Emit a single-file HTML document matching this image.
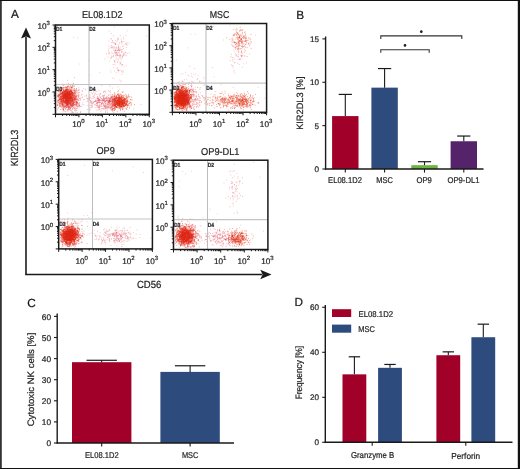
<!DOCTYPE html>
<html><head><meta charset="utf-8"><style>
html,body{margin:0;padding:0;background:#fff;width:520px;height:469px;overflow:hidden}
svg{display:block;will-change:transform;text-rendering:geometricPrecision}
text{font-family:"Liberation Sans", sans-serif;stroke:#2a2a2a;stroke-width:0.22px}
</style></head><body>
<svg width="520" height="469" viewBox="0 0 520 469" font-family='"Liberation Sans", sans-serif'>
<rect x="0" y="0" width="520" height="469" fill="#fff"/>
<path d="M0.9 0 V469" stroke="#333" stroke-width="1.8" fill="none"/>
<path d="M518.9 0 V469" stroke="#111" stroke-width="2.2" fill="none"/>
<path d="M0 0.5 H520" stroke="#111" stroke-width="1.2" fill="none"/>
<path d="M0 468.5 H520" stroke="#111" stroke-width="1.2" fill="none"/>
<text x="11.00" y="18.40" font-size="11.8" text-anchor="start" fill="#111" >A</text>
<text x="296.20" y="18.80" font-size="11.8" text-anchor="start" fill="#111" >B</text>
<text x="27.30" y="306.50" font-size="11.8" text-anchor="start" fill="#111" >C</text>
<text x="294.60" y="306.20" font-size="11.8" text-anchor="start" fill="#111" >D</text>
<path d="M67.3 97.8h0.9M67.6 101.9h0.9M67.8 92.2h0.9M58.6 99.5h0.9M68.0 93.9h0.9M60.3 92.2h0.9M67.2 102.5h0.9M61.7 93.1h0.9M64.3 107.9h0.9M66.4 96.3h0.9M68.2 95.3h0.9M71.4 99.0h0.9M65.2 100.8h0.9M66.1 94.2h0.9M66.4 93.9h0.9M67.2 93.8h0.9M61.4 103.3h0.9M68.1 97.5h0.9M66.5 96.7h0.9M67.5 89.8h0.9M67.7 97.4h0.9M57.5 104.7h0.9M67.9 97.0h0.9M66.6 94.8h0.9M64.4 102.7h0.9M64.1 91.0h0.9M61.0 97.2h0.9M73.8 99.2h0.9M67.2 93.3h0.9M62.2 100.3h0.9M65.3 100.2h0.9M72.7 90.3h0.9M71.7 93.0h0.9M65.2 98.9h0.9M75.9 102.8h0.9M67.2 98.4h0.9M66.2 98.1h0.9M59.7 94.0h0.9M62.7 103.1h0.9M76.6 103.7h0.9M65.2 91.9h0.9M67.2 105.2h0.9M73.4 94.9h0.9M67.5 98.2h0.9M62.5 94.5h0.9M67.3 104.4h0.9M69.0 97.4h0.9M66.1 103.1h0.9M64.7 98.6h0.9M70.4 97.6h0.9M74.3 91.1h0.9M69.6 94.2h0.9M65.5 92.0h0.9M63.4 99.8h0.9M64.5 95.9h0.9M66.1 104.6h0.9M73.2 101.8h0.9M76.3 110.3h0.9M71.7 104.5h0.9M68.3 97.7h0.9M69.6 97.1h0.9M58.3 96.0h0.9M65.6 93.2h0.9M61.9 94.0h0.9M72.4 100.1h0.9M65.5 96.6h0.9M68.3 93.0h0.9M65.6 90.3h0.9M69.4 92.6h0.9M65.9 99.5h0.9M68.1 98.5h0.9M68.9 97.0h0.9M63.5 100.3h0.9M60.3 109.5h0.9M74.2 92.7h0.9M66.6 91.7h0.9M71.7 96.2h0.9M59.0 99.2h0.9M62.1 94.1h0.9M69.3 106.6h0.9M68.4 99.2h0.9M60.1 99.0h0.9M60.9 96.4h0.9M72.1 101.4h0.9M71.1 92.3h0.9M66.9 97.8h0.9M75.9 101.8h0.9M67.0 97.3h0.9M64.0 94.1h0.9M61.0 99.1h0.9M67.7 95.6h0.9M66.1 88.0h0.9M66.6 97.1h0.9M68.6 103.5h0.9M68.3 98.3h0.9M60.1 93.3h0.9M61.3 93.9h0.9M74.6 93.0h0.9M69.1 95.0h0.9M70.0 95.4h0.9M59.8 106.8h0.9M64.5 96.7h0.9M64.5 95.3h0.9M70.4 98.6h0.9M64.8 102.7h0.9M68.2 90.6h0.9M66.4 97.8h0.9M64.3 92.0h0.9M72.0 92.7h0.9M64.1 95.1h0.9M71.5 97.9h0.9M67.6 97.7h0.9M69.4 98.9h0.9M66.6 97.7h0.9M65.6 100.5h0.9M66.3 93.5h0.9M71.7 94.1h0.9M72.9 93.3h0.9M69.9 107.8h0.9M70.4 91.7h0.9M64.5 97.9h0.9M76.4 102.6h0.9M67.7 102.0h0.9M65.9 102.0h0.9M75.8 95.6h0.9M67.0 100.4h0.9M62.3 98.2h0.9M70.6 93.8h0.9M74.4 99.0h0.9M64.2 94.7h0.9M70.8 87.9h0.9M65.6 100.0h0.9M66.4 92.9h0.9M64.3 92.3h0.9M70.2 101.2h0.9M60.6 101.9h0.9M67.8 96.2h0.9M67.7 107.2h0.9M79.1 105.6h0.9M65.1 96.1h0.9M60.7 104.1h0.9M71.0 96.2h0.9M61.9 96.6h0.9M71.6 94.7h0.9M66.9 97.1h0.9M67.4 103.8h0.9M71.3 105.7h0.9M63.0 95.7h0.9M66.0 95.5h0.9M62.9 95.4h0.9M72.5 97.8h0.9M67.8 98.6h0.9M68.2 104.4h0.9M64.9 90.0h0.9M72.1 97.0h0.9M72.8 105.3h0.9M65.6 105.7h0.9M64.3 98.0h0.9M67.4 91.5h0.9M72.8 100.9h0.9M75.8 89.9h0.9M70.7 103.3h0.9M56.9 105.2h0.9M69.0 99.2h0.9M72.0 98.9h0.9M72.2 107.0h0.9M72.0 99.1h0.9M65.4 99.7h0.9M65.5 96.1h0.9M66.3 97.3h0.9M68.6 97.8h0.9M74.6 91.1h0.9M67.0 105.3h0.9M70.0 94.7h0.9M65.9 96.7h0.9M117.4 104.0h0.9M121.9 92.2h0.9M125.5 108.2h0.9M117.4 100.5h0.9M115.5 106.6h0.9M113.7 100.9h0.9M123.2 99.3h0.9M118.5 103.3h0.9M121.6 97.4h0.9M114.2 107.5h0.9M125.4 96.3h0.9M121.3 100.8h0.9M117.9 99.2h0.9M121.6 102.8h0.9M118.9 105.2h0.9M122.1 109.6h0.9M117.8 104.2h0.9M127.9 96.0h0.9M121.3 106.5h0.9M123.3 96.9h0.9M114.9 105.5h0.9M119.1 103.1h0.9M113.1 103.8h0.9M113.3 99.5h0.9M122.1 101.2h0.9M124.6 98.3h0.9M121.3 97.4h0.9M120.2 106.6h0.9M115.5 105.3h0.9M121.9 100.3h0.9M125.4 105.3h0.9M116.1 102.9h0.9M118.4 100.6h0.9M109.3 102.7h0.9M117.1 104.6h0.9M116.9 94.8h0.9M118.6 106.4h0.9M119.0 101.7h0.9M118.8 103.3h0.9M113.9 110.4h0.9M118.5 97.2h0.9M118.5 98.3h0.9M114.7 98.4h0.9M119.5 102.0h0.9M113.7 96.8h0.9M126.4 96.1h0.9M121.1 106.7h0.9M115.6 103.0h0.9M114.6 103.1h0.9M109.3 101.2h0.9M111.0 97.8h0.9M117.4 102.4h0.9M117.2 103.2h0.9M115.4 100.9h0.9M128.4 105.5h0.9M121.1 99.8h0.9M117.4 104.2h0.9M117.2 104.6h0.9M127.5 97.9h0.9M116.7 107.5h0.9M118.3 103.3h0.9M124.2 102.4h0.9M123.2 105.5h0.9M122.7 103.5h0.9M121.0 105.1h0.9M121.1 95.3h0.9M117.1 100.6h0.9M117.5 103.1h0.9M118.4 97.0h0.9M117.2 100.3h0.9M119.2 107.2h0.9M114.1 98.8h0.9M111.3 96.8h0.9M119.4 98.3h0.9M114.0 98.6h0.9M115.7 98.1h0.9M119.8 100.7h0.9M126.0 96.0h0.9M120.6 102.5h0.9M122.2 100.6h0.9M114.5 106.0h0.9M113.6 95.4h0.9M117.2 99.2h0.9M121.0 105.2h0.9M117.6 105.1h0.9M119.2 103.0h0.9M106.9 98.9h0.9M119.7 106.5h0.9M113.7 101.1h0.9M122.7 103.6h0.9M123.6 100.2h0.9M123.0 100.1h0.9M122.2 103.8h0.9M129.0 103.2h0.9M126.5 101.4h0.9M123.4 101.3h0.9M117.6 103.8h0.9M131.3 103.0h0.9M110.0 99.0h0.9M121.4 96.7h0.9M115.0 106.6h0.9M123.2 101.9h0.9M122.1 103.1h0.9M123.8 98.3h0.9M121.5 98.3h0.9M116.9 103.9h0.9M120.5 104.6h0.9M119.0 97.6h0.9M109.5 101.7h0.9" stroke="#e2290b" stroke-width="0.9" stroke-opacity="0.55" fill="none"/>
<path d="M68.7 108.5h0.9M73.5 93.5h0.9M63.0 90.2h0.9M61.4 105.9h0.9M66.4 92.9h0.9M65.1 96.1h0.9M71.4 87.5h0.9M67.7 94.4h0.9M76.5 90.6h0.9M70.4 94.8h0.9M65.2 91.8h0.9M72.6 99.6h0.9M66.9 92.3h0.9M74.3 98.0h0.9M62.2 88.1h0.9M70.4 105.5h0.9M68.9 97.9h0.9M77.6 92.9h0.9M66.4 96.5h0.9M62.4 93.0h0.9M64.6 99.6h0.9M71.2 87.2h0.9M60.2 97.3h0.9M62.8 98.3h0.9M61.4 102.5h0.9M65.8 98.3h0.9M63.6 101.4h0.9M60.6 96.2h0.9M67.6 90.6h0.9M61.7 103.1h0.9M65.0 102.7h0.9M70.4 96.7h0.9M66.7 103.9h0.9M74.3 86.0h0.9M74.1 95.1h0.9M71.2 99.3h0.9M67.5 100.8h0.9M69.6 103.7h0.9M63.2 98.8h0.9M60.9 99.2h0.9M70.7 90.7h0.9M57.2 101.9h0.9M67.5 97.1h0.9M67.1 101.2h0.9M69.7 100.2h0.9M61.2 98.6h0.9M66.5 99.8h0.9M65.5 101.4h0.9M67.8 94.0h0.9M69.9 89.8h0.9M67.6 101.5h0.9M66.3 91.2h0.9M71.4 100.0h0.9M68.2 99.2h0.9M66.4 87.2h0.9M63.1 98.0h0.9M66.4 100.6h0.9M63.0 97.2h0.9M68.7 92.7h0.9M75.9 102.9h0.9M60.8 91.2h0.9M64.2 92.0h0.9M67.0 100.5h0.9M72.2 94.6h0.9M65.7 92.9h0.9M71.9 100.7h0.9M72.0 104.2h0.9M58.6 98.1h0.9M62.1 98.3h0.9M59.6 88.5h0.9M62.5 92.5h0.9M65.9 94.6h0.9M67.3 101.2h0.9M63.7 95.5h0.9M70.1 104.9h0.9M63.1 100.6h0.9M67.0 100.8h0.9M69.0 94.4h0.9M62.8 102.7h0.9M67.2 89.4h0.9M62.6 96.8h0.9M65.7 95.3h0.9M62.3 91.4h0.9M65.5 95.2h0.9M66.9 104.6h0.9M66.7 97.3h0.9M62.5 92.0h0.9M62.9 97.4h0.9M67.6 103.1h0.9M68.0 100.8h0.9M64.8 96.5h0.9M65.3 97.8h0.9M69.1 94.0h0.9M60.3 102.3h0.9M71.6 93.3h0.9M64.4 97.9h0.9M66.8 98.6h0.9M67.8 98.2h0.9M72.2 94.9h0.9M70.0 98.3h0.9M63.3 97.0h0.9M67.2 96.1h0.9M75.1 98.0h0.9M67.1 92.4h0.9M73.5 89.3h0.9M70.9 87.5h0.9M60.3 91.0h0.9M66.2 93.7h0.9M70.4 93.7h0.9M64.4 103.0h0.9M68.3 93.1h0.9M63.5 98.6h0.9M68.3 86.4h0.9M62.6 96.2h0.9M70.5 94.1h0.9M66.8 89.4h0.9M69.6 96.5h0.9M70.4 97.6h0.9M65.7 99.0h0.9M65.7 92.2h0.9M67.4 100.6h0.9M58.1 94.8h0.9M67.0 94.0h0.9M76.4 99.0h0.9M67.0 97.0h0.9M65.6 103.8h0.9M62.2 95.6h0.9M64.2 93.5h0.9M64.9 94.4h0.9M66.0 95.3h0.9M60.4 96.5h0.9M60.2 97.6h0.9M58.2 102.0h0.9M67.5 100.6h0.9M66.5 94.9h0.9M61.7 106.6h0.9M64.4 98.3h0.9M62.7 94.1h0.9M67.2 86.6h0.9M65.4 98.5h0.9M69.9 97.0h0.9M63.6 96.0h0.9M64.5 96.8h0.9M68.8 107.4h0.9M67.8 97.2h0.9M76.9 95.8h0.9M66.8 90.9h0.9M67.9 93.9h0.9M66.2 99.6h0.9M77.9 96.6h0.9M74.4 96.6h0.9M64.2 103.8h0.9M57.5 97.4h0.9M65.2 100.2h0.9M64.4 100.3h0.9M71.6 103.6h0.9M68.9 109.7h0.9M64.7 93.3h0.9M70.0 94.8h0.9M75.1 97.0h0.9M67.0 102.4h0.9M70.2 98.7h0.9M63.1 90.3h0.9M66.6 94.3h0.9M65.7 97.9h0.9M65.5 94.8h0.9M76.6 99.5h0.9M69.3 91.0h0.9M57.1 95.6h0.9M60.7 97.4h0.9M62.4 104.5h0.9M69.9 93.0h0.9M66.2 99.8h0.9M71.4 96.7h0.9M122.3 100.3h0.9M123.8 102.7h0.9M122.4 105.9h0.9M115.6 98.0h0.9M122.5 102.7h0.9M125.2 101.1h0.9M117.8 104.0h0.9M123.8 103.3h0.9M123.4 108.0h0.9M122.7 102.3h0.9M123.8 105.9h0.9M123.9 95.3h0.9M115.6 97.5h0.9M117.9 104.0h0.9M127.0 100.4h0.9M123.4 106.3h0.9M115.7 99.2h0.9M131.0 97.1h0.9M118.9 100.2h0.9M121.2 99.2h0.9M117.4 107.1h0.9M122.1 100.9h0.9M113.8 108.6h0.9M115.9 101.5h0.9M118.3 105.0h0.9M123.9 111.2h0.9M116.8 105.5h0.9M118.7 98.5h0.9M125.0 99.1h0.9M119.1 101.2h0.9M118.6 97.2h0.9M114.1 99.6h0.9M115.7 102.1h0.9M115.3 103.3h0.9M126.5 101.1h0.9M121.6 97.9h0.9M118.1 101.9h0.9M119.5 97.0h0.9M114.2 103.1h0.9M120.1 97.7h0.9M124.1 103.9h0.9M123.1 102.6h0.9M118.8 106.6h0.9M121.1 103.0h0.9M118.4 102.2h0.9M129.3 96.4h0.9M119.4 103.8h0.9M121.6 102.8h0.9M121.9 103.1h0.9M120.6 100.5h0.9M126.9 102.4h0.9M122.2 105.5h0.9M120.6 104.4h0.9M126.0 98.9h0.9M107.6 106.9h0.9M126.8 101.2h0.9M108.4 104.0h0.9M116.8 111.2h0.9M117.2 100.6h0.9M117.5 104.8h0.9M125.3 104.5h0.9M121.4 99.0h0.9M121.5 101.5h0.9M122.9 104.4h0.9M115.1 101.1h0.9M119.3 102.2h0.9M121.9 104.4h0.9M123.3 105.1h0.9M116.9 100.3h0.9M114.4 97.5h0.9M121.2 103.7h0.9M120.6 104.7h0.9M124.1 103.4h0.9M119.5 105.3h0.9M108.9 100.1h0.9M122.4 100.7h0.9M114.2 96.4h0.9M118.4 94.3h0.9M122.5 104.7h0.9M121.2 106.9h0.9M123.8 101.0h0.9M118.9 104.9h0.9M134.1 104.6h0.9M122.7 97.2h0.9M111.9 99.4h0.9M119.6 108.5h0.9M117.4 98.0h0.9M114.9 105.1h0.9M124.2 99.6h0.9M119.1 98.2h0.9M124.4 103.5h0.9M117.7 104.0h0.9M125.8 104.6h0.9M119.2 105.8h0.9M117.6 105.8h0.9M129.1 108.0h0.9M115.0 102.0h0.9M122.6 107.0h0.9M125.9 103.8h0.9M120.8 96.8h0.9M113.6 101.2h0.9M127.4 105.4h0.9M126.4 97.8h0.9M119.1 98.7h0.9M112.2 101.3h0.9M124.7 100.1h0.9M121.1 102.6h0.9M115.7 102.2h0.9M110.7 97.4h0.9" stroke="#e2290b" stroke-width="0.9" stroke-opacity="0.55" fill="none"/>
<path d="M66.0 102.6h0.9M65.0 94.1h0.9M67.2 94.1h0.9M58.8 102.7h0.9M62.8 96.3h0.9M64.6 97.3h0.9M73.6 100.9h0.9M70.8 98.7h0.9M67.0 96.3h0.9M67.9 97.1h0.9M61.2 98.9h0.9M73.1 103.5h0.9M65.3 94.0h0.9M67.2 97.1h0.9M65.7 98.8h0.9M59.5 98.9h0.9M63.5 97.0h0.9M70.5 99.3h0.9M68.5 99.8h0.9M66.8 94.6h0.9M59.3 95.7h0.9M73.0 96.9h0.9M72.4 100.2h0.9M73.1 103.7h0.9M64.7 94.9h0.9M74.9 101.9h0.9M66.3 100.1h0.9M63.8 91.8h0.9M73.4 95.6h0.9M70.2 102.9h0.9M69.1 98.7h0.9M69.8 100.4h0.9M61.6 94.2h0.9M62.0 92.1h0.9M59.7 94.1h0.9M63.3 94.4h0.9M67.0 97.1h0.9M68.2 94.5h0.9M71.4 102.2h0.9M66.9 104.6h0.9M64.1 96.8h0.9M61.9 104.7h0.9M67.5 97.0h0.9M64.2 98.1h0.9M75.2 98.5h0.9M68.5 89.9h0.9M72.8 92.8h0.9M58.9 99.2h0.9M68.3 91.3h0.9M67.0 98.1h0.9M65.7 96.3h0.9M66.3 98.8h0.9M63.8 94.3h0.9M67.3 94.7h0.9M62.5 109.3h0.9M72.3 92.0h0.9M64.6 105.7h0.9M63.4 91.8h0.9M65.9 96.5h0.9M70.0 93.7h0.9M71.2 97.8h0.9M70.2 91.6h0.9M66.5 95.8h0.9M72.3 95.4h0.9M61.3 97.8h0.9M59.3 105.1h0.9M68.3 94.3h0.9M73.5 96.3h0.9M79.0 102.8h0.9M65.5 91.5h0.9M65.0 95.7h0.9M62.6 93.1h0.9M64.3 97.1h0.9M69.1 95.3h0.9M67.1 99.6h0.9M67.1 109.7h0.9M72.4 103.2h0.9M63.6 96.6h0.9M61.7 100.7h0.9M68.0 100.8h0.9M61.2 103.8h0.9M73.7 97.8h0.9M66.0 100.5h0.9M63.3 104.6h0.9M62.1 98.8h0.9M63.8 97.5h0.9M70.1 95.0h0.9M66.2 89.4h0.9M61.1 100.4h0.9M66.6 99.2h0.9M67.7 96.0h0.9M69.8 91.9h0.9M64.3 94.9h0.9M69.8 86.9h0.9M66.6 98.7h0.9M73.2 105.0h0.9M66.2 101.4h0.9M71.9 92.5h0.9M69.1 94.7h0.9M67.0 104.0h0.9M56.9 96.2h0.9M70.8 96.3h0.9M72.5 95.6h0.9M71.5 104.3h0.9M67.2 91.4h0.9M72.1 99.6h0.9M72.1 92.7h0.9M72.3 93.1h0.9M68.5 98.9h0.9M65.3 103.0h0.9M74.4 96.0h0.9M59.7 87.2h0.9M70.1 100.4h0.9M72.5 101.0h0.9M60.0 96.0h0.9M70.6 102.7h0.9M70.4 90.9h0.9M58.0 94.4h0.9M59.5 103.6h0.9M59.0 90.1h0.9M68.9 92.9h0.9M64.8 95.9h0.9M73.4 86.7h0.9M66.0 90.2h0.9M77.8 95.2h0.9M66.3 106.0h0.9M67.7 100.7h0.9M70.4 98.1h0.9M64.2 95.4h0.9M64.3 94.3h0.9M63.8 102.2h0.9M70.5 98.7h0.9M73.0 99.6h0.9M66.1 105.3h0.9M59.4 95.9h0.9M69.8 101.6h0.9M65.2 100.1h0.9M62.8 100.1h0.9M68.0 102.0h0.9M66.9 96.9h0.9M74.0 98.9h0.9M66.6 94.5h0.9M72.9 98.8h0.9M73.4 107.0h0.9M70.9 97.0h0.9M69.4 97.9h0.9M66.7 99.7h0.9M70.4 92.9h0.9M76.6 99.0h0.9M61.2 101.8h0.9M68.6 93.9h0.9M71.4 91.4h0.9M64.0 101.0h0.9M62.2 92.2h0.9M72.8 94.8h0.9M67.2 97.7h0.9M65.3 95.6h0.9M77.7 95.0h0.9M58.3 100.6h0.9M69.4 98.4h0.9M62.5 103.0h0.9M63.1 101.6h0.9M72.1 86.4h0.9M66.2 93.8h0.9M69.4 95.2h0.9M69.0 104.0h0.9M67.6 95.7h0.9M69.0 93.9h0.9M59.3 94.3h0.9M70.3 100.1h0.9M75.4 95.9h0.9M71.1 91.5h0.9M65.7 106.1h0.9M119.4 103.4h0.9M124.3 98.7h0.9M119.5 105.1h0.9M129.4 103.6h0.9M122.6 92.1h0.9M120.8 99.6h0.9M112.3 100.1h0.9M123.8 106.3h0.9M119.3 103.6h0.9M121.1 102.5h0.9M116.1 100.1h0.9M116.7 102.6h0.9M121.0 102.8h0.9M112.2 100.2h0.9M122.5 102.2h0.9M115.6 104.5h0.9M112.0 105.4h0.9M114.7 106.1h0.9M126.6 106.8h0.9M120.6 101.6h0.9M114.0 104.8h0.9M119.8 100.2h0.9M118.9 102.3h0.9M114.7 108.6h0.9M121.2 104.3h0.9M116.8 101.2h0.9M122.8 101.1h0.9M118.6 95.5h0.9M125.8 105.2h0.9M126.5 99.0h0.9M123.9 98.9h0.9M124.8 105.8h0.9M126.0 104.4h0.9M113.6 100.7h0.9M114.4 93.2h0.9M127.3 105.3h0.9M117.4 101.6h0.9M118.2 99.2h0.9M115.0 104.4h0.9M121.5 100.3h0.9M119.3 105.7h0.9M113.9 99.6h0.9M122.2 100.3h0.9M124.4 101.3h0.9M120.1 98.9h0.9M117.1 100.9h0.9M117.9 101.9h0.9M119.6 102.0h0.9M117.9 100.0h0.9M111.8 110.2h0.9M112.8 108.5h0.9M118.1 101.4h0.9M128.1 94.7h0.9M113.7 103.0h0.9M120.7 94.7h0.9M114.6 105.7h0.9M126.0 102.0h0.9M126.1 104.6h0.9M112.5 99.6h0.9M116.8 100.6h0.9M120.8 102.8h0.9M127.6 104.1h0.9M118.5 96.8h0.9M112.8 108.6h0.9M116.2 101.5h0.9M123.4 99.4h0.9M120.5 105.7h0.9M127.2 100.0h0.9M108.6 102.1h0.9M122.7 97.5h0.9M118.3 99.0h0.9M125.0 102.9h0.9M121.9 108.4h0.9M114.9 99.9h0.9M117.8 96.3h0.9M118.7 105.7h0.9M113.0 105.5h0.9M117.5 98.8h0.9M122.4 100.9h0.9M121.4 100.6h0.9M108.9 98.3h0.9M125.2 104.6h0.9M119.3 96.1h0.9M119.7 97.9h0.9M116.2 97.4h0.9M113.6 99.9h0.9M111.0 103.4h0.9M128.3 96.9h0.9M118.1 100.3h0.9M121.3 100.3h0.9M123.4 97.8h0.9M119.5 102.5h0.9M116.0 101.6h0.9M114.8 104.9h0.9M126.1 100.5h0.9M127.3 107.2h0.9M117.7 102.6h0.9M116.7 103.1h0.9M121.8 103.3h0.9M114.9 98.7h0.9M124.5 101.6h0.9M122.3 106.1h0.9M125.7 103.3h0.9M118.7 102.8h0.9M124.3 103.0h0.9M115.1 105.8h0.9M113.7 104.5h0.9M130.0 99.4h0.9" stroke="#e2290b" stroke-width="0.9" stroke-opacity="0.55" fill="none"/>
<path d="M63.2 92.2h0.9M64.4 101.4h0.9M70.5 87.0h0.9M66.2 92.0h0.9M64.8 89.9h0.9M63.6 98.1h0.9M66.8 94.0h0.9M60.2 98.9h0.9M61.8 108.8h0.9M70.4 94.8h0.9M61.8 93.2h0.9M63.6 97.6h0.9M70.5 97.5h0.9M65.9 102.6h0.9M65.3 102.2h0.9M72.1 97.3h0.9M57.9 100.1h0.9M64.4 97.7h0.9M69.7 102.1h0.9M63.4 97.5h0.9M58.1 96.1h0.9M70.8 98.3h0.9M73.9 88.7h0.9M64.8 101.4h0.9M66.6 96.6h0.9M67.3 95.6h0.9M64.2 96.9h0.9M64.4 105.4h0.9M69.4 103.3h0.9M65.0 94.2h0.9M65.9 102.8h0.9M64.7 95.5h0.9M70.9 98.3h0.9M71.3 95.2h0.9M59.5 106.6h0.9M57.6 100.9h0.9M60.3 98.8h0.9M69.2 96.7h0.9M63.7 94.8h0.9M66.9 104.3h0.9M67.7 93.4h0.9M58.2 96.4h0.9M63.0 89.5h0.9M71.0 100.9h0.9M72.3 85.4h0.9M74.0 90.8h0.9M67.0 101.4h0.9M68.8 103.4h0.9M74.5 99.1h0.9M66.1 91.5h0.9M64.6 99.2h0.9M62.2 95.8h0.9M67.8 98.7h0.9M70.0 100.2h0.9M62.7 87.5h0.9M68.8 92.1h0.9M74.3 100.2h0.9M61.1 93.1h0.9M65.0 96.5h0.9M67.1 96.8h0.9M67.6 95.8h0.9M70.5 104.8h0.9M77.7 104.0h0.9M62.0 101.0h0.9M65.1 89.4h0.9M60.7 99.4h0.9M63.7 101.2h0.9M61.7 84.5h0.9M70.1 97.8h0.9M66.5 97.7h0.9M71.8 103.4h0.9M65.2 94.9h0.9M61.4 98.6h0.9M62.8 96.5h0.9M66.3 100.7h0.9M62.3 105.5h0.9M59.4 91.7h0.9M60.3 94.2h0.9M64.0 98.0h0.9M58.9 95.6h0.9M67.5 111.0h0.9M70.7 91.7h0.9M60.4 96.8h0.9M58.6 92.0h0.9M67.0 93.1h0.9M67.0 96.8h0.9M66.8 100.7h0.9M64.8 91.1h0.9M64.5 97.4h0.9M65.3 93.3h0.9M61.8 95.2h0.9M59.6 100.3h0.9M66.1 102.4h0.9M72.7 93.4h0.9M65.6 98.8h0.9M61.5 93.4h0.9M63.7 93.5h0.9M65.9 96.5h0.9M68.7 98.6h0.9M65.8 87.4h0.9M68.7 94.7h0.9M76.3 101.2h0.9M74.1 95.4h0.9M60.4 90.8h0.9M69.6 97.2h0.9M63.1 99.4h0.9M63.1 102.1h0.9M72.9 96.8h0.9M66.7 100.9h0.9M60.7 96.8h0.9M65.8 94.3h0.9M67.2 93.0h0.9M62.5 92.6h0.9M76.8 102.4h0.9M65.0 90.8h0.9M70.2 101.0h0.9M69.0 95.0h0.9M72.9 93.8h0.9M63.2 99.2h0.9M60.4 101.6h0.9M64.5 90.9h0.9M70.5 100.8h0.9M67.7 105.8h0.9M67.0 101.9h0.9M71.5 98.8h0.9M64.9 91.9h0.9M70.1 97.4h0.9M69.8 96.0h0.9M69.0 91.0h0.9M63.1 102.1h0.9M66.8 102.5h0.9M69.3 99.1h0.9M68.3 96.8h0.9M66.0 91.4h0.9M64.0 92.7h0.9M63.4 98.7h0.9M62.9 99.8h0.9M66.4 103.8h0.9M63.2 97.3h0.9M68.3 93.2h0.9M78.7 106.5h0.9M65.0 96.9h0.9M68.8 93.2h0.9M68.5 101.6h0.9M70.7 96.8h0.9M62.0 104.3h0.9M62.4 96.6h0.9M66.3 96.2h0.9M72.2 102.9h0.9M70.7 91.9h0.9M70.5 91.7h0.9M66.4 95.7h0.9M73.1 97.3h0.9M65.3 96.9h0.9M64.8 87.7h0.9M72.4 98.9h0.9M63.5 91.0h0.9M62.8 95.6h0.9M70.3 89.2h0.9M71.7 94.5h0.9M60.1 103.4h0.9M67.4 101.0h0.9M66.6 97.8h0.9M63.5 105.0h0.9M75.5 97.2h0.9M67.5 99.7h0.9M64.0 91.8h0.9M62.4 92.6h0.9M61.0 95.6h0.9M68.2 102.1h0.9M67.1 106.9h0.9M63.7 95.7h0.9M113.5 106.1h0.9M118.9 103.1h0.9M116.9 97.7h0.9M120.1 102.8h0.9M118.0 99.7h0.9M130.9 104.4h0.9M114.4 96.0h0.9M120.5 105.8h0.9M121.2 107.0h0.9M126.6 102.2h0.9M118.1 100.3h0.9M128.5 103.9h0.9M119.1 104.9h0.9M118.6 101.5h0.9M123.0 95.8h0.9M121.4 102.2h0.9M124.7 98.5h0.9M124.1 101.3h0.9M122.0 103.4h0.9M127.4 104.2h0.9M119.5 106.6h0.9M114.4 107.9h0.9M123.7 106.4h0.9M118.2 97.8h0.9M114.5 103.0h0.9M124.8 102.7h0.9M115.3 104.0h0.9M117.0 103.5h0.9M120.6 99.5h0.9M112.4 102.7h0.9M115.9 95.6h0.9M125.4 94.4h0.9M120.5 99.1h0.9M120.8 103.1h0.9M114.6 104.6h0.9M110.5 98.2h0.9M123.8 100.0h0.9M123.8 104.1h0.9M114.0 103.8h0.9M110.5 105.8h0.9M116.1 107.0h0.9M118.5 102.6h0.9M119.4 98.3h0.9M123.9 103.9h0.9M117.1 100.4h0.9M120.9 103.7h0.9M119.6 98.3h0.9M124.3 101.5h0.9M119.9 98.3h0.9M124.8 99.3h0.9M119.5 105.4h0.9M123.5 100.5h0.9M120.7 106.3h0.9M114.6 98.4h0.9M122.4 103.1h0.9M111.4 96.5h0.9M118.0 97.8h0.9M125.9 103.5h0.9M119.0 104.5h0.9M120.6 104.2h0.9M118.5 107.7h0.9M125.5 98.9h0.9M111.9 108.4h0.9M124.0 103.2h0.9M109.0 102.0h0.9M120.7 106.2h0.9M114.3 100.6h0.9M117.2 106.0h0.9M120.4 101.7h0.9M111.7 109.6h0.9M113.4 102.0h0.9M124.1 106.0h0.9M122.4 104.5h0.9M119.7 102.2h0.9M119.8 103.8h0.9M119.6 101.4h0.9M117.4 102.6h0.9M112.3 105.8h0.9M119.0 103.4h0.9M119.7 101.5h0.9M118.0 90.8h0.9M118.2 95.1h0.9M116.4 97.7h0.9M112.1 98.6h0.9M115.5 100.2h0.9M116.0 102.1h0.9M116.9 103.8h0.9M123.4 101.9h0.9M117.8 95.5h0.9M115.8 98.4h0.9M121.5 102.2h0.9M117.6 101.2h0.9M114.7 100.8h0.9M123.7 100.5h0.9M117.2 101.1h0.9M122.3 104.1h0.9M106.8 100.0h0.9M121.7 95.9h0.9M113.4 99.7h0.9M115.9 106.9h0.9M114.5 99.6h0.9M122.7 103.1h0.9M130.1 102.6h0.9M114.0 94.9h0.9M114.1 105.8h0.9M119.3 100.1h0.9M121.8 105.0h0.9M111.5 106.7h0.9" stroke="#e2290b" stroke-width="0.9" stroke-opacity="0.55" fill="none"/>
<path d="M65.2 93.3h0.9M69.6 101.3h0.9M61.1 100.7h0.9M61.5 101.3h0.9M67.1 104.1h0.9M72.2 98.5h0.9M67.8 97.9h0.9M71.3 94.2h0.9M67.6 100.9h0.9M73.9 100.7h0.9M64.6 96.5h0.9M70.3 96.7h0.9M65.8 93.9h0.9M68.9 93.7h0.9M72.7 100.3h0.9M67.3 102.2h0.9M65.9 94.5h0.9M68.2 108.1h0.9M62.5 95.0h0.9M71.8 92.6h0.9M62.1 88.9h0.9M63.4 95.6h0.9M67.0 96.6h0.9M67.1 95.0h0.9M71.7 96.5h0.9M65.6 89.3h0.9M62.5 96.4h0.9M59.2 97.2h0.9M64.8 98.3h0.9M68.6 95.7h0.9M66.6 103.6h0.9M60.9 101.5h0.9M71.1 101.6h0.9M69.6 92.8h0.9M71.1 95.2h0.9M68.5 95.1h0.9M66.5 96.9h0.9M62.7 100.6h0.9M68.9 99.6h0.9M67.2 98.1h0.9M66.0 103.0h0.9M72.5 98.5h0.9M69.8 90.0h0.9M61.5 93.8h0.9M65.2 103.9h0.9M67.7 109.7h0.9M67.3 91.6h0.9M71.7 93.8h0.9M66.4 95.0h0.9M64.4 106.5h0.9M67.0 105.2h0.9M60.0 91.0h0.9M74.3 99.9h0.9M69.4 96.0h0.9M61.6 101.7h0.9M68.5 94.0h0.9M67.5 104.1h0.9M68.6 87.2h0.9M68.3 106.2h0.9M59.5 101.5h0.9M66.6 93.8h0.9M68.3 108.2h0.9M67.8 98.6h0.9M69.7 95.3h0.9M71.0 90.8h0.9M68.1 95.7h0.9M63.0 109.5h0.9M73.5 90.5h0.9M74.6 108.1h0.9M61.5 93.0h0.9M67.1 95.1h0.9M67.1 96.8h0.9M71.2 93.4h0.9M63.8 95.5h0.9M66.8 101.0h0.9M70.3 102.7h0.9M62.3 99.2h0.9M70.0 99.4h0.9M75.9 96.9h0.9M76.1 88.6h0.9M71.1 98.1h0.9M69.7 104.6h0.9M62.8 85.1h0.9M65.5 92.3h0.9M67.1 97.0h0.9M64.5 94.6h0.9M68.5 100.3h0.9M68.4 101.1h0.9M65.9 107.4h0.9M65.6 97.6h0.9M68.4 89.5h0.9M69.4 91.6h0.9M70.2 95.5h0.9M71.9 92.5h0.9M69.0 97.9h0.9M68.5 94.3h0.9M64.1 96.3h0.9M67.0 94.9h0.9M69.0 100.3h0.9M59.5 100.1h0.9M71.4 101.4h0.9M66.7 91.5h0.9M68.7 93.5h0.9M66.6 95.2h0.9M62.9 95.8h0.9M63.1 94.3h0.9M69.6 100.0h0.9M63.4 87.9h0.9M67.6 98.9h0.9M77.6 103.9h0.9M62.8 91.3h0.9M70.4 100.3h0.9M69.6 101.3h0.9M63.9 94.5h0.9M65.6 102.8h0.9M66.2 101.1h0.9M76.2 101.8h0.9M66.4 105.6h0.9M63.9 93.7h0.9M68.5 98.7h0.9M61.7 101.4h0.9M68.7 92.4h0.9M59.6 91.2h0.9M64.2 91.9h0.9M65.3 93.3h0.9M66.2 93.9h0.9M68.5 97.8h0.9M74.2 102.5h0.9M73.7 92.8h0.9M63.1 98.7h0.9M68.7 91.9h0.9M61.7 104.5h0.9M68.9 97.4h0.9M69.1 98.4h0.9M61.1 101.8h0.9M66.9 94.0h0.9M67.1 98.9h0.9M70.9 92.6h0.9M65.1 95.3h0.9M59.1 94.9h0.9M70.2 102.4h0.9M72.6 95.0h0.9M70.8 103.4h0.9M59.3 98.7h0.9M71.0 100.5h0.9M68.0 103.1h0.9M65.3 95.7h0.9M67.2 88.4h0.9M68.1 92.5h0.9M70.7 90.2h0.9M67.1 92.3h0.9M67.5 94.4h0.9M68.0 101.5h0.9M72.8 97.5h0.9M66.9 100.6h0.9M69.2 91.4h0.9M65.0 94.2h0.9M68.3 96.5h0.9M71.0 93.7h0.9M70.4 98.4h0.9M66.9 92.5h0.9M66.2 96.4h0.9M67.2 92.0h0.9M66.9 98.0h0.9M67.7 92.5h0.9M69.0 101.3h0.9M71.7 105.8h0.9M66.0 104.0h0.9M64.0 97.6h0.9M57.9 90.9h0.9M68.7 92.0h0.9M67.9 98.8h0.9M75.3 93.9h0.9M66.1 97.2h0.9M123.5 100.7h0.9M112.5 102.8h0.9M119.2 100.5h0.9M116.1 103.3h0.9M119.2 101.8h0.9M115.4 100.4h0.9M119.5 104.2h0.9M119.1 99.9h0.9M117.4 100.9h0.9M119.3 104.3h0.9M119.6 108.2h0.9M117.6 101.7h0.9M127.0 105.7h0.9M114.9 109.6h0.9M120.1 101.9h0.9M131.6 99.8h0.9M119.3 95.6h0.9M122.0 102.8h0.9M120.7 102.0h0.9M121.5 100.7h0.9M120.2 100.5h0.9M125.1 101.3h0.9M124.6 100.4h0.9M110.5 107.9h0.9M112.0 96.1h0.9M117.4 97.9h0.9M114.5 99.5h0.9M125.9 97.9h0.9M110.6 107.4h0.9M122.3 106.1h0.9M112.2 109.6h0.9M120.3 102.1h0.9M121.3 102.1h0.9M119.5 102.2h0.9M117.9 104.7h0.9M118.9 100.3h0.9M116.8 107.9h0.9M119.0 99.4h0.9M119.9 98.9h0.9M127.1 101.4h0.9M129.5 102.2h0.9M120.9 104.7h0.9M113.2 101.4h0.9M121.0 100.9h0.9M119.5 101.7h0.9M117.9 103.3h0.9M114.2 98.6h0.9M118.9 104.3h0.9M119.3 103.8h0.9M109.5 101.2h0.9M116.4 104.3h0.9M117.3 102.4h0.9M119.9 110.4h0.9M118.5 104.6h0.9M113.6 99.5h0.9M123.7 105.8h0.9M124.4 103.9h0.9M108.7 107.6h0.9M118.5 100.9h0.9M115.1 104.9h0.9M121.6 106.4h0.9M118.8 105.3h0.9M110.2 101.4h0.9M116.4 107.0h0.9M114.6 103.2h0.9M116.0 100.5h0.9M119.0 102.2h0.9M117.3 94.5h0.9M121.8 101.8h0.9M117.5 93.5h0.9M118.8 105.1h0.9M111.4 107.0h0.9M114.8 102.8h0.9M122.1 102.3h0.9M117.8 100.4h0.9M114.3 104.3h0.9M124.8 105.5h0.9M116.2 104.0h0.9M118.0 102.5h0.9M115.3 99.8h0.9M130.5 99.9h0.9M121.9 105.1h0.9M116.6 96.8h0.9M121.6 102.7h0.9M118.8 102.1h0.9M114.9 106.8h0.9M123.1 101.4h0.9M124.4 102.3h0.9M120.6 101.8h0.9M121.5 98.0h0.9M122.0 95.8h0.9M112.3 104.9h0.9M126.0 103.0h0.9M127.1 97.2h0.9M111.4 104.5h0.9M117.9 102.8h0.9M119.9 101.8h0.9M113.1 98.3h0.9M118.7 102.8h0.9M119.5 97.0h0.9M124.2 101.7h0.9M114.6 103.0h0.9M120.5 98.7h0.9M123.8 99.0h0.9M123.0 104.7h0.9M116.7 99.6h0.9M115.2 96.9h0.9M122.5 103.7h0.9" stroke="#e2290b" stroke-width="0.9" stroke-opacity="0.55" fill="none"/>
<path d="M62.7 95.4h0.9M68.9 95.6h0.9M65.2 94.4h0.9M68.5 102.6h0.9M67.8 86.2h0.9M63.6 96.3h0.9M67.6 98.3h0.9M67.8 106.7h0.9M70.0 98.3h0.9M64.2 95.5h0.9M66.4 102.1h0.9M58.1 95.9h0.9M65.6 95.0h0.9M66.7 86.8h0.9M70.3 91.1h0.9M70.0 108.6h0.9M63.2 92.4h0.9M69.6 93.4h0.9M66.9 93.5h0.9M68.2 95.6h0.9M69.0 92.0h0.9M70.9 93.6h0.9M66.0 93.4h0.9M63.7 101.6h0.9M67.4 101.1h0.9M65.9 93.2h0.9M68.9 93.5h0.9M70.7 90.4h0.9M66.6 90.3h0.9M67.1 98.6h0.9M67.4 100.3h0.9M71.7 95.6h0.9M71.5 102.2h0.9M71.3 98.2h0.9M62.6 91.6h0.9M67.5 93.1h0.9M62.8 110.3h0.9M64.3 101.4h0.9M68.9 100.0h0.9M60.6 90.5h0.9M72.6 100.0h0.9M64.9 98.1h0.9M68.0 93.1h0.9M68.3 102.4h0.9M66.7 98.3h0.9M70.8 105.6h0.9M62.3 100.6h0.9M74.3 96.3h0.9M71.5 91.4h0.9M67.5 88.8h0.9M74.7 90.4h0.9M71.3 95.7h0.9M66.2 92.8h0.9M65.9 89.1h0.9M76.6 100.8h0.9M62.2 103.0h0.9M69.8 85.7h0.9M74.1 104.6h0.9M66.4 89.5h0.9M66.9 103.3h0.9M69.1 91.6h0.9M59.4 98.3h0.9M63.7 99.5h0.9M62.0 98.6h0.9M66.7 90.8h0.9M66.4 93.6h0.9M69.1 104.0h0.9M71.0 104.6h0.9M65.5 94.2h0.9M64.3 94.0h0.9M72.2 99.7h0.9M64.8 100.8h0.9M71.4 102.0h0.9M64.9 93.1h0.9M70.0 96.4h0.9M67.5 104.2h0.9M62.3 105.1h0.9M63.9 93.2h0.9M63.8 90.6h0.9M65.8 99.9h0.9M62.5 102.0h0.9M62.9 104.2h0.9M62.4 93.0h0.9M73.7 97.3h0.9M67.2 104.1h0.9M73.2 103.1h0.9M63.9 106.4h0.9M66.5 96.7h0.9M67.3 95.0h0.9M57.8 100.5h0.9M62.8 96.5h0.9M68.0 95.6h0.9M68.4 96.2h0.9M69.3 95.9h0.9M68.4 92.2h0.9M60.4 99.2h0.9M75.3 97.0h0.9M69.3 102.5h0.9M70.7 107.3h0.9M62.7 98.2h0.9M65.6 90.7h0.9M69.1 95.5h0.9M69.8 93.0h0.9M70.9 97.0h0.9M67.1 100.9h0.9M66.4 94.9h0.9M68.8 95.4h0.9M65.1 99.9h0.9M68.2 103.0h0.9M65.7 102.1h0.9M76.5 98.1h0.9M67.8 100.3h0.9M63.8 93.8h0.9M63.2 88.8h0.9M65.7 107.6h0.9M78.9 105.2h0.9M65.6 102.6h0.9M75.2 94.2h0.9M69.3 99.5h0.9M65.8 102.0h0.9M72.4 97.8h0.9M65.0 99.4h0.9M66.8 87.4h0.9M67.2 92.0h0.9M73.9 92.4h0.9M66.9 98.4h0.9M69.7 102.5h0.9M67.9 107.6h0.9M58.3 102.8h0.9M60.1 99.9h0.9M57.7 91.7h0.9M74.6 99.0h0.9M69.3 95.9h0.9M67.8 102.8h0.9M69.2 98.3h0.9M74.8 96.9h0.9M64.0 95.8h0.9M71.8 100.4h0.9M62.0 97.2h0.9M57.6 91.1h0.9M65.2 101.0h0.9M64.6 97.9h0.9M65.1 97.1h0.9M65.0 99.4h0.9M66.0 98.7h0.9M62.2 92.7h0.9M75.5 92.2h0.9M68.7 94.2h0.9M71.3 96.8h0.9M62.4 100.5h0.9M67.9 100.0h0.9M73.8 93.7h0.9M69.5 95.0h0.9M67.6 94.2h0.9M60.9 93.5h0.9M61.3 99.5h0.9M70.6 98.4h0.9M67.6 97.8h0.9M71.4 93.2h0.9M65.8 100.3h0.9M70.9 92.2h0.9M72.0 101.8h0.9M63.2 97.3h0.9M69.6 91.1h0.9M69.9 95.1h0.9M63.2 93.8h0.9M69.1 101.0h0.9M64.3 92.9h0.9M59.0 94.2h0.9M66.3 89.3h0.9M62.9 105.9h0.9M65.8 102.1h0.9M62.8 106.5h0.9M58.2 87.1h0.9M61.0 100.0h0.9M122.3 98.2h0.9M112.4 97.0h0.9M119.1 100.0h0.9M112.8 100.2h0.9M117.5 105.5h0.9M118.3 99.8h0.9M120.6 99.5h0.9M117.8 101.4h0.9M112.2 94.6h0.9M123.2 103.9h0.9M114.3 105.3h0.9M118.0 97.5h0.9M121.9 99.4h0.9M123.6 102.7h0.9M120.0 106.3h0.9M118.6 101.4h0.9M120.4 98.4h0.9M120.9 106.2h0.9M125.0 103.6h0.9M118.6 101.5h0.9M109.2 100.9h0.9M115.7 98.5h0.9M120.0 100.2h0.9M119.5 98.4h0.9M115.9 103.3h0.9M126.3 100.3h0.9M112.0 100.2h0.9M117.0 100.4h0.9M116.1 106.8h0.9M116.0 96.8h0.9M113.7 102.2h0.9M114.0 109.9h0.9M117.1 105.5h0.9M115.2 107.2h0.9M115.6 98.7h0.9M119.2 102.8h0.9M118.4 105.8h0.9M119.8 105.2h0.9M115.6 100.8h0.9M119.2 99.1h0.9M113.8 105.8h0.9M130.5 105.9h0.9M121.0 96.7h0.9M120.5 102.0h0.9M115.0 102.7h0.9M125.1 105.2h0.9M122.2 100.3h0.9M123.9 102.7h0.9M123.5 103.5h0.9M114.2 103.0h0.9M110.4 104.1h0.9M119.0 105.3h0.9M116.0 106.8h0.9M117.0 100.1h0.9M115.9 96.9h0.9M126.3 109.3h0.9M118.8 103.4h0.9M114.5 97.2h0.9M118.5 108.3h0.9M117.6 98.2h0.9M120.9 99.0h0.9M117.0 103.4h0.9M120.7 107.0h0.9M120.9 96.7h0.9M110.3 108.0h0.9M120.7 103.6h0.9M119.3 96.9h0.9M108.2 95.3h0.9M115.5 104.6h0.9M128.4 101.4h0.9M121.0 106.3h0.9M114.3 100.8h0.9M113.4 110.6h0.9M120.1 107.5h0.9M116.9 103.5h0.9M116.0 103.9h0.9M119.9 94.8h0.9M125.9 101.9h0.9M119.6 94.1h0.9M117.7 100.3h0.9M117.4 94.9h0.9M119.5 103.7h0.9M120.8 98.0h0.9M117.5 100.8h0.9M112.0 98.6h0.9M123.4 99.6h0.9M116.0 102.1h0.9M112.6 104.5h0.9M113.0 99.8h0.9M115.6 104.4h0.9M106.0 100.1h0.9M116.4 102.5h0.9M114.8 100.3h0.9M112.1 101.6h0.9M121.4 100.1h0.9M116.5 98.3h0.9M118.9 101.2h0.9M116.1 96.1h0.9M123.6 99.1h0.9M123.4 106.3h0.9M120.2 104.2h0.9M115.7 101.6h0.9M120.0 109.5h0.9M113.9 96.3h0.9M111.4 106.1h0.9M107.9 107.3h0.9M114.2 101.5h0.9M123.7 98.9h0.9" stroke="#e2290b" stroke-width="0.9" stroke-opacity="0.55" fill="none"/>
<path d="M79.4 98.6h0.9M67.7 99.6h0.9M66.8 104.6h0.9M74.9 99.3h0.9M64.4 87.5h0.9M75.5 99.0h0.9M72.3 85.1h0.9M76.2 106.2h0.9M78.9 95.0h0.9M77.1 102.7h0.9M62.3 98.6h0.9M62.2 92.8h0.9M56.9 96.3h0.9M65.2 109.0h0.9M68.0 100.5h0.9M61.5 96.4h0.9M71.0 110.3h0.9M65.4 101.2h0.9M70.0 95.7h0.9M72.7 102.8h0.9M56.9 94.0h0.9M66.5 101.3h0.9M81.6 90.7h0.9M70.0 98.1h0.9M78.1 100.2h0.9M76.4 92.6h0.9M63.6 108.8h0.9M65.1 103.1h0.9M65.2 90.3h0.9M72.3 105.2h0.9M64.1 102.3h0.9M75.0 92.2h0.9M61.5 97.0h0.9M63.3 105.7h0.9M69.6 106.9h0.9M60.6 103.7h0.9M66.2 95.0h0.9M79.9 112.4h0.9M64.5 103.2h0.9M57.5 102.7h0.9M65.0 86.6h0.9M63.1 109.4h0.9M72.1 94.2h0.9M64.1 102.4h0.9M68.8 91.8h0.9M73.9 99.3h0.9M65.5 111.7h0.9M72.6 112.6h0.9M58.6 97.3h0.9M61.9 106.2h0.9M68.8 100.0h0.9M65.2 93.4h0.9M77.9 105.7h0.9M67.1 80.3h0.9M69.5 93.6h0.9M69.4 104.2h0.9M62.5 93.3h0.9M74.0 98.0h0.9M70.8 98.5h0.9M61.8 103.8h0.9M70.4 96.9h0.9M74.5 100.3h0.9M104.9 103.1h0.9M102.3 100.8h0.9M98.2 98.6h0.9M107.7 103.8h0.9M111.4 95.0h0.9M106.8 104.4h0.9M100.0 111.3h0.9M112.3 111.4h0.9M101.0 103.6h0.9M101.3 110.2h0.9M126.7 102.2h0.9M113.7 96.5h0.9M112.2 105.3h0.9M115.6 97.0h0.9M110.5 105.0h0.9M116.3 98.9h0.9M108.3 106.3h0.9M105.4 101.7h0.9M106.7 107.1h0.9M104.5 97.6h0.9M104.6 106.8h0.9M108.3 105.9h0.9M102.7 105.4h0.9M101.0 100.6h0.9M101.4 98.5h0.9M91.9 102.1h0.9M114.1 92.8h0.9M113.0 100.8h0.9M103.0 100.5h0.9M99.1 100.9h0.9M105.2 98.4h0.9M102.5 106.5h0.9M93.0 92.0h0.9M104.3 109.2h0.9M117.5 99.1h0.9M108.0 101.1h0.9M95.3 100.8h0.9M112.0 107.5h0.9M103.8 106.0h0.9M113.6 98.5h0.9M114.4 108.9h0.9M113.8 107.0h0.9M116.3 102.3h0.9M94.3 94.7h0.9M103.1 98.1h0.9M110.5 109.7h0.9M119.5 109.0h0.9M95.6 105.2h0.9M105.2 112.4h0.9M113.1 104.7h0.9M97.0 102.5h0.9M98.7 99.7h0.9M115.5 104.6h0.9M102.0 102.7h0.9M99.0 100.7h0.9M97.5 98.2h0.9M104.5 100.0h0.9M103.0 95.8h0.9" stroke="#dc3040" stroke-width="0.9" stroke-opacity="0.42" fill="none"/>
<path d="M67.0 98.6h0.9M60.6 98.8h0.9M61.8 99.3h0.9M63.3 90.3h0.9M76.2 102.3h0.9M86.2 96.1h0.9M77.2 106.7h0.9M72.8 102.2h0.9M57.8 96.1h0.9M71.2 94.9h0.9M65.5 90.9h0.9M71.2 89.1h0.9M61.6 105.0h0.9M65.5 99.4h0.9M74.1 77.6h0.9M86.8 98.2h0.9M65.8 89.2h0.9M63.2 87.5h0.9M66.6 90.4h0.9M58.4 100.0h0.9M62.1 101.5h0.9M68.0 101.7h0.9M64.7 88.1h0.9M60.4 100.5h0.9M66.9 102.1h0.9M59.5 102.0h0.9M68.5 102.1h0.9M77.1 102.9h0.9M63.7 96.4h0.9M63.2 94.0h0.9M64.7 91.5h0.9M64.6 97.0h0.9M76.4 99.0h0.9M71.0 92.6h0.9M65.4 90.8h0.9M85.1 89.6h0.9M70.6 85.9h0.9M61.0 96.2h0.9M71.9 87.6h0.9M57.1 100.1h0.9M65.7 93.9h0.9M69.3 93.9h0.9M69.7 93.8h0.9M70.7 99.3h0.9M73.1 107.5h0.9M67.3 91.0h0.9M70.1 96.6h0.9M70.0 104.6h0.9M65.6 93.9h0.9M57.3 88.3h0.9M76.4 99.6h0.9M68.8 92.7h0.9M68.2 97.0h0.9M70.6 84.4h0.9M66.8 95.6h0.9M67.1 98.6h0.9M111.6 101.2h0.9M109.1 100.7h0.9M96.3 101.9h0.9M120.0 98.6h0.9M110.7 107.8h0.9M99.7 106.7h0.9M109.9 92.8h0.9M107.5 108.2h0.9M103.6 102.9h0.9M103.2 100.4h0.9M113.4 98.2h0.9M105.7 108.2h0.9M96.5 101.4h0.9M109.5 98.5h0.9M100.1 94.2h0.9M88.9 98.3h0.9M96.0 105.5h0.9M109.6 86.1h0.9M122.2 107.7h0.9M126.2 108.6h0.9M106.2 105.5h0.9M110.7 100.2h0.9M103.8 101.9h0.9M110.4 103.9h0.9M114.9 101.0h0.9M112.5 109.9h0.9M121.3 103.7h0.9M109.0 106.0h0.9M102.1 99.9h0.9M104.0 101.9h0.9M122.9 106.2h0.9M105.0 101.3h0.9M118.3 100.0h0.9M109.4 99.3h0.9M106.1 98.6h0.9M103.6 91.4h0.9M105.7 107.2h0.9M98.0 106.3h0.9M98.8 101.0h0.9M104.0 100.1h0.9M102.5 103.6h0.9M112.6 104.8h0.9M140.5 104.4h0.9M101.2 98.6h0.9M103.2 105.1h0.9M109.8 100.0h0.9M118.2 103.1h0.9M104.2 106.4h0.9M126.7 104.6h0.9M98.9 107.6h0.9M102.1 108.6h0.9M114.1 101.7h0.9M105.9 97.7h0.9M96.4 110.2h0.9M103.1 108.3h0.9M111.0 97.7h0.9M103.3 95.9h0.9M106.7 104.8h0.9" stroke="#dc3040" stroke-width="0.9" stroke-opacity="0.42" fill="none"/>
<path d="M75.3 103.5h0.9M76.6 102.1h0.9M65.8 107.3h0.9M69.3 97.1h0.9M72.7 95.7h0.9M63.6 95.6h0.9M60.1 94.5h0.9M60.5 94.4h0.9M71.0 94.2h0.9M73.9 99.0h0.9M65.4 100.1h0.9M59.0 103.6h0.9M60.8 93.2h0.9M56.9 109.8h0.9M68.2 100.2h0.9M59.8 105.5h0.9M60.0 105.1h0.9M62.3 101.0h0.9M68.6 90.7h0.9M78.6 89.9h0.9M61.4 105.5h0.9M66.3 104.4h0.9M59.6 98.7h0.9M64.3 100.5h0.9M78.4 107.0h0.9M69.6 100.1h0.9M70.4 101.1h0.9M73.4 104.2h0.9M73.7 91.1h0.9M61.8 88.6h0.9M68.2 96.1h0.9M66.2 90.4h0.9M67.4 95.1h0.9M73.7 101.7h0.9M65.3 102.7h0.9M70.4 106.8h0.9M70.4 109.8h0.9M74.2 102.3h0.9M69.1 90.3h0.9M79.6 100.0h0.9M68.1 96.6h0.9M65.3 102.0h0.9M64.6 106.7h0.9M65.7 93.4h0.9M71.9 106.1h0.9M65.6 87.4h0.9M70.3 105.4h0.9M61.7 93.3h0.9M65.8 91.4h0.9M75.1 91.8h0.9M69.8 91.5h0.9M68.0 95.5h0.9M80.0 106.4h0.9M74.5 89.5h0.9M61.6 102.4h0.9M107.9 97.4h0.9M110.0 104.2h0.9M110.8 110.3h0.9M112.0 102.8h0.9M115.9 101.1h0.9M110.9 100.1h0.9M124.0 102.1h0.9M104.8 100.9h0.9M116.5 97.9h0.9M107.9 97.9h0.9M104.6 91.0h0.9M113.5 108.6h0.9M107.8 90.6h0.9M98.1 99.8h0.9M109.1 104.8h0.9M97.7 100.4h0.9M106.9 110.0h0.9M98.5 107.4h0.9M93.5 95.7h0.9M103.3 100.1h0.9M110.2 101.2h0.9M89.9 107.5h0.9M87.2 101.0h0.9M91.4 105.8h0.9M122.5 102.8h0.9M107.9 99.2h0.9M105.8 100.3h0.9M126.2 104.0h0.9M107.4 102.1h0.9M109.5 101.4h0.9M108.2 98.9h0.9M103.9 99.0h0.9M103.1 99.1h0.9M91.3 92.7h0.9M106.3 97.1h0.9M113.3 105.8h0.9M121.3 102.0h0.9M113.8 102.3h0.9M104.7 104.8h0.9M96.9 99.6h0.9M115.2 94.8h0.9M105.4 103.9h0.9M113.3 103.9h0.9M110.5 98.5h0.9M97.0 103.3h0.9M103.1 100.3h0.9M103.9 105.8h0.9M109.5 98.2h0.9M111.1 101.0h0.9M109.4 108.7h0.9M99.8 105.0h0.9M91.4 103.5h0.9M97.5 98.6h0.9M98.3 108.0h0.9M112.0 109.3h0.9M114.9 100.3h0.9M111.8 108.8h0.9M107.2 107.7h0.9" stroke="#dc3040" stroke-width="0.9" stroke-opacity="0.42" fill="none"/>
<path d="M71.4 95.2h0.9M57.1 105.6h0.9M71.0 98.3h0.9M68.1 83.5h0.9M62.2 103.5h0.9M72.1 100.9h0.9M71.7 106.4h0.9M60.2 91.9h0.9M78.2 93.1h0.9M63.4 94.3h0.9M68.7 95.4h0.9M78.0 90.1h0.9M59.0 104.2h0.9M74.6 93.3h0.9M82.0 97.2h0.9M74.1 110.9h0.9M84.6 96.2h0.9M63.1 106.2h0.9M68.2 89.8h0.9M61.4 95.6h0.9M75.5 106.0h0.9M73.1 102.8h0.9M68.3 100.8h0.9M82.2 91.3h0.9M59.4 99.7h0.9M65.5 105.8h0.9M62.5 94.9h0.9M64.6 102.0h0.9M62.0 94.8h0.9M68.9 89.0h0.9M66.5 101.2h0.9M74.7 105.2h0.9M69.3 91.5h0.9M78.5 90.1h0.9M71.6 92.9h0.9M65.7 102.4h0.9M76.1 96.1h0.9M63.0 108.0h0.9M72.5 95.1h0.9M77.2 91.4h0.9M66.1 89.8h0.9M66.7 97.0h0.9M60.4 96.9h0.9M70.4 91.2h0.9M67.8 101.9h0.9M61.7 93.5h0.9M65.9 104.3h0.9M73.3 97.5h0.9M80.0 98.2h0.9M69.0 95.4h0.9M67.5 93.0h0.9M81.5 94.1h0.9M62.1 103.7h0.9M59.7 93.9h0.9M63.3 100.8h0.9M111.9 106.2h0.9M116.8 104.0h0.9M113.0 106.1h0.9M107.1 112.2h0.9M113.9 99.6h0.9M105.7 108.6h0.9M103.1 98.1h0.9M111.7 106.6h0.9M105.4 108.3h0.9M99.1 99.5h0.9M99.7 100.4h0.9M95.5 98.9h0.9M106.8 98.0h0.9M105.1 111.6h0.9M107.7 104.4h0.9M107.6 100.8h0.9M123.2 105.3h0.9M113.2 112.6h0.9M104.7 102.0h0.9M101.0 108.4h0.9M109.0 100.3h0.9M114.9 104.6h0.9M108.4 100.9h0.9M101.1 103.9h0.9M105.3 105.4h0.9M104.2 106.1h0.9M109.2 103.4h0.9M94.4 101.5h0.9M108.2 102.5h0.9M110.4 97.7h0.9M97.6 102.1h0.9M109.8 106.7h0.9M113.7 103.7h0.9M103.5 104.4h0.9M117.0 91.3h0.9M113.3 108.1h0.9M115.1 100.3h0.9M104.2 98.6h0.9M99.4 104.7h0.9M99.6 97.7h0.9M97.0 105.3h0.9M98.3 102.6h0.9M110.3 100.9h0.9M108.3 100.7h0.9M98.0 101.1h0.9M96.4 94.7h0.9M110.5 102.4h0.9M104.9 107.1h0.9M117.4 105.8h0.9M106.6 103.0h0.9M96.9 96.5h0.9M111.9 97.4h0.9M92.1 93.9h0.9M103.5 99.4h0.9M114.4 98.9h0.9M98.3 99.6h0.9M98.4 105.9h0.9M109.2 91.5h0.9M96.8 98.2h0.9" stroke="#dc3040" stroke-width="0.9" stroke-opacity="0.42" fill="none"/>
<path d="M65.3 106.4h0.9M76.3 105.1h0.9M73.1 84.0h0.9M67.8 91.1h0.9M65.6 101.5h0.9M60.5 101.6h0.9M64.0 94.9h0.9M71.7 87.6h0.9M80.9 95.2h0.9M69.5 103.4h0.9M67.5 106.6h0.9M81.5 97.4h0.9M72.9 101.2h0.9M62.4 107.6h0.9M57.1 104.1h0.9M69.4 96.0h0.9M68.6 87.9h0.9M74.9 99.5h0.9M74.8 101.1h0.9M62.2 99.3h0.9M76.5 101.3h0.9M60.7 90.1h0.9M79.2 92.4h0.9M65.9 103.5h0.9M72.4 88.8h0.9M60.1 93.7h0.9M75.2 102.0h0.9M64.5 97.6h0.9M64.4 90.2h0.9M58.8 103.9h0.9M75.9 90.9h0.9M68.8 101.7h0.9M69.3 88.4h0.9M63.4 85.4h0.9M65.6 91.2h0.9M62.4 111.8h0.9M75.7 89.1h0.9M66.2 99.4h0.9M58.7 95.5h0.9M88.7 90.6h0.9M66.2 101.7h0.9M78.4 97.0h0.9M73.1 83.4h0.9M71.4 90.7h0.9M64.2 91.4h0.9M74.3 109.0h0.9M63.6 102.7h0.9M64.3 104.1h0.9M64.1 110.8h0.9M71.6 106.4h0.9M68.4 93.0h0.9M68.7 109.4h0.9M82.3 102.8h0.9M75.6 94.0h0.9M61.6 87.0h0.9M58.5 105.9h0.9M63.1 108.3h0.9M71.8 105.3h0.9M67.7 92.7h0.9M109.7 94.6h0.9M97.3 107.3h0.9M102.9 97.6h0.9M94.6 93.6h0.9M93.3 102.0h0.9M121.6 103.7h0.9M117.1 104.9h0.9M110.1 96.2h0.9M104.6 107.2h0.9M90.7 105.2h0.9M98.9 103.1h0.9M107.3 105.1h0.9M102.9 103.8h0.9M101.9 100.9h0.9M114.4 101.9h0.9M104.4 98.1h0.9M114.5 107.3h0.9M115.2 100.9h0.9M120.5 104.8h0.9M89.6 109.9h0.9M93.1 102.5h0.9M115.4 98.4h0.9M121.3 99.4h0.9M115.6 105.8h0.9M111.8 88.1h0.9M113.5 104.8h0.9M102.9 109.0h0.9M117.8 106.7h0.9M111.7 103.4h0.9M101.6 96.3h0.9M112.2 102.1h0.9M99.9 93.4h0.9M88.5 97.3h0.9M98.8 105.9h0.9M110.8 108.9h0.9M111.0 101.6h0.9M107.6 100.9h0.9M94.8 104.3h0.9M96.9 104.5h0.9M108.1 102.5h0.9M105.6 98.8h0.9M115.7 106.7h0.9M99.1 99.7h0.9M99.5 102.3h0.9M120.0 100.8h0.9M111.2 102.1h0.9M95.8 101.2h0.9M118.7 97.7h0.9M100.9 103.9h0.9M104.9 106.2h0.9M101.6 99.9h0.9M114.0 100.8h0.9M113.5 105.6h0.9M112.2 103.2h0.9M111.3 99.1h0.9M106.3 100.9h0.9M101.4 100.1h0.9M116.6 99.1h0.9" stroke="#dc3040" stroke-width="0.9" stroke-opacity="0.42" fill="none"/>
<path d="M68.1 101.7h0.9M74.7 101.1h0.9M69.7 107.9h0.9M68.6 102.0h0.9M70.1 110.2h0.9M69.6 97.2h0.9M67.1 86.0h0.9M71.0 89.0h0.9M64.6 101.7h0.9M65.6 97.7h0.9M66.2 96.4h0.9M72.2 109.2h0.9M61.8 104.7h0.9M64.9 95.6h0.9M56.9 105.3h0.9M59.2 105.9h0.9M70.4 101.5h0.9M70.6 100.1h0.9M75.1 104.1h0.9M61.5 94.2h0.9M62.1 97.4h0.9M83.3 88.6h0.9M78.4 87.9h0.9M59.6 104.1h0.9M60.1 102.4h0.9M76.4 108.5h0.9M68.2 109.3h0.9M67.5 103.7h0.9M73.1 104.7h0.9M68.8 92.7h0.9M77.5 103.6h0.9M65.9 93.9h0.9M67.8 98.9h0.9M63.1 93.0h0.9M68.0 100.5h0.9M61.7 94.4h0.9M71.5 99.6h0.9M56.9 101.2h0.9M74.1 94.8h0.9M74.8 98.8h0.9M59.5 101.0h0.9M58.5 94.9h0.9M64.5 97.8h0.9M73.6 98.8h0.9M59.6 92.7h0.9M61.3 98.9h0.9M69.8 103.4h0.9M59.4 89.8h0.9M86.1 95.2h0.9M62.2 98.1h0.9M63.3 90.4h0.9M72.8 97.5h0.9M72.7 90.3h0.9M75.3 100.3h0.9M61.3 99.9h0.9M67.0 100.9h0.9M63.1 110.5h0.9M92.1 106.3h0.9M111.7 100.0h0.9M109.0 100.3h0.9M100.7 106.5h0.9M106.8 106.4h0.9M119.3 107.4h0.9M122.8 105.0h0.9M123.1 100.8h0.9M125.4 105.4h0.9M116.0 102.5h0.9M108.8 103.6h0.9M98.1 100.6h0.9M95.4 100.3h0.9M109.6 101.2h0.9M92.8 98.7h0.9M112.2 102.6h0.9M119.1 102.2h0.9M101.7 103.1h0.9M125.0 99.4h0.9M115.2 104.1h0.9M119.5 99.6h0.9M102.7 101.3h0.9M105.6 107.2h0.9M109.7 105.4h0.9M113.1 98.0h0.9M95.1 101.4h0.9M105.2 103.6h0.9M112.4 104.1h0.9M92.8 103.1h0.9M121.4 107.9h0.9M112.7 102.3h0.9M94.2 97.2h0.9M98.5 102.3h0.9M114.8 98.2h0.9M112.0 101.6h0.9M105.6 110.1h0.9M122.7 109.1h0.9M118.8 99.3h0.9M106.4 100.8h0.9M107.4 103.9h0.9M119.9 104.0h0.9M104.6 100.7h0.9M107.0 100.9h0.9M116.1 103.8h0.9M116.4 100.9h0.9M112.6 97.0h0.9M107.7 101.8h0.9M122.0 109.7h0.9M112.8 99.7h0.9M116.1 107.2h0.9M97.2 97.9h0.9M105.7 106.7h0.9M112.9 103.6h0.9M101.5 102.4h0.9M98.3 109.8h0.9M90.4 102.5h0.9M114.1 101.2h0.9M114.0 104.6h0.9" stroke="#dc3040" stroke-width="0.9" stroke-opacity="0.42" fill="none"/>
<path d="M78.4 98.5h0.9M59.7 106.0h0.9M70.0 103.1h0.9M68.0 101.3h0.9M72.0 108.5h0.9M67.9 107.2h0.9M84.0 99.5h0.9M72.8 103.4h0.9M65.4 104.9h0.9M63.4 107.0h0.9M75.8 102.7h0.9M68.5 100.2h0.9M72.2 105.6h0.9M66.8 106.5h0.9M69.1 106.9h0.9M68.2 105.5h0.9M70.6 106.2h0.9M73.6 108.5h0.9M64.5 106.7h0.9M65.1 100.2h0.9" stroke="#dc3040" stroke-width="0.9" stroke-opacity="0.4" fill="none"/>
<path d="M76.1 97.0h0.9M77.1 107.1h0.9M72.3 104.6h0.9M74.6 99.1h0.9M73.0 102.3h0.9M78.8 104.9h0.9M58.1 107.7h0.9M66.5 109.9h0.9M69.2 107.5h0.9M70.8 105.6h0.9M67.5 104.5h0.9M65.2 108.9h0.9M69.9 103.0h0.9M67.6 101.3h0.9M69.6 105.3h0.9M67.3 105.6h0.9M63.6 102.8h0.9M74.0 105.0h0.9M76.3 103.3h0.9M80.1 111.7h0.9" stroke="#dc3040" stroke-width="0.9" stroke-opacity="0.4" fill="none"/>
<path d="M70.6 99.4h0.9M61.5 97.6h0.9M74.1 104.1h0.9M71.8 106.0h0.9M68.5 101.0h0.9M57.5 108.3h0.9M78.2 100.1h0.9M75.0 96.1h0.9M71.8 111.4h0.9M67.1 107.3h0.9M75.9 104.5h0.9M73.9 102.4h0.9M72.9 105.1h0.9M77.8 100.2h0.9M68.7 106.7h0.9M74.6 109.7h0.9M72.5 103.7h0.9M71.7 112.3h0.9M73.6 95.1h0.9M72.3 104.1h0.9" stroke="#dc3040" stroke-width="0.9" stroke-opacity="0.4" fill="none"/>
<path d="M73.7 106.0h0.9M74.4 103.9h0.9M79.9 99.9h0.9M68.7 107.1h0.9M67.3 102.9h0.9M67.5 105.3h0.9M78.8 103.9h0.9M65.4 108.1h0.9M64.3 100.8h0.9M67.7 103.5h0.9M70.8 100.9h0.9M75.7 106.8h0.9M70.9 112.1h0.9M72.5 112.6h0.9M61.2 107.2h0.9M70.7 107.9h0.9M72.8 101.7h0.9M70.0 104.7h0.9M75.8 104.5h0.9M63.9 107.5h0.9" stroke="#dc3040" stroke-width="0.9" stroke-opacity="0.4" fill="none"/>
<path d="M65.7 104.8h0.9M66.8 102.1h0.9M72.8 103.3h0.9M70.5 106.6h0.9M74.7 104.6h0.9M74.4 108.1h0.9M75.6 104.7h0.9M76.8 105.3h0.9M71.4 105.2h0.9M75.3 110.5h0.9M81.6 104.9h0.9M78.3 97.2h0.9M69.8 103.7h0.9M75.3 109.1h0.9M71.1 101.5h0.9M70.9 104.1h0.9M73.3 105.6h0.9M72.7 96.1h0.9" stroke="#dc3040" stroke-width="0.9" stroke-opacity="0.4" fill="none"/>
<path d="M67.8 104.1h0.9M66.1 100.7h0.9M75.4 112.1h0.9M70.7 101.1h0.9M62.5 107.5h0.9M62.7 100.1h0.9M69.9 103.3h0.9M76.0 105.1h0.9M72.7 104.3h0.9M67.5 102.7h0.9M68.3 104.5h0.9M77.5 105.9h0.9M75.7 105.2h0.9M76.9 112.3h0.9M65.0 106.5h0.9M62.6 102.8h0.9M81.2 106.5h0.9M76.5 108.5h0.9M64.8 111.7h0.9M69.2 105.5h0.9" stroke="#dc3040" stroke-width="0.9" stroke-opacity="0.4" fill="none"/>
<path d="M97.4 98.4h0.9M98.9 109.8h0.9M87.4 99.1h0.9M97.9 102.5h0.9M83.0 99.9h0.9M90.4 97.4h0.9M90.4 105.4h0.9M87.1 109.4h0.9M88.2 99.7h0.9M101.2 85.4h0.9M95.3 107.8h0.9M94.7 101.2h0.9M103.4 96.3h0.9M90.6 98.6h0.9" stroke="#dc3040" stroke-width="0.9" stroke-opacity="0.38" fill="none"/>
<path d="M89.5 95.1h0.9M104.2 108.4h0.9M104.1 95.5h0.9M94.2 104.9h0.9M90.4 100.6h0.9M109.4 100.1h0.9M99.6 102.4h0.9M91.7 107.2h0.9M92.7 96.5h0.9M100.2 102.6h0.9M103.2 92.5h0.9M86.6 98.5h0.9M97.9 99.2h0.9M98.6 94.2h0.9" stroke="#dc3040" stroke-width="0.9" stroke-opacity="0.38" fill="none"/>
<path d="M99.2 95.3h0.9M99.9 99.1h0.9M96.5 102.7h0.9M96.6 103.5h0.9M91.1 107.3h0.9M99.4 107.9h0.9M100.2 100.7h0.9M90.3 101.3h0.9M96.1 103.6h0.9M94.8 92.0h0.9M91.3 102.0h0.9M92.8 97.4h0.9M102.0 99.1h0.9" stroke="#dc3040" stroke-width="0.9" stroke-opacity="0.38" fill="none"/>
<path d="M96.6 103.2h0.9M88.9 98.7h0.9M98.3 90.7h0.9M83.4 104.6h0.9M99.4 109.1h0.9M107.8 102.7h0.9M86.5 101.5h0.9M87.4 105.4h0.9M94.7 101.1h0.9M108.0 101.8h0.9M98.5 100.6h0.9M103.7 100.6h0.9" stroke="#dc3040" stroke-width="0.9" stroke-opacity="0.38" fill="none"/>
<path d="M97.4 106.3h0.9M97.7 100.7h0.9M90.7 101.7h0.9M104.3 101.7h0.9M90.6 103.1h0.9M90.0 100.7h0.9M89.3 109.4h0.9M96.7 100.4h0.9M91.9 103.8h0.9M106.5 96.6h0.9M96.3 91.5h0.9M109.7 99.0h0.9M102.1 95.8h0.9" stroke="#dc3040" stroke-width="0.9" stroke-opacity="0.38" fill="none"/>
<path d="M104.3 94.2h0.9M99.1 105.9h0.9M96.6 106.8h0.9M89.4 96.9h0.9M97.8 97.2h0.9M100.1 97.2h0.9M89.1 100.2h0.9M99.4 96.9h0.9M100.9 105.1h0.9M93.7 101.5h0.9M91.8 104.2h0.9M105.1 92.0h0.9M101.6 103.7h0.9" stroke="#dc3040" stroke-width="0.9" stroke-opacity="0.38" fill="none"/>
<path d="M112.9 35.9h0.9M118.1 52.5h0.9M117.9 47.5h0.9M116.0 55.0h0.9M117.8 37.9h0.9M118.0 47.0h0.9M125.5 35.5h0.9M116.7 51.1h0.9M112.6 64.5h0.9M114.5 62.1h0.9M108.7 31.0h0.9M123.6 54.2h0.9M114.7 50.2h0.9M116.2 53.0h0.9M119.2 52.1h0.9M112.4 42.7h0.9M121.4 44.1h0.9M123.1 46.1h0.9M125.3 52.6h0.9M120.8 39.0h0.9M121.3 42.3h0.9M111.7 53.4h0.9M126.8 42.9h0.9M114.0 52.5h0.9M115.0 43.5h0.9M113.7 60.7h0.9M122.3 55.8h0.9M113.4 47.1h0.9M119.8 47.1h0.9" stroke="#dc3040" stroke-width="0.9" stroke-opacity="0.35" fill="none"/>
<path d="M115.1 54.1h0.9M127.2 53.3h0.9M117.8 45.4h0.9M117.9 39.4h0.9M120.3 55.2h0.9M116.7 54.2h0.9M125.5 43.9h0.9M126.2 44.6h0.9M119.1 50.6h0.9M115.4 44.4h0.9M114.3 46.8h0.9M108.9 61.1h0.9M119.8 62.8h0.9M108.5 48.5h0.9M123.0 48.4h0.9M118.3 49.6h0.9M109.1 52.6h0.9M121.1 41.1h0.9M109.7 47.2h0.9M127.4 45.4h0.9M115.7 52.9h0.9M113.8 43.2h0.9M116.7 59.2h0.9M120.4 58.2h0.9M114.9 52.7h0.9M121.5 41.9h0.9M119.3 48.5h0.9M123.1 37.1h0.9M114.9 44.0h0.9" stroke="#dc3040" stroke-width="0.9" stroke-opacity="0.35" fill="none"/>
<path d="M121.2 41.7h0.9M113.9 51.2h0.9M114.7 48.0h0.9M128.8 42.9h0.9M117.9 55.3h0.9M115.0 49.9h0.9M123.4 53.7h0.9M111.6 47.6h0.9M114.7 44.2h0.9M111.1 57.4h0.9M119.6 62.1h0.9M110.2 39.0h0.9M104.4 59.1h0.9M119.5 50.1h0.9M117.8 48.5h0.9M115.5 53.6h0.9M119.8 63.4h0.9M113.4 54.1h0.9M107.9 53.6h0.9M115.3 59.9h0.9M122.9 55.6h0.9M109.3 54.0h0.9M115.8 58.0h0.9M119.8 35.7h0.9M125.7 43.3h0.9M111.0 45.6h0.9M118.1 48.0h0.9M114.5 64.4h0.9" stroke="#dc3040" stroke-width="0.9" stroke-opacity="0.35" fill="none"/>
<path d="M119.4 57.5h0.9M119.3 42.6h0.9M119.8 56.0h0.9M111.5 48.0h0.9M120.8 49.4h0.9M116.9 55.2h0.9M112.2 40.7h0.9M121.2 51.6h0.9M122.2 56.5h0.9M111.4 57.9h0.9M111.0 38.9h0.9M118.9 50.8h0.9M106.0 54.0h0.9M120.5 70.5h0.9M119.7 49.9h0.9M115.8 47.5h0.9M114.1 60.6h0.9M111.3 52.1h0.9M115.7 55.9h0.9M114.3 62.0h0.9M117.2 40.9h0.9M108.3 40.8h0.9M111.5 46.3h0.9M107.7 57.0h0.9M124.7 44.2h0.9M113.4 48.4h0.9M114.9 50.7h0.9M112.6 56.7h0.9" stroke="#dc3040" stroke-width="0.9" stroke-opacity="0.35" fill="none"/>
<path d="M115.3 40.4h0.9M120.6 56.3h0.9M122.1 46.4h0.9M118.1 46.7h0.9M123.4 41.5h0.9M111.3 47.7h0.9M124.6 55.3h0.9M118.4 49.8h0.9M123.1 55.8h0.9M117.4 50.5h0.9M112.4 47.0h0.9M111.0 56.1h0.9M110.9 33.5h0.9M115.8 49.1h0.9M116.8 55.5h0.9M121.6 58.0h0.9M113.0 50.1h0.9M117.1 53.8h0.9M117.1 50.1h0.9M108.2 52.1h0.9M124.6 54.1h0.9M118.3 60.2h0.9M121.9 64.8h0.9M120.7 50.1h0.9M126.1 47.6h0.9M108.0 50.5h0.9M115.0 55.8h0.9M123.5 52.2h0.9" stroke="#dc3040" stroke-width="0.9" stroke-opacity="0.35" fill="none"/>
<path d="M117.1 38.4h0.9M112.2 41.0h0.9M122.7 54.2h0.9M121.4 52.5h0.9M115.9 50.5h0.9M120.7 59.9h0.9M113.4 42.6h0.9M116.2 48.0h0.9M110.1 58.4h0.9M116.0 52.1h0.9M124.9 52.4h0.9M115.7 42.0h0.9M122.1 49.7h0.9M115.3 44.2h0.9M115.1 52.0h0.9M119.4 55.6h0.9M112.7 56.3h0.9M114.7 50.3h0.9M117.7 55.8h0.9M118.2 49.8h0.9M118.7 53.7h0.9M121.3 51.4h0.9M118.9 44.0h0.9M117.7 50.4h0.9M111.3 42.5h0.9M126.3 55.7h0.9M120.1 55.0h0.9M116.3 52.7h0.9" stroke="#dc3040" stroke-width="0.9" stroke-opacity="0.35" fill="none"/>
<path d="M117.7 86.8h0.9M117.0 62.1h0.9M112.1 78.1h0.9M117.6 70.3h0.9M117.4 70.7h0.9M122.1 71.1h0.9M125.9 65.2h0.9M109.8 70.0h0.9M126.6 30.9h0.9" stroke="#dc3040" stroke-width="0.9" stroke-opacity="0.3" fill="none"/>
<path d="M118.1 70.1h0.9M119.1 56.1h0.9M120.6 81.7h0.9M113.0 55.5h0.9M122.4 64.8h0.9M122.5 72.6h0.9M73.1 37.3h0.9M129.1 52.9h0.9M72.3 84.1h0.9M123.2 39.0h0.9" stroke="#dc3040" stroke-width="0.9" stroke-opacity="0.3" fill="none"/>
<path d="M116.5 68.3h0.9M110.7 72.1h0.9M115.8 72.6h0.9M118.7 70.5h0.9M123.7 66.8h0.9M120.6 63.1h0.9M89.6 75.1h0.9M117.0 39.7h0.9M119.0 89.1h0.9M110.2 90.7h0.9" stroke="#dc3040" stroke-width="0.9" stroke-opacity="0.3" fill="none"/>
<path d="M113.2 67.5h0.9M118.2 58.8h0.9M121.0 66.1h0.9M117.7 69.9h0.9M122.0 57.6h0.9M119.3 80.0h0.9M113.7 78.4h0.9M119.3 54.7h0.9M113.7 27.2h0.9M62.2 84.0h0.9" stroke="#dc3040" stroke-width="0.9" stroke-opacity="0.3" fill="none"/>
<path d="M117.7 69.8h0.9M118.5 71.8h0.9M117.3 61.8h0.9M121.6 74.5h0.9M123.2 70.9h0.9M119.6 64.6h0.9M103.4 91.5h0.9M79.3 64.1h0.9M108.3 46.0h0.9M77.3 37.9h0.9" stroke="#dc3040" stroke-width="0.9" stroke-opacity="0.3" fill="none"/>
<path d="M121.3 71.7h0.9M114.1 71.0h0.9M121.5 64.5h0.9M117.2 67.7h0.9M120.8 80.8h0.9M88.4 60.6h0.9M72.0 109.3h0.9M133.1 108.9h0.9M99.3 72.5h0.9M146.1 36.1h0.9" stroke="#dc3040" stroke-width="0.9" stroke-opacity="0.3" fill="none"/>
<line x1="89.00" y1="25.00" x2="89.00" y2="114.30" stroke="#bdbdbd" stroke-width="1.05" />
<line x1="55.50" y1="84.50" x2="149.30" y2="84.50" stroke="#c4c4c4" stroke-width="1.2" />
<text x="56.00" y="31.30" font-size="5.9" text-anchor="start" fill="#2a2a3a" font-weight="bold" textLength="6.4" lengthAdjust="spacingAndGlyphs">D1</text>
<text x="89.20" y="31.30" font-size="5.9" text-anchor="start" fill="#2a2a3a" font-weight="bold" textLength="6.4" lengthAdjust="spacingAndGlyphs">D2</text>
<text x="56.00" y="91.30" font-size="5.9" text-anchor="start" fill="#2a2a3a" font-weight="bold" textLength="6.4" lengthAdjust="spacingAndGlyphs">D3</text>
<text x="89.20" y="91.30" font-size="5.9" text-anchor="start" fill="#2a2a3a" font-weight="bold" textLength="6.4" lengthAdjust="spacingAndGlyphs">D4</text>
<rect x="55.50" y="25.00" width="93.80" height="89.30" fill="none" stroke="#1a1a1a" stroke-width="1.5"/>
<path d="M55.50 114.30h-3.0M55.50 114.30v3.0M55.50 107.58h-1.7M62.56 114.30v1.7M55.50 103.65h-1.7M66.69 114.30v1.7M55.50 100.86h-1.7M69.62 114.30v1.7M55.50 98.70h-1.7M71.89 114.30v1.7M55.50 96.93h-1.7M73.75 114.30v1.7M55.50 95.43h-1.7M75.32 114.30v1.7M55.50 94.14h-1.7M76.68 114.30v1.7M55.50 93.00h-1.7M77.88 114.30v1.7M55.50 91.97h-3.0M78.95 114.30v3.0M55.50 85.25h-1.7M86.01 114.30v1.7M55.50 81.32h-1.7M90.14 114.30v1.7M55.50 78.53h-1.7M93.07 114.30v1.7M55.50 76.37h-1.7M95.34 114.30v1.7M55.50 74.60h-1.7M97.20 114.30v1.7M55.50 73.11h-1.7M98.77 114.30v1.7M55.50 71.81h-1.7M100.13 114.30v1.7M55.50 70.67h-1.7M101.33 114.30v1.7M55.50 69.65h-3.0M102.40 114.30v3.0M55.50 62.93h-1.7M109.46 114.30v1.7M55.50 59.00h-1.7M113.59 114.30v1.7M55.50 56.21h-1.7M116.52 114.30v1.7M55.50 54.05h-1.7M118.79 114.30v1.7M55.50 52.28h-1.7M120.65 114.30v1.7M55.50 50.78h-1.7M122.22 114.30v1.7M55.50 49.49h-1.7M123.58 114.30v1.7M55.50 48.35h-1.7M124.78 114.30v1.7M55.50 47.33h-3.0M125.85 114.30v3.0M55.50 40.60h-1.7M132.91 114.30v1.7M55.50 36.67h-1.7M137.04 114.30v1.7M55.50 33.88h-1.7M139.97 114.30v1.7M55.50 31.72h-1.7M142.24 114.30v1.7M55.50 29.95h-1.7M144.10 114.30v1.7M55.50 28.46h-1.7M145.67 114.30v1.7M55.50 27.16h-1.7M147.03 114.30v1.7M55.50 26.02h-1.7M148.23 114.30v1.7M55.50 25.00h-3M149.30 114.30v3" stroke="#1a1a1a" stroke-width="1" fill="none"/>
<text x="49.90" y="95.88" font-size="8.2" text-anchor="end" fill="#222">10<tspan font-size="6.0" dy="-3.8">0</tspan></text>
<text x="49.90" y="73.55" font-size="8.2" text-anchor="end" fill="#222">10<tspan font-size="6.0" dy="-3.8">1</tspan></text>
<text x="49.90" y="51.23" font-size="8.2" text-anchor="end" fill="#222">10<tspan font-size="6.0" dy="-3.8">2</tspan></text>
<text x="49.90" y="28.90" font-size="8.2" text-anchor="end" fill="#222">10<tspan font-size="6.0" dy="-3.8">3</tspan></text>
<text x="78.45" y="127.10" font-size="8.2" text-anchor="middle" fill="#222">10<tspan font-size="6.0" dy="-3.8">0</tspan></text>
<text x="101.90" y="127.10" font-size="8.2" text-anchor="middle" fill="#222">10<tspan font-size="6.0" dy="-3.8">1</tspan></text>
<text x="125.35" y="127.10" font-size="8.2" text-anchor="middle" fill="#222">10<tspan font-size="6.0" dy="-3.8">2</tspan></text>
<text x="148.80" y="127.10" font-size="8.2" text-anchor="middle" fill="#222">10<tspan font-size="6.0" dy="-3.8">3</tspan></text>
<text x="102.30" y="17.70" font-size="10.0" text-anchor="middle" fill="#222" textLength="40.5" lengthAdjust="spacingAndGlyphs">EL08.1D2</text>
<path d="M184.2 100.9h0.9M188.2 96.3h0.9M185.1 103.2h0.9M187.2 102.2h0.9M179.7 98.1h0.9M186.5 94.5h0.9M182.9 97.8h0.9M183.7 100.5h0.9M181.1 100.3h0.9M183.5 98.5h0.9M191.5 94.5h0.9M176.2 100.6h0.9M180.5 106.7h0.9M190.3 100.1h0.9M181.6 86.6h0.9M180.0 89.9h0.9M178.5 101.1h0.9M183.1 98.8h0.9M177.3 106.2h0.9M188.9 99.2h0.9M181.7 94.3h0.9M186.5 102.5h0.9M184.7 95.0h0.9M173.9 92.8h0.9M190.6 101.3h0.9M179.1 97.5h0.9M180.7 105.1h0.9M186.1 102.1h0.9M174.1 97.9h0.9M192.2 105.3h0.9M185.4 95.5h0.9M185.5 101.2h0.9M181.9 96.3h0.9M182.0 101.2h0.9M181.6 99.2h0.9M181.8 90.8h0.9M182.2 107.3h0.9M180.0 92.7h0.9M181.3 92.1h0.9M180.5 101.2h0.9M183.5 99.6h0.9M179.4 93.7h0.9M185.8 94.1h0.9M182.6 100.4h0.9M180.3 93.3h0.9M181.3 97.6h0.9M177.8 93.6h0.9M190.1 94.5h0.9M180.4 89.1h0.9M184.6 104.4h0.9M185.9 110.3h0.9M182.5 91.3h0.9M175.3 105.8h0.9M180.6 102.9h0.9M183.4 92.3h0.9M185.2 102.9h0.9M179.8 101.0h0.9M181.7 99.8h0.9M182.3 92.9h0.9M186.6 104.6h0.9M180.3 105.2h0.9M178.4 96.2h0.9M185.7 83.3h0.9M186.8 108.2h0.9M181.1 101.6h0.9M178.6 100.9h0.9M183.3 99.2h0.9M178.0 97.3h0.9M183.1 106.7h0.9M174.4 102.7h0.9M179.4 93.3h0.9M187.2 103.7h0.9M182.1 102.1h0.9M188.2 100.8h0.9M182.3 98.6h0.9M176.8 103.6h0.9M178.9 98.2h0.9M177.7 96.3h0.9M176.4 98.6h0.9M182.8 94.7h0.9M190.0 106.8h0.9M180.8 88.2h0.9M184.4 93.9h0.9M182.5 108.4h0.9M186.0 95.6h0.9M178.7 96.1h0.9M191.2 107.9h0.9M175.0 108.0h0.9M178.3 106.3h0.9M179.4 87.3h0.9M178.7 100.5h0.9M190.0 97.5h0.9M182.1 96.7h0.9M174.1 100.7h0.9M181.0 99.2h0.9M175.9 103.3h0.9M183.3 103.7h0.9M184.0 104.8h0.9M183.5 94.9h0.9M177.4 97.2h0.9M186.5 92.9h0.9M180.5 94.6h0.9M179.1 100.7h0.9M180.7 97.2h0.9M181.5 101.9h0.9M176.8 91.6h0.9M175.5 102.0h0.9M178.9 97.0h0.9M182.3 95.5h0.9M178.5 98.4h0.9M176.9 101.7h0.9M180.0 95.5h0.9M185.9 97.0h0.9M175.7 102.2h0.9M179.4 103.3h0.9M176.2 109.1h0.9M184.7 99.0h0.9M186.1 98.1h0.9M184.1 95.2h0.9M180.1 89.9h0.9M186.2 95.5h0.9M180.1 104.2h0.9M178.1 104.7h0.9M182.3 105.8h0.9M177.8 93.9h0.9M188.8 101.7h0.9M184.8 96.5h0.9M181.1 102.6h0.9M188.6 93.3h0.9M183.3 96.8h0.9M181.9 93.2h0.9M176.3 93.3h0.9M179.8 95.4h0.9M182.9 95.8h0.9M178.4 102.1h0.9M174.0 98.4h0.9M173.6 98.1h0.9M178.9 99.0h0.9M177.9 94.7h0.9M175.0 98.5h0.9M183.5 96.4h0.9M181.3 103.5h0.9M188.4 104.2h0.9M177.7 94.3h0.9M192.9 94.6h0.9M181.2 98.6h0.9M182.0 99.6h0.9M188.7 90.9h0.9M180.5 102.7h0.9M183.4 107.3h0.9M184.1 96.9h0.9M178.8 101.7h0.9M179.2 99.5h0.9M181.9 102.5h0.9M181.1 92.0h0.9M175.5 91.8h0.9M180.8 103.6h0.9M181.8 96.3h0.9M180.1 98.0h0.9M179.6 100.5h0.9M175.2 86.6h0.9M180.9 99.8h0.9M177.1 97.7h0.9M184.1 96.4h0.9M186.9 107.7h0.9M185.0 101.0h0.9M182.0 96.0h0.9M178.1 103.0h0.9M183.5 86.7h0.9M180.1 104.0h0.9M185.6 109.4h0.9M182.3 96.5h0.9M175.8 95.1h0.9M184.9 92.5h0.9M181.1 96.3h0.9M178.6 84.1h0.9M179.8 108.3h0.9M186.3 104.9h0.9M179.3 93.6h0.9M184.3 99.0h0.9M175.9 104.0h0.9M187.7 99.0h0.9M175.6 92.6h0.9M177.4 96.1h0.9M185.9 100.2h0.9M188.0 102.2h0.9M182.5 99.9h0.9M180.5 94.0h0.9M179.9 95.4h0.9M185.9 100.1h0.9M176.5 103.2h0.9M183.8 96.8h0.9M179.3 101.1h0.9M179.0 96.8h0.9M191.8 99.5h0.9M182.2 100.8h0.9M184.8 103.6h0.9M176.2 93.8h0.9M180.1 94.6h0.9M180.8 94.7h0.9M178.6 92.7h0.9M184.1 103.5h0.9M181.3 98.0h0.9M186.1 96.3h0.9M180.6 98.5h0.9M175.9 98.0h0.9M183.1 96.1h0.9M175.0 97.7h0.9M184.1 99.8h0.9M187.4 98.0h0.9M185.7 104.2h0.9M181.2 87.9h0.9M190.8 97.8h0.9M183.6 104.3h0.9M179.9 96.6h0.9M182.3 101.7h0.9M176.6 98.3h0.9M181.3 89.9h0.9M173.6 105.7h0.9M185.1 101.4h0.9M182.8 101.6h0.9M174.9 102.1h0.9M180.9 98.9h0.9M185.2 91.5h0.9M188.4 104.8h0.9M186.3 100.5h0.9M175.5 95.0h0.9M179.5 96.3h0.9M174.3 95.8h0.9M187.6 102.5h0.9M180.7 98.9h0.9M183.2 102.7h0.9M182.3 101.1h0.9M184.0 103.1h0.9M177.9 97.0h0.9M187.3 97.5h0.9M186.0 99.6h0.9M181.9 95.1h0.9M173.8 107.1h0.9M174.4 97.6h0.9M180.0 93.0h0.9M182.1 104.1h0.9M177.5 103.0h0.9M186.9 89.8h0.9M176.6 97.5h0.9M181.6 100.3h0.9M175.4 99.2h0.9M181.1 93.7h0.9M183.7 99.2h0.9M183.8 104.0h0.9M186.0 95.7h0.9M182.7 96.1h0.9M174.4 100.1h0.9M186.9 95.0h0.9M179.4 91.7h0.9M183.8 99.7h0.9M178.8 101.3h0.9M180.7 102.4h0.9M176.1 93.8h0.9M187.9 98.2h0.9M177.3 93.9h0.9M177.4 100.3h0.9M188.7 93.5h0.9M174.5 104.9h0.9M180.8 103.0h0.9M182.8 97.9h0.9M177.8 100.0h0.9M180.8 98.2h0.9M175.7 101.4h0.9M181.0 103.9h0.9M183.4 100.7h0.9M184.0 104.4h0.9M178.0 95.3h0.9M181.1 99.1h0.9M185.6 96.8h0.9M179.1 102.3h0.9M187.0 99.4h0.9M183.2 105.7h0.9M180.6 107.9h0.9M183.1 106.0h0.9M178.2 88.9h0.9M179.8 96.0h0.9M177.4 103.4h0.9M182.3 104.5h0.9M181.1 95.4h0.9M182.5 102.7h0.9M184.4 102.8h0.9M179.5 106.9h0.9M185.7 87.8h0.9M184.6 100.9h0.9" stroke="#e2290b" stroke-width="0.9" stroke-opacity="0.55" fill="none"/>
<path d="M185.4 92.2h0.9M180.3 96.0h0.9M177.8 92.0h0.9M183.8 95.8h0.9M179.9 95.3h0.9M185.8 102.0h0.9M181.0 95.7h0.9M181.4 95.9h0.9M174.7 98.6h0.9M187.7 97.9h0.9M184.1 101.0h0.9M191.2 95.0h0.9M179.8 99.3h0.9M186.0 95.8h0.9M175.8 107.8h0.9M180.1 98.6h0.9M183.2 93.7h0.9M180.5 99.3h0.9M182.7 89.9h0.9M186.6 98.7h0.9M178.1 104.9h0.9M177.7 104.9h0.9M183.5 99.3h0.9M178.0 96.6h0.9M187.5 95.9h0.9M189.9 98.5h0.9M179.0 95.2h0.9M176.7 101.9h0.9M182.0 97.1h0.9M180.0 90.8h0.9M179.5 89.8h0.9M184.8 105.6h0.9M183.7 109.2h0.9M186.4 102.0h0.9M182.0 96.4h0.9M182.2 97.8h0.9M181.6 93.9h0.9M176.9 94.9h0.9M175.0 98.4h0.9M183.1 103.5h0.9M185.5 97.0h0.9M175.0 105.2h0.9M178.6 98.9h0.9M177.2 86.0h0.9M182.3 98.3h0.9M175.5 104.9h0.9M186.1 104.5h0.9M182.6 92.0h0.9M183.2 106.1h0.9M179.4 89.3h0.9M187.8 95.5h0.9M180.3 95.2h0.9M181.0 102.8h0.9M187.2 101.0h0.9M180.1 97.3h0.9M182.1 96.4h0.9M182.3 100.7h0.9M177.2 105.7h0.9M176.8 95.1h0.9M179.7 99.0h0.9M177.9 96.8h0.9M173.9 98.0h0.9M184.8 104.6h0.9M188.9 103.5h0.9M182.7 100.5h0.9M180.2 97.6h0.9M182.3 94.4h0.9M181.2 104.4h0.9M178.4 102.5h0.9M177.1 103.1h0.9M177.0 103.0h0.9M176.2 91.8h0.9M178.0 101.8h0.9M181.5 104.0h0.9M178.7 99.8h0.9M181.8 102.6h0.9M176.6 89.9h0.9M175.0 95.6h0.9M182.8 105.2h0.9M173.8 88.3h0.9M179.6 91.9h0.9M177.1 99.3h0.9M177.4 95.8h0.9M179.4 90.2h0.9M175.0 97.9h0.9M182.2 97.0h0.9M175.9 97.0h0.9M182.4 98.7h0.9M182.1 101.2h0.9M176.6 96.8h0.9M188.5 102.2h0.9M183.7 98.5h0.9M178.6 97.7h0.9M186.5 97.6h0.9M185.0 100.2h0.9M177.7 96.7h0.9M181.5 101.8h0.9M187.9 100.1h0.9M185.7 98.8h0.9M177.3 98.1h0.9M174.8 101.1h0.9M187.3 95.3h0.9M177.6 103.7h0.9M178.7 99.4h0.9M175.0 99.5h0.9M184.5 96.7h0.9M174.3 98.8h0.9M177.9 101.8h0.9M182.7 103.4h0.9M185.0 103.7h0.9M183.3 97.1h0.9M183.4 96.0h0.9M177.0 99.0h0.9M181.1 102.1h0.9M181.6 103.8h0.9M184.5 95.3h0.9M181.3 99.8h0.9M183.2 102.1h0.9M182.4 100.3h0.9M179.6 96.2h0.9M177.9 102.4h0.9M177.5 109.6h0.9M185.9 100.4h0.9M177.0 103.1h0.9M177.1 103.4h0.9M182.0 103.6h0.9M179.3 97.0h0.9M182.1 95.4h0.9M188.2 100.4h0.9M184.6 95.5h0.9M174.5 100.1h0.9M179.2 97.5h0.9M183.1 100.4h0.9M179.3 98.1h0.9M183.2 101.6h0.9M182.8 99.3h0.9M183.1 100.2h0.9M178.4 97.9h0.9M182.5 103.2h0.9M184.8 99.4h0.9M179.0 99.1h0.9M176.1 105.3h0.9M185.4 90.5h0.9M183.8 104.9h0.9M182.2 104.1h0.9M184.0 93.9h0.9M176.8 90.1h0.9M181.5 91.9h0.9M179.3 97.2h0.9M185.3 103.1h0.9M181.8 92.2h0.9M186.2 99.4h0.9M175.9 99.0h0.9M183.2 99.2h0.9M179.6 99.4h0.9M181.3 94.7h0.9M180.5 98.4h0.9M183.4 96.9h0.9M178.1 99.4h0.9M180.8 94.5h0.9M182.8 86.4h0.9M178.6 93.2h0.9M181.3 96.4h0.9M176.9 103.5h0.9M184.9 96.7h0.9M184.0 101.1h0.9M188.6 100.6h0.9M189.9 106.4h0.9M176.2 90.4h0.9M190.4 101.8h0.9M184.0 102.4h0.9M182.5 97.9h0.9M181.2 97.9h0.9M189.4 96.4h0.9M178.9 96.9h0.9M179.6 99.7h0.9M178.2 96.2h0.9M182.7 97.7h0.9M176.7 90.8h0.9M177.8 100.9h0.9M176.3 104.5h0.9M183.0 99.8h0.9M184.1 101.3h0.9M182.9 101.4h0.9M181.9 94.1h0.9M180.3 98.5h0.9M177.2 100.9h0.9M183.0 106.4h0.9M185.2 88.0h0.9M181.1 103.2h0.9M178.3 103.1h0.9M182.2 89.8h0.9M182.0 103.5h0.9M188.0 101.4h0.9M181.9 101.8h0.9M181.7 102.5h0.9M176.8 85.8h0.9M183.3 96.0h0.9M182.9 101.9h0.9M184.8 99.7h0.9M192.5 90.1h0.9M179.5 97.2h0.9M181.0 95.5h0.9M181.6 103.4h0.9M179.4 96.6h0.9M180.1 91.2h0.9M182.5 81.8h0.9M179.8 95.0h0.9M174.5 99.2h0.9M188.9 105.0h0.9M186.4 95.9h0.9M183.0 104.9h0.9M190.3 97.8h0.9M177.3 93.4h0.9M185.2 101.0h0.9M178.8 92.4h0.9M186.2 99.5h0.9M178.4 89.5h0.9M182.7 97.0h0.9M179.4 97.1h0.9M179.1 98.2h0.9M184.2 100.4h0.9M184.6 95.4h0.9M187.2 94.2h0.9M177.5 102.0h0.9M185.3 92.9h0.9M180.4 93.6h0.9M181.4 108.6h0.9M186.4 97.3h0.9M179.1 103.9h0.9M180.3 100.5h0.9M189.2 90.2h0.9M178.4 91.9h0.9M176.0 85.1h0.9M186.8 91.5h0.9M176.5 96.0h0.9M181.3 97.2h0.9M186.5 99.9h0.9M179.5 98.3h0.9M177.5 97.1h0.9M180.2 85.2h0.9M180.8 98.2h0.9M184.4 106.7h0.9M183.6 94.6h0.9M181.4 100.8h0.9M177.0 94.4h0.9M182.2 98.3h0.9M181.7 101.1h0.9M181.4 91.2h0.9M187.0 94.2h0.9M186.4 87.9h0.9M183.7 93.4h0.9M187.5 98.8h0.9M182.0 95.6h0.9M183.6 99.6h0.9M180.2 99.1h0.9M178.5 97.2h0.9M185.7 94.9h0.9M186.0 90.6h0.9M179.7 97.4h0.9M182.5 98.0h0.9M176.5 101.5h0.9M179.3 103.7h0.9M185.7 91.2h0.9M186.6 99.4h0.9M176.7 96.8h0.9M180.8 102.7h0.9M186.8 95.3h0.9M184.4 103.2h0.9M182.2 102.4h0.9M179.7 103.6h0.9M183.8 102.7h0.9M181.7 101.7h0.9M178.4 101.5h0.9M187.7 97.2h0.9M178.1 103.0h0.9M186.0 101.7h0.9M181.0 104.4h0.9M182.7 86.4h0.9M184.0 101.0h0.9M186.9 99.8h0.9M185.0 106.5h0.9M184.3 93.0h0.9M183.8 106.1h0.9M178.2 101.6h0.9M186.9 103.7h0.9M182.5 95.9h0.9M177.8 90.9h0.9M183.9 90.3h0.9M185.7 96.6h0.9M177.2 95.4h0.9" stroke="#e2290b" stroke-width="0.9" stroke-opacity="0.55" fill="none"/>
<path d="M185.1 102.8h0.9M188.8 90.4h0.9M186.3 102.2h0.9M178.6 97.2h0.9M178.9 94.5h0.9M186.3 99.3h0.9M179.6 94.4h0.9M181.9 103.9h0.9M179.6 96.2h0.9M178.4 96.3h0.9M179.2 97.3h0.9M176.5 96.3h0.9M189.2 99.8h0.9M180.3 103.4h0.9M179.6 99.4h0.9M181.0 93.0h0.9M176.5 90.0h0.9M179.7 97.5h0.9M182.7 108.3h0.9M183.7 100.3h0.9M181.1 109.0h0.9M180.7 99.1h0.9M180.3 101.7h0.9M176.5 107.1h0.9M188.6 91.5h0.9M183.7 98.2h0.9M181.8 104.7h0.9M186.1 104.9h0.9M181.3 95.3h0.9M181.4 90.7h0.9M181.6 102.8h0.9M175.4 105.0h0.9M183.5 92.5h0.9M174.4 97.9h0.9M181.8 99.7h0.9M185.9 101.0h0.9M189.3 98.1h0.9M182.4 101.5h0.9M182.6 95.5h0.9M180.8 102.8h0.9M184.7 102.2h0.9M183.9 99.0h0.9M187.1 103.2h0.9M186.7 103.5h0.9M184.1 101.0h0.9M184.3 99.4h0.9M186.8 97.9h0.9M190.8 98.7h0.9M183.7 107.7h0.9M180.7 100.9h0.9M181.3 91.5h0.9M174.8 101.9h0.9M182.2 89.9h0.9M184.0 100.5h0.9M185.9 103.2h0.9M188.3 103.9h0.9M183.3 87.4h0.9M184.6 104.6h0.9M177.2 103.5h0.9M183.1 100.8h0.9M175.8 94.9h0.9M182.3 103.9h0.9M180.4 95.7h0.9M176.1 93.0h0.9M189.9 97.4h0.9M181.8 103.5h0.9M183.0 101.6h0.9M183.0 98.9h0.9M189.1 99.8h0.9M193.0 91.7h0.9M181.7 103.0h0.9M185.8 91.9h0.9M178.4 100.0h0.9M178.8 101.2h0.9M175.9 100.8h0.9M184.3 99.7h0.9M183.6 99.9h0.9M181.1 92.9h0.9M182.6 105.8h0.9M177.0 105.1h0.9M183.4 106.0h0.9M178.2 100.2h0.9M181.8 88.9h0.9M174.0 101.9h0.9M180.1 96.3h0.9M180.8 102.7h0.9M183.8 98.2h0.9M185.0 99.0h0.9M179.0 107.0h0.9M186.0 101.5h0.9M178.3 95.1h0.9M183.4 94.2h0.9M176.8 97.4h0.9M182.5 101.6h0.9M177.5 106.3h0.9M181.1 99.2h0.9M177.5 96.8h0.9M184.4 96.2h0.9M181.9 92.5h0.9M190.8 108.6h0.9M188.0 92.7h0.9M184.4 103.4h0.9M178.6 96.1h0.9M184.8 96.2h0.9M184.6 93.3h0.9M183.9 90.6h0.9M176.7 95.7h0.9M183.3 104.3h0.9M188.1 102.2h0.9M178.1 103.0h0.9M182.8 94.1h0.9M177.3 97.6h0.9M178.8 103.1h0.9M179.3 90.9h0.9M181.9 100.7h0.9M178.4 101.4h0.9M187.1 100.8h0.9M179.4 104.4h0.9M184.0 95.1h0.9M182.4 105.4h0.9M178.6 91.9h0.9M184.5 94.9h0.9M183.9 99.5h0.9M180.2 101.7h0.9M182.8 93.0h0.9M179.2 94.9h0.9M180.8 86.1h0.9M178.2 91.4h0.9M187.4 97.5h0.9M182.1 101.7h0.9M179.3 90.6h0.9M179.1 100.8h0.9M186.4 92.3h0.9M182.7 102.9h0.9M180.6 99.6h0.9M179.4 95.8h0.9M185.2 100.7h0.9M184.1 107.2h0.9M180.4 93.3h0.9M183.4 98.7h0.9M181.3 104.0h0.9M185.3 102.8h0.9M181.5 87.8h0.9M175.6 99.7h0.9M183.0 102.8h0.9M182.2 93.1h0.9M175.9 94.0h0.9M184.9 99.9h0.9M182.6 100.2h0.9M185.9 93.5h0.9M184.8 91.4h0.9M176.3 97.7h0.9M176.6 101.9h0.9M183.6 97.7h0.9M190.6 96.7h0.9M197.3 99.3h0.9M188.4 98.0h0.9M182.9 104.1h0.9M184.3 97.3h0.9M174.8 101.5h0.9M177.9 96.2h0.9M180.4 99.9h0.9M181.2 90.9h0.9M178.9 90.5h0.9M178.8 98.1h0.9M179.5 93.5h0.9M180.5 90.8h0.9M179.4 95.7h0.9M180.2 102.0h0.9M174.2 102.0h0.9M179.3 109.0h0.9M175.1 96.6h0.9M186.9 91.5h0.9M181.3 104.2h0.9M183.8 96.4h0.9M183.0 107.9h0.9M183.5 99.1h0.9M181.4 96.9h0.9M181.4 105.1h0.9M185.6 95.2h0.9M185.9 98.7h0.9M180.2 92.0h0.9M184.9 105.0h0.9M177.1 101.4h0.9M183.0 95.3h0.9M180.2 96.2h0.9M181.3 100.3h0.9M182.4 94.1h0.9M184.9 84.2h0.9M173.7 87.9h0.9M179.8 97.0h0.9M176.0 103.4h0.9M187.8 104.0h0.9M183.7 96.4h0.9M177.8 94.7h0.9M186.6 92.1h0.9M176.2 97.1h0.9M182.3 99.5h0.9M183.3 106.0h0.9M180.6 101.3h0.9M177.8 98.8h0.9M181.4 94.8h0.9M183.7 109.8h0.9M174.8 92.2h0.9M187.6 89.8h0.9M179.1 95.8h0.9M183.2 96.3h0.9M177.7 99.4h0.9M187.3 103.7h0.9M186.3 100.0h0.9M179.4 101.5h0.9M176.6 103.8h0.9M177.1 100.0h0.9M183.3 91.3h0.9M185.6 89.1h0.9M182.2 93.5h0.9M183.7 84.5h0.9M176.2 97.0h0.9M187.5 96.6h0.9M184.1 97.0h0.9M182.8 105.7h0.9M179.8 98.5h0.9M183.4 99.4h0.9M180.9 100.7h0.9M180.8 89.0h0.9M180.7 92.4h0.9M181.7 81.1h0.9M178.1 102.1h0.9M177.7 97.7h0.9M180.0 97.8h0.9M185.4 105.2h0.9M179.0 91.8h0.9M176.2 106.5h0.9M179.3 99.9h0.9M185.3 98.8h0.9M180.0 95.4h0.9M178.6 99.2h0.9M179.8 102.4h0.9M185.4 97.8h0.9M175.0 96.0h0.9M178.7 91.2h0.9M183.4 93.7h0.9M185.4 90.4h0.9M182.4 98.4h0.9M183.3 99.4h0.9M180.7 104.0h0.9M180.9 99.6h0.9M185.1 96.6h0.9M176.9 102.6h0.9M183.5 99.2h0.9M175.0 96.6h0.9M181.6 97.5h0.9M182.5 91.3h0.9M180.8 94.3h0.9M181.6 103.3h0.9M177.1 104.8h0.9M183.6 96.2h0.9M174.7 103.3h0.9M181.7 110.6h0.9M181.0 99.7h0.9M179.4 93.5h0.9M180.6 100.8h0.9M178.7 92.6h0.9M182.3 96.7h0.9M185.4 97.1h0.9M181.1 99.2h0.9M178.4 105.2h0.9M183.9 103.8h0.9M182.9 101.7h0.9M181.3 93.0h0.9M181.2 95.8h0.9M176.2 99.1h0.9M183.9 95.1h0.9M177.2 90.8h0.9M179.0 92.4h0.9M179.3 96.8h0.9M180.1 101.1h0.9M173.8 96.9h0.9M179.0 95.7h0.9M177.5 101.4h0.9M183.1 100.0h0.9M183.3 102.7h0.9M187.8 94.5h0.9M180.6 99.8h0.9M177.8 95.0h0.9" stroke="#e2290b" stroke-width="0.9" stroke-opacity="0.55" fill="none"/>
<path d="M188.3 95.8h0.9M188.8 95.2h0.9M182.9 99.5h0.9M183.5 99.2h0.9M183.0 99.9h0.9M187.1 101.3h0.9M179.4 107.9h0.9M182.9 98.9h0.9M188.3 101.9h0.9M183.7 98.7h0.9M181.4 98.0h0.9M175.6 96.2h0.9M183.6 99.7h0.9M188.4 99.5h0.9M179.9 92.9h0.9M180.1 101.6h0.9M181.1 106.0h0.9M179.2 98.1h0.9M190.4 102.6h0.9M182.9 99.6h0.9M179.9 94.7h0.9M179.5 94.3h0.9M181.6 97.2h0.9M179.1 105.5h0.9M181.8 102.7h0.9M186.4 99.8h0.9M174.4 95.0h0.9M186.7 102.0h0.9M175.6 91.7h0.9M182.4 105.5h0.9M182.9 102.9h0.9M179.2 98.8h0.9M182.8 95.8h0.9M187.0 96.4h0.9M177.7 96.1h0.9M185.1 106.8h0.9M183.3 96.5h0.9M175.4 96.1h0.9M187.6 101.6h0.9M179.9 94.4h0.9M179.2 92.2h0.9M183.0 99.4h0.9M179.8 92.6h0.9M177.2 98.6h0.9M181.0 103.7h0.9M181.8 96.5h0.9M177.6 94.9h0.9M183.3 92.5h0.9M178.9 96.7h0.9M175.6 99.9h0.9M182.9 106.1h0.9M186.2 101.1h0.9M184.5 96.2h0.9M186.3 91.1h0.9M178.2 95.8h0.9M185.2 102.1h0.9M185.4 95.1h0.9M178.3 101.3h0.9M183.5 97.6h0.9M191.5 96.7h0.9M177.7 94.3h0.9M182.8 93.9h0.9M178.5 98.1h0.9M178.3 97.9h0.9M181.4 88.1h0.9M185.9 94.0h0.9M185.1 92.5h0.9M187.6 103.0h0.9M177.8 102.7h0.9M186.3 107.0h0.9M180.5 101.6h0.9M179.3 102.0h0.9M181.5 96.0h0.9M176.6 95.5h0.9M183.2 95.9h0.9M182.0 98.3h0.9M183.4 91.7h0.9M181.4 99.5h0.9M179.0 96.8h0.9M177.9 95.9h0.9M174.7 95.1h0.9M183.7 102.3h0.9M184.3 90.7h0.9M178.2 103.2h0.9M185.6 97.2h0.9M180.0 94.0h0.9M174.9 94.8h0.9M180.4 95.1h0.9M185.8 95.1h0.9M179.4 95.7h0.9M183.7 105.6h0.9M178.6 99.1h0.9M185.8 109.6h0.9M187.1 99.8h0.9M175.7 105.4h0.9M183.3 101.3h0.9M184.6 103.2h0.9M177.9 99.5h0.9M180.5 97.4h0.9M179.7 93.4h0.9M186.5 92.9h0.9M186.4 94.5h0.9M178.4 96.6h0.9M181.1 105.1h0.9M178.6 102.4h0.9M180.1 96.6h0.9M184.3 96.5h0.9M178.4 90.0h0.9M180.6 98.1h0.9M182.8 100.9h0.9M185.3 98.6h0.9M178.9 103.8h0.9M187.5 101.0h0.9M187.7 97.4h0.9M176.8 102.8h0.9M177.1 105.4h0.9M177.8 101.0h0.9M174.4 98.1h0.9M176.2 96.5h0.9M180.9 105.7h0.9M183.2 91.8h0.9M181.2 87.8h0.9M180.8 97.5h0.9M182.3 108.4h0.9M188.9 90.9h0.9M175.6 93.0h0.9M178.1 106.9h0.9M179.4 99.0h0.9M180.8 108.6h0.9M181.4 99.2h0.9M175.3 96.9h0.9M184.7 103.8h0.9M180.4 101.2h0.9M179.0 107.2h0.9M183.6 97.4h0.9M180.3 99.5h0.9M178.0 95.6h0.9M175.8 104.8h0.9M185.4 106.7h0.9M188.8 102.0h0.9M177.5 97.7h0.9M182.5 95.4h0.9M183.5 105.8h0.9M187.0 101.3h0.9M186.6 90.5h0.9M184.3 101.7h0.9M180.5 89.8h0.9M184.2 94.4h0.9M186.6 95.2h0.9M177.3 100.8h0.9M180.1 101.9h0.9M183.4 95.1h0.9M185.4 89.2h0.9M182.2 97.1h0.9M187.7 100.9h0.9M182.9 106.0h0.9M182.2 97.3h0.9M183.7 94.1h0.9M181.9 97.9h0.9M182.6 98.2h0.9M178.6 96.3h0.9M185.4 101.1h0.9M175.7 89.8h0.9M183.5 99.4h0.9M180.8 92.9h0.9M184.5 99.4h0.9M176.2 97.5h0.9M187.0 99.0h0.9M186.9 93.6h0.9M184.0 103.2h0.9M178.9 88.2h0.9M181.7 99.2h0.9M175.7 101.6h0.9M187.1 98.9h0.9M189.1 91.4h0.9M183.7 105.2h0.9M179.3 97.1h0.9M185.1 107.2h0.9M181.2 99.9h0.9M181.8 88.2h0.9M178.0 91.8h0.9M180.1 96.6h0.9M179.0 97.4h0.9M178.9 105.6h0.9M177.1 97.8h0.9M182.7 90.3h0.9M187.4 98.7h0.9M178.0 96.6h0.9M180.0 101.7h0.9M179.8 97.5h0.9M180.3 92.4h0.9M179.4 90.2h0.9M180.8 104.9h0.9M184.3 103.9h0.9M178.2 96.3h0.9M180.1 105.7h0.9M188.2 89.0h0.9M185.8 100.1h0.9M179.6 99.3h0.9M188.1 101.1h0.9M179.1 92.3h0.9M187.4 94.7h0.9M178.1 104.2h0.9M179.6 96.4h0.9M178.6 95.9h0.9M177.5 94.6h0.9M177.0 101.8h0.9M182.0 98.2h0.9M183.9 93.4h0.9M181.3 95.4h0.9M181.3 105.2h0.9M181.6 98.9h0.9M179.0 92.2h0.9M180.3 104.4h0.9M183.3 91.1h0.9M184.7 94.4h0.9M177.8 103.8h0.9M175.6 97.4h0.9M187.3 102.4h0.9M185.4 97.6h0.9M176.0 104.7h0.9M175.3 97.2h0.9M181.1 93.4h0.9M177.0 98.5h0.9M185.1 100.2h0.9M184.4 104.3h0.9M186.1 91.4h0.9M180.7 90.6h0.9M180.6 102.7h0.9M176.5 92.3h0.9M182.4 98.5h0.9M175.8 95.9h0.9M178.7 98.7h0.9M183.8 96.1h0.9M178.4 96.1h0.9M179.0 97.1h0.9M176.7 96.9h0.9M181.6 100.3h0.9M178.5 103.9h0.9M178.3 90.7h0.9M183.9 100.2h0.9M181.1 96.8h0.9M173.9 102.8h0.9M176.1 101.6h0.9M182.1 103.3h0.9M178.4 99.3h0.9M181.4 95.2h0.9M178.4 93.3h0.9M182.8 102.7h0.9M179.5 96.1h0.9M184.1 98.0h0.9M181.0 97.3h0.9M180.0 101.2h0.9M183.6 96.9h0.9M189.1 97.9h0.9M175.1 93.8h0.9M181.7 97.7h0.9M181.9 89.3h0.9M181.3 87.5h0.9M177.6 94.8h0.9M179.6 102.8h0.9M181.6 95.3h0.9M180.9 95.8h0.9M176.0 91.8h0.9M180.2 98.5h0.9M181.7 98.7h0.9M183.5 103.1h0.9M183.4 99.1h0.9M182.4 97.1h0.9M181.6 100.3h0.9M176.5 101.8h0.9M183.5 94.7h0.9M187.7 94.8h0.9M182.2 102.5h0.9M178.6 96.7h0.9M185.5 102.7h0.9M178.9 107.2h0.9M183.4 102.1h0.9M193.4 95.4h0.9M185.2 90.1h0.9M177.8 102.4h0.9M184.3 102.8h0.9M180.6 94.7h0.9M178.9 99.1h0.9M179.8 104.1h0.9M181.6 99.9h0.9M179.9 98.8h0.9M185.5 101.9h0.9M179.5 102.0h0.9M181.5 108.3h0.9" stroke="#e2290b" stroke-width="0.9" stroke-opacity="0.55" fill="none"/>
<path d="M183.0 101.0h0.9M184.8 94.8h0.9M183.2 96.7h0.9M184.6 93.9h0.9M185.8 102.6h0.9M179.9 103.9h0.9M180.4 102.9h0.9M184.5 97.7h0.9M188.0 100.9h0.9M189.3 92.5h0.9M179.6 100.3h0.9M178.7 102.3h0.9M178.4 101.6h0.9M181.2 98.7h0.9M183.0 88.2h0.9M186.7 102.2h0.9M176.4 92.2h0.9M174.3 105.3h0.9M177.2 97.2h0.9M181.2 93.4h0.9M180.6 95.7h0.9M180.4 102.2h0.9M174.6 97.0h0.9M181.9 104.8h0.9M178.9 94.2h0.9M180.2 98.9h0.9M184.1 99.4h0.9M184.7 100.9h0.9M187.2 98.4h0.9M173.7 93.1h0.9M188.3 97.0h0.9M182.0 95.0h0.9M184.4 90.2h0.9M176.3 95.1h0.9M186.2 94.2h0.9M182.7 95.6h0.9M181.3 95.0h0.9M185.7 94.5h0.9M179.0 100.2h0.9M178.8 102.7h0.9M179.8 107.9h0.9M177.5 98.0h0.9M179.1 86.2h0.9M175.8 93.0h0.9M189.1 98.5h0.9M176.8 100.7h0.9M181.3 88.0h0.9M188.3 97.2h0.9M186.2 90.1h0.9M186.8 99.5h0.9M176.1 106.4h0.9M182.1 103.5h0.9M186.6 105.4h0.9M185.3 86.2h0.9M183.1 103.5h0.9M180.0 96.9h0.9M182.5 94.5h0.9M181.1 87.5h0.9M180.0 98.0h0.9M189.3 91.2h0.9M188.1 103.0h0.9M175.9 93.5h0.9M185.9 108.3h0.9M180.5 103.3h0.9M184.5 95.9h0.9M185.1 96.7h0.9M176.9 104.0h0.9M182.5 101.0h0.9M185.1 105.0h0.9M179.8 103.9h0.9M180.7 99.9h0.9M180.6 98.8h0.9M182.6 96.1h0.9M182.6 99.3h0.9M183.6 105.4h0.9M182.4 102.5h0.9M181.4 100.4h0.9M182.8 108.0h0.9M184.9 94.2h0.9M180.1 95.3h0.9M182.2 99.1h0.9M179.8 96.0h0.9M183.3 99.4h0.9M182.2 95.5h0.9M178.1 98.1h0.9M178.3 100.8h0.9M187.3 106.7h0.9M182.8 96.7h0.9M180.1 98.4h0.9M182.9 97.9h0.9M178.9 98.0h0.9M178.0 98.9h0.9M179.4 96.3h0.9M183.4 103.1h0.9M182.6 100.7h0.9M174.0 101.1h0.9M181.7 96.3h0.9M184.4 98.0h0.9M177.8 101.9h0.9M173.9 98.9h0.9M185.6 97.6h0.9M179.7 100.0h0.9M191.0 86.9h0.9M187.6 101.6h0.9M178.8 97.4h0.9M177.1 102.3h0.9M185.8 99.1h0.9M194.0 100.1h0.9M181.6 96.1h0.9M180.2 99.2h0.9M185.3 105.4h0.9M181.6 85.9h0.9M179.3 98.4h0.9M182.4 99.8h0.9M184.3 101.8h0.9M184.3 105.6h0.9M184.2 88.4h0.9M179.9 102.9h0.9M180.6 98.8h0.9M181.5 94.5h0.9M180.4 94.4h0.9M186.0 100.9h0.9M183.4 98.5h0.9M180.5 95.4h0.9M175.5 97.9h0.9M181.5 99.3h0.9M185.9 92.3h0.9M178.1 94.1h0.9M177.1 97.7h0.9M184.4 91.5h0.9M178.2 99.8h0.9M180.6 94.9h0.9M183.2 87.2h0.9M184.0 104.0h0.9M179.9 104.4h0.9M180.8 102.2h0.9M185.9 88.6h0.9M178.1 95.2h0.9M180.3 99.0h0.9M187.2 102.9h0.9M180.6 95.9h0.9M181.3 98.9h0.9M180.8 97.9h0.9M181.4 99.2h0.9M176.0 100.8h0.9M180.1 97.2h0.9M184.0 94.1h0.9M177.2 99.6h0.9M182.5 94.3h0.9M181.0 103.6h0.9M183.1 97.2h0.9M181.1 100.2h0.9M182.0 103.6h0.9M179.3 89.8h0.9M177.6 102.0h0.9M177.1 102.6h0.9M179.0 102.2h0.9M178.6 99.4h0.9M188.9 104.2h0.9M182.3 95.4h0.9M177.6 100.9h0.9M182.1 87.0h0.9M178.7 99.4h0.9M181.7 109.1h0.9M179.9 95.0h0.9M176.8 94.4h0.9M179.9 101.3h0.9M182.3 98.8h0.9M182.2 104.4h0.9M181.9 91.4h0.9M175.5 100.2h0.9M178.5 97.6h0.9M184.1 96.4h0.9M178.6 100.1h0.9M181.0 94.6h0.9M186.7 92.0h0.9M183.6 89.0h0.9M176.9 98.7h0.9M175.5 95.3h0.9M179.8 92.4h0.9M177.1 106.4h0.9M184.0 96.0h0.9M183.1 102.4h0.9M184.4 88.6h0.9M181.5 91.0h0.9M175.3 94.1h0.9M182.4 103.4h0.9M177.6 98.8h0.9M182.3 102.5h0.9M179.1 89.2h0.9M180.4 92.8h0.9M179.9 98.5h0.9M178.4 103.9h0.9M178.3 94.9h0.9M180.0 98.6h0.9M180.8 97.9h0.9M178.4 100.0h0.9M183.5 91.9h0.9M182.4 97.8h0.9M191.1 86.2h0.9M176.1 99.3h0.9M175.2 101.1h0.9M177.2 102.8h0.9M176.4 99.7h0.9M181.2 93.0h0.9M186.1 91.2h0.9M182.0 92.9h0.9M185.8 101.6h0.9M173.8 96.6h0.9M180.1 97.3h0.9M177.5 103.4h0.9M190.1 89.5h0.9M173.7 94.3h0.9M178.3 99.9h0.9M185.0 96.0h0.9M176.0 105.5h0.9M184.7 98.9h0.9M185.3 99.5h0.9M177.1 105.8h0.9M176.8 99.2h0.9M181.3 97.2h0.9M178.8 106.0h0.9M185.9 94.4h0.9M182.4 100.8h0.9M181.8 102.6h0.9M180.1 101.1h0.9M184.3 92.0h0.9M184.8 90.0h0.9M178.6 95.7h0.9M182.5 100.0h0.9M180.6 100.1h0.9M181.7 97.8h0.9M182.2 99.7h0.9M175.0 107.3h0.9M182.5 105.3h0.9M181.5 99.4h0.9M181.7 95.6h0.9M179.0 102.9h0.9M174.7 105.7h0.9M177.5 95.0h0.9M178.3 97.4h0.9M177.2 101.7h0.9M175.6 100.6h0.9M177.2 104.9h0.9M183.8 94.5h0.9M177.6 99.8h0.9M179.7 97.7h0.9M180.9 90.0h0.9M183.8 95.0h0.9M178.0 100.2h0.9M177.3 97.6h0.9M175.7 99.5h0.9M182.3 93.6h0.9M182.8 92.3h0.9M185.3 91.4h0.9M179.2 105.0h0.9M182.8 97.8h0.9M186.4 100.3h0.9M174.6 99.2h0.9M179.8 106.0h0.9M183.8 94.9h0.9M191.6 101.0h0.9M182.8 97.8h0.9M183.7 99.6h0.9M181.7 100.5h0.9M181.1 103.8h0.9M174.6 97.1h0.9M181.6 94.1h0.9M180.9 99.5h0.9M180.0 96.7h0.9M182.9 95.7h0.9M182.8 94.3h0.9M177.2 90.5h0.9M180.2 100.7h0.9M176.9 92.9h0.9M187.7 100.2h0.9M184.6 108.1h0.9M184.3 93.5h0.9M179.5 99.6h0.9M182.5 100.9h0.9M176.3 97.4h0.9M180.3 102.7h0.9M177.5 97.8h0.9M183.1 101.6h0.9M179.7 95.1h0.9M184.5 101.5h0.9M179.8 95.2h0.9M190.6 98.4h0.9M181.6 100.0h0.9M182.3 95.7h0.9M184.0 97.3h0.9M175.7 94.6h0.9" stroke="#e2290b" stroke-width="0.9" stroke-opacity="0.55" fill="none"/>
<path d="M184.8 99.4h0.9M189.2 106.2h0.9M182.1 100.6h0.9M178.5 99.3h0.9M189.4 100.0h0.9M184.4 94.3h0.9M176.3 90.2h0.9M179.0 99.2h0.9M173.8 93.2h0.9M185.5 96.8h0.9M176.0 91.0h0.9M182.1 101.9h0.9M182.8 106.0h0.9M176.0 95.0h0.9M186.3 98.5h0.9M189.9 94.8h0.9M182.0 104.8h0.9M185.4 92.6h0.9M174.2 105.2h0.9M183.9 96.8h0.9M182.8 94.8h0.9M179.8 103.3h0.9M181.1 106.7h0.9M180.9 97.5h0.9M180.6 99.0h0.9M183.0 98.0h0.9M179.1 91.8h0.9M177.2 107.2h0.9M183.5 96.8h0.9M185.8 95.3h0.9M183.5 93.4h0.9M180.6 94.2h0.9M182.5 101.7h0.9M185.2 102.5h0.9M182.5 103.5h0.9M175.2 97.3h0.9M186.7 91.0h0.9M183.5 101.6h0.9M177.3 94.5h0.9M180.6 100.6h0.9M184.4 93.0h0.9M180.4 105.0h0.9M182.4 96.3h0.9M179.1 97.2h0.9M185.5 99.9h0.9M182.2 97.2h0.9M180.1 94.3h0.9M181.7 99.3h0.9M183.8 103.6h0.9M184.8 99.7h0.9M183.6 96.2h0.9M187.2 102.7h0.9M180.1 103.5h0.9M174.5 102.5h0.9M177.8 94.2h0.9M182.8 107.6h0.9M183.1 103.5h0.9M173.8 96.3h0.9M182.4 93.5h0.9M180.9 90.6h0.9M187.0 100.6h0.9M180.0 98.3h0.9M186.5 102.7h0.9M183.7 102.3h0.9M178.2 97.9h0.9M177.2 95.4h0.9M182.3 104.4h0.9M179.5 104.4h0.9M183.7 104.9h0.9M187.3 104.1h0.9M177.1 93.0h0.9M180.6 103.2h0.9M181.9 102.3h0.9M181.3 99.5h0.9M182.1 104.7h0.9M174.7 105.2h0.9M179.6 98.5h0.9M189.3 98.4h0.9M177.8 91.9h0.9M177.5 109.8h0.9M179.2 98.5h0.9M181.8 104.6h0.9M184.6 96.7h0.9M177.8 104.6h0.9M174.4 98.4h0.9M188.1 97.4h0.9M174.7 92.3h0.9M190.6 97.0h0.9M179.4 109.9h0.9M174.7 96.0h0.9M186.4 99.1h0.9M181.8 93.6h0.9M184.6 97.9h0.9M174.8 99.2h0.9M179.9 103.5h0.9M189.1 95.6h0.9M182.7 98.6h0.9M180.1 95.7h0.9M175.7 99.3h0.9M181.8 95.8h0.9M185.6 103.3h0.9M180.0 98.4h0.9M175.5 98.5h0.9M182.8 103.4h0.9M184.4 97.6h0.9M183.0 92.2h0.9M175.7 108.8h0.9M179.7 100.6h0.9M176.0 101.3h0.9M174.5 97.9h0.9M183.2 104.7h0.9M178.3 100.4h0.9M178.6 100.6h0.9M185.9 103.3h0.9M179.7 100.0h0.9M188.5 94.6h0.9M181.6 101.0h0.9M186.7 100.4h0.9M176.6 100.5h0.9M185.5 92.8h0.9M183.8 97.4h0.9M182.2 100.9h0.9M187.0 97.0h0.9M184.8 99.2h0.9M186.1 90.8h0.9M185.0 90.1h0.9M179.9 102.0h0.9M182.5 99.3h0.9M183.2 97.9h0.9M187.1 103.0h0.9M185.3 99.9h0.9M190.2 97.3h0.9M180.4 100.6h0.9M179.4 103.4h0.9M182.6 99.2h0.9M178.9 95.2h0.9M182.0 102.3h0.9M181.0 108.1h0.9M180.4 94.6h0.9M187.9 94.3h0.9M184.0 97.2h0.9M190.8 91.5h0.9M179.2 97.7h0.9M181.9 86.4h0.9M184.7 95.0h0.9M182.0 91.6h0.9M178.9 109.0h0.9M179.5 96.9h0.9M182.5 100.5h0.9M187.0 90.3h0.9M179.2 108.3h0.9M175.3 102.2h0.9M177.4 96.6h0.9M188.9 102.1h0.9M181.6 99.4h0.9M185.1 99.7h0.9M173.9 99.3h0.9M186.9 95.7h0.9M183.5 91.9h0.9M180.1 96.6h0.9M175.6 99.5h0.9M178.1 100.1h0.9M192.9 107.3h0.9M179.3 99.4h0.9M181.9 98.4h0.9M181.8 92.1h0.9M186.5 87.9h0.9M190.8 98.0h0.9M180.6 100.4h0.9M178.8 107.9h0.9M180.2 89.9h0.9M177.0 97.8h0.9M182.3 101.8h0.9M179.6 100.8h0.9M181.3 96.8h0.9M177.0 94.3h0.9M183.3 96.5h0.9M185.8 98.0h0.9M184.1 96.4h0.9M182.7 98.0h0.9M186.9 98.1h0.9M177.0 96.5h0.9M191.0 108.1h0.9M177.4 101.7h0.9M178.1 98.5h0.9M187.5 101.3h0.9M181.6 92.4h0.9M185.3 95.9h0.9M185.2 95.4h0.9M176.4 95.0h0.9M187.2 91.7h0.9M180.1 91.0h0.9M179.8 98.9h0.9M180.7 104.1h0.9M182.7 96.9h0.9M175.4 104.7h0.9M178.9 102.2h0.9M174.8 95.1h0.9M178.0 98.1h0.9M185.0 97.2h0.9M179.1 92.8h0.9M179.5 101.1h0.9M182.0 100.8h0.9M187.8 97.9h0.9M184.8 100.0h0.9M185.1 100.8h0.9M174.9 92.2h0.9M180.3 98.1h0.9M181.0 102.5h0.9M181.6 94.8h0.9M184.6 102.2h0.9M179.5 98.0h0.9M182.7 92.0h0.9M176.6 98.5h0.9M179.9 90.9h0.9M177.2 93.5h0.9M186.9 94.0h0.9M180.1 100.5h0.9M181.4 101.9h0.9M180.4 94.2h0.9M186.8 93.0h0.9M180.4 96.5h0.9M184.4 97.3h0.9M183.4 105.1h0.9M186.4 95.7h0.9M175.9 101.8h0.9M184.5 93.4h0.9M182.5 97.4h0.9M185.7 98.7h0.9M184.9 90.1h0.9M174.6 99.4h0.9M187.2 98.5h0.9M174.4 110.0h0.9M189.1 103.8h0.9M176.2 105.5h0.9M180.1 105.9h0.9M179.8 99.6h0.9M178.9 97.7h0.9M184.2 97.2h0.9M182.7 97.4h0.9M185.8 90.2h0.9M186.0 99.1h0.9M181.3 95.4h0.9M182.9 94.5h0.9M176.3 97.5h0.9M183.3 98.7h0.9M187.8 102.3h0.9M179.9 93.7h0.9M179.2 97.8h0.9M185.0 103.1h0.9M179.3 101.8h0.9M176.8 109.5h0.9M181.8 97.0h0.9M182.4 106.7h0.9M183.4 103.0h0.9M177.4 88.6h0.9M182.1 96.4h0.9M186.7 104.8h0.9M184.0 100.5h0.9M181.4 90.8h0.9M177.6 98.2h0.9M178.6 92.7h0.9M180.3 105.3h0.9M181.7 99.5h0.9M183.0 89.0h0.9M177.4 105.3h0.9M179.0 102.1h0.9M179.2 92.3h0.9M182.7 97.5h0.9M178.5 100.0h0.9M188.8 93.0h0.9M181.2 105.7h0.9M182.3 104.0h0.9M181.0 91.9h0.9M179.8 94.7h0.9M186.7 92.9h0.9M182.7 99.2h0.9M183.7 94.0h0.9M181.8 107.3h0.9M182.5 90.8h0.9M176.5 100.4h0.9M177.6 96.5h0.9M184.3 100.0h0.9M183.6 105.3h0.9M188.9 100.3h0.9M186.0 96.3h0.9M182.2 87.1h0.9M173.8 96.7h0.9M178.2 99.8h0.9M181.4 104.8h0.9" stroke="#e2290b" stroke-width="0.9" stroke-opacity="0.55" fill="none"/>
<path d="M185.9 95.5h0.9M187.6 103.1h0.9M175.1 100.3h0.9M191.5 89.8h0.9M186.0 103.0h0.9M175.9 94.8h0.9M189.8 105.3h0.9M178.0 102.6h0.9M178.9 101.8h0.9M176.6 93.5h0.9M194.6 91.9h0.9M197.2 98.5h0.9M180.0 98.9h0.9M186.0 93.6h0.9M191.3 89.1h0.9M182.8 84.1h0.9M186.5 103.2h0.9M184.7 100.0h0.9M192.9 82.4h0.9M179.3 93.7h0.9M176.6 95.7h0.9M198.5 107.0h0.9M195.7 95.7h0.9M195.6 92.6h0.9M176.0 88.0h0.9M189.7 101.4h0.9M183.8 96.1h0.9M185.6 92.1h0.9M190.1 90.2h0.9M187.1 100.6h0.9M194.6 98.7h0.9M183.4 108.2h0.9M186.5 101.0h0.9M174.4 94.4h0.9M200.9 102.5h0.9M182.8 101.3h0.9M196.2 91.7h0.9M178.4 94.6h0.9M189.7 107.5h0.9M184.1 99.7h0.9M199.8 87.7h0.9M186.6 102.0h0.9M179.4 97.9h0.9M174.2 88.1h0.9M186.7 101.2h0.9M181.5 93.3h0.9M185.8 91.7h0.9M177.0 97.7h0.9M184.4 95.0h0.9M180.8 103.0h0.9M182.3 93.6h0.9M179.9 98.9h0.9M191.2 97.6h0.9M191.0 96.6h0.9M185.3 94.0h0.9M185.5 105.0h0.9M176.7 94.9h0.9M195.0 99.8h0.9M190.3 94.4h0.9" stroke="#dc3040" stroke-width="0.9" stroke-opacity="0.42" fill="none"/>
<path d="M196.1 100.0h0.9M179.7 96.1h0.9M182.6 108.3h0.9M179.7 91.6h0.9M181.7 87.4h0.9M195.6 96.5h0.9M184.9 94.5h0.9M177.9 98.9h0.9M182.6 100.1h0.9M199.3 89.1h0.9M189.9 95.5h0.9M199.4 102.9h0.9M197.4 106.6h0.9M189.4 90.5h0.9M186.0 97.9h0.9M189.7 109.9h0.9M181.6 92.2h0.9M186.6 99.9h0.9M189.5 103.9h0.9M175.8 97.1h0.9M180.3 92.0h0.9M184.3 102.2h0.9M182.4 99.6h0.9M186.5 102.6h0.9M181.7 107.1h0.9M185.2 97.7h0.9M191.3 95.9h0.9M199.1 97.0h0.9M193.6 91.4h0.9M183.2 94.1h0.9M192.8 91.6h0.9M198.4 100.5h0.9M180.5 96.5h0.9M189.1 104.8h0.9M173.9 87.1h0.9M192.7 100.0h0.9M186.7 108.2h0.9M185.8 99.0h0.9M196.2 106.8h0.9M196.6 102.5h0.9M185.6 94.1h0.9M183.2 101.5h0.9M180.8 96.7h0.9M193.9 109.1h0.9M200.0 98.0h0.9M193.9 104.1h0.9M179.3 104.1h0.9M190.3 106.4h0.9M198.8 98.9h0.9M199.8 100.5h0.9M184.2 105.3h0.9M186.5 99.1h0.9M184.4 100.4h0.9M189.1 98.9h0.9M192.7 95.2h0.9M189.7 96.5h0.9M188.0 95.4h0.9M176.4 102.8h0.9" stroke="#dc3040" stroke-width="0.9" stroke-opacity="0.42" fill="none"/>
<path d="M180.6 93.3h0.9M184.7 91.5h0.9M184.6 101.8h0.9M182.4 110.3h0.9M186.0 97.9h0.9M180.2 108.2h0.9M192.2 90.0h0.9M186.5 96.1h0.9M175.8 103.8h0.9M176.7 98.8h0.9M192.7 100.1h0.9M185.9 92.8h0.9M183.6 89.0h0.9M178.8 104.3h0.9M192.9 108.7h0.9M188.7 107.3h0.9M189.1 90.2h0.9M197.6 103.7h0.9M185.5 95.1h0.9M194.7 91.7h0.9M193.1 93.1h0.9M189.0 107.7h0.9M193.0 97.1h0.9M189.0 90.5h0.9M183.3 101.8h0.9M185.4 94.2h0.9M180.1 102.5h0.9M191.3 81.2h0.9M193.7 99.5h0.9M181.0 98.9h0.9M176.5 98.0h0.9M191.0 84.1h0.9M183.2 98.7h0.9M194.9 89.7h0.9M187.3 104.7h0.9M185.3 98.4h0.9M187.3 110.6h0.9M198.5 96.7h0.9M191.8 91.2h0.9M183.4 100.9h0.9M179.8 86.0h0.9M183.4 96.0h0.9M187.4 91.0h0.9M184.1 93.8h0.9M196.2 97.8h0.9M180.5 97.3h0.9M194.0 106.5h0.9M193.3 94.2h0.9M185.7 93.3h0.9M176.2 102.5h0.9M183.2 105.0h0.9M176.7 101.3h0.9M183.1 94.7h0.9M193.2 89.8h0.9M191.4 94.1h0.9M190.0 106.1h0.9M177.8 101.3h0.9M182.8 94.6h0.9M196.5 93.1h0.9M188.1 99.6h0.9" stroke="#dc3040" stroke-width="0.9" stroke-opacity="0.42" fill="none"/>
<path d="M189.1 96.9h0.9M182.4 93.9h0.9M178.7 84.6h0.9M192.8 88.3h0.9M177.4 95.2h0.9M187.9 99.6h0.9M196.6 100.3h0.9M191.1 89.7h0.9M186.4 98.2h0.9M191.8 94.1h0.9M181.9 96.1h0.9M192.3 90.3h0.9M192.3 104.1h0.9M183.7 87.3h0.9M185.0 98.7h0.9M185.2 104.7h0.9M180.8 106.2h0.9M183.1 99.0h0.9M189.6 95.4h0.9M182.8 94.3h0.9M178.1 106.2h0.9M188.4 104.0h0.9M197.2 87.5h0.9M178.0 94.5h0.9M179.7 101.3h0.9M195.9 96.2h0.9M186.7 95.8h0.9M180.5 103.3h0.9M190.4 85.3h0.9M197.3 105.1h0.9M187.3 106.1h0.9M203.6 97.8h0.9M176.1 92.7h0.9M187.1 99.2h0.9M178.4 96.3h0.9M179.5 97.9h0.9M183.5 93.6h0.9M187.9 83.7h0.9M195.5 99.6h0.9M178.7 91.8h0.9M189.0 103.2h0.9M203.7 85.4h0.9M186.1 99.8h0.9M195.6 104.4h0.9M187.2 99.4h0.9M194.2 94.7h0.9M176.1 102.1h0.9M199.8 92.8h0.9M199.3 100.9h0.9M184.5 99.7h0.9M182.5 96.7h0.9M192.4 101.9h0.9M178.9 94.2h0.9M196.0 103.1h0.9M189.5 102.4h0.9" stroke="#dc3040" stroke-width="0.9" stroke-opacity="0.42" fill="none"/>
<path d="M187.8 95.2h0.9M190.9 98.9h0.9M195.1 101.1h0.9M174.8 94.6h0.9M187.0 97.3h0.9M192.5 96.2h0.9M198.0 94.5h0.9M189.1 99.0h0.9M179.9 104.3h0.9M204.7 100.0h0.9M190.3 97.0h0.9M195.7 104.6h0.9M199.1 102.4h0.9M174.3 89.5h0.9M184.9 100.6h0.9M187.3 99.1h0.9M187.4 102.4h0.9M176.8 107.4h0.9M180.6 101.5h0.9M199.1 105.2h0.9M190.9 95.3h0.9M197.2 78.7h0.9M190.1 105.4h0.9M187.8 102.4h0.9M187.4 99.7h0.9M175.0 106.2h0.9M191.6 92.5h0.9M179.5 93.4h0.9M185.8 103.7h0.9M188.1 94.7h0.9M184.2 90.8h0.9M178.4 99.2h0.9M188.9 105.8h0.9M187.5 90.4h0.9M183.9 79.8h0.9M188.8 82.8h0.9M178.8 94.1h0.9M186.3 109.7h0.9M199.2 81.8h0.9M193.5 104.6h0.9M188.3 84.0h0.9M187.5 103.3h0.9M177.3 82.7h0.9M193.9 96.7h0.9M174.2 89.1h0.9M190.8 106.1h0.9M182.2 104.1h0.9M201.4 95.3h0.9M176.3 103.8h0.9M193.7 101.6h0.9M193.8 109.7h0.9M187.2 96.1h0.9M189.2 92.5h0.9M195.1 98.6h0.9M183.9 92.7h0.9M181.4 98.2h0.9M176.0 103.6h0.9M190.0 91.1h0.9" stroke="#dc3040" stroke-width="0.9" stroke-opacity="0.42" fill="none"/>
<path d="M183.7 94.0h0.9M188.3 93.0h0.9M188.0 106.2h0.9M176.4 103.5h0.9M179.7 101.7h0.9M184.4 103.7h0.9M186.5 90.6h0.9M186.9 97.1h0.9M187.0 105.1h0.9M189.0 106.7h0.9M196.7 103.1h0.9M191.4 95.1h0.9M184.5 99.4h0.9M182.0 84.1h0.9M179.7 100.1h0.9M184.3 104.4h0.9M180.7 94.8h0.9M182.1 101.0h0.9M191.5 86.0h0.9M175.4 105.9h0.9M189.4 97.2h0.9M193.2 102.8h0.9M186.3 100.0h0.9M187.9 96.5h0.9M185.8 110.7h0.9M183.7 96.9h0.9M188.9 96.6h0.9M186.0 98.7h0.9M190.2 107.7h0.9M183.6 99.3h0.9M175.0 98.4h0.9M177.8 102.5h0.9M183.7 102.9h0.9M201.2 101.6h0.9M194.6 99.4h0.9M185.0 91.4h0.9M189.5 98.0h0.9M185.2 108.2h0.9M175.1 100.7h0.9M178.4 82.7h0.9M175.9 91.5h0.9M188.2 86.4h0.9M174.1 99.6h0.9M188.5 88.3h0.9M183.8 94.2h0.9M192.4 103.8h0.9M179.0 99.2h0.9M187.2 104.7h0.9M178.5 101.3h0.9M190.4 83.5h0.9M191.3 105.9h0.9M188.7 90.6h0.9M183.4 91.0h0.9M188.0 103.4h0.9M198.1 95.9h0.9" stroke="#dc3040" stroke-width="0.9" stroke-opacity="0.42" fill="none"/>
<path d="M244.6 97.9h0.9M239.5 103.4h0.9M247.8 102.7h0.9M243.8 103.9h0.9M233.3 105.6h0.9M244.1 96.7h0.9M241.0 101.9h0.9M240.8 93.7h0.9M254.6 105.1h0.9M251.9 97.0h0.9M247.1 91.8h0.9M235.4 97.5h0.9M239.2 105.5h0.9M240.0 101.5h0.9M235.3 102.1h0.9M242.7 96.1h0.9M244.6 95.4h0.9M243.9 96.9h0.9M238.5 102.5h0.9M236.6 106.0h0.9M231.9 100.4h0.9M243.4 98.7h0.9M245.3 99.6h0.9M241.7 100.7h0.9M239.7 94.7h0.9M246.3 102.5h0.9M240.9 101.3h0.9M234.9 101.4h0.9M242.2 98.9h0.9M252.4 101.7h0.9M241.8 102.9h0.9M245.9 102.1h0.9M244.0 103.4h0.9M237.8 96.4h0.9M240.5 97.6h0.9M235.5 97.4h0.9M246.0 106.0h0.9M252.8 98.7h0.9M242.7 100.6h0.9" stroke="#e2290b" stroke-width="0.9" stroke-opacity="0.5" fill="none"/>
<path d="M235.7 98.6h0.9M250.2 107.7h0.9M246.9 96.7h0.9M239.5 104.9h0.9M246.1 94.6h0.9M250.4 100.3h0.9M244.3 95.9h0.9M249.3 98.1h0.9M241.8 105.1h0.9M253.2 100.6h0.9M246.5 107.1h0.9M234.1 108.6h0.9M243.0 101.4h0.9M243.2 107.1h0.9M251.6 98.0h0.9M245.3 98.5h0.9M248.0 99.1h0.9M249.8 94.7h0.9M249.2 105.5h0.9M245.5 101.0h0.9M231.8 100.5h0.9M244.4 102.7h0.9M245.2 97.7h0.9M240.5 99.5h0.9M247.3 100.4h0.9M232.3 96.1h0.9M240.9 102.1h0.9M250.7 103.0h0.9M239.1 103.4h0.9M252.5 95.7h0.9M237.4 98.8h0.9M244.0 101.6h0.9M253.0 100.0h0.9M242.2 98.0h0.9M240.6 94.2h0.9M242.0 103.1h0.9M242.9 99.5h0.9M238.9 104.7h0.9" stroke="#e2290b" stroke-width="0.9" stroke-opacity="0.5" fill="none"/>
<path d="M239.6 104.8h0.9M242.7 97.9h0.9M235.5 103.8h0.9M239.8 96.1h0.9M240.1 101.1h0.9M241.2 97.5h0.9M240.7 108.8h0.9M239.2 100.2h0.9M232.4 101.1h0.9M239.3 104.4h0.9M236.0 99.5h0.9M242.0 100.0h0.9M246.3 99.9h0.9M236.7 98.1h0.9M247.9 98.6h0.9M257.5 102.7h0.9M234.7 100.9h0.9M255.1 94.4h0.9M250.2 102.0h0.9M242.4 102.3h0.9M249.0 104.5h0.9M235.8 101.2h0.9M246.2 103.0h0.9M235.8 96.2h0.9M243.7 93.4h0.9M236.5 103.2h0.9M237.2 97.5h0.9M243.0 103.8h0.9M250.3 97.9h0.9M240.2 107.5h0.9M250.9 109.4h0.9M247.1 100.2h0.9M239.0 103.1h0.9M240.2 98.6h0.9M247.2 103.4h0.9M242.2 104.3h0.9M241.7 106.4h0.9" stroke="#e2290b" stroke-width="0.9" stroke-opacity="0.5" fill="none"/>
<path d="M253.2 98.9h0.9M240.6 102.9h0.9M252.0 101.7h0.9M239.5 100.1h0.9M249.9 100.6h0.9M237.4 98.4h0.9M250.2 105.3h0.9M240.7 108.5h0.9M246.8 105.1h0.9M240.3 96.4h0.9M238.7 103.5h0.9M245.4 100.6h0.9M241.3 100.9h0.9M249.0 102.8h0.9M238.4 100.5h0.9M235.3 103.8h0.9M245.4 101.2h0.9M240.2 100.1h0.9M250.7 103.2h0.9M246.3 98.7h0.9M246.2 103.8h0.9M242.6 102.1h0.9M243.0 101.3h0.9M251.1 100.1h0.9M243.7 104.3h0.9M238.4 99.1h0.9M246.1 106.2h0.9M249.5 105.5h0.9M250.2 104.2h0.9M243.4 103.4h0.9M243.3 97.1h0.9M252.4 104.5h0.9M241.3 103.1h0.9M239.3 99.5h0.9M241.6 100.1h0.9M239.3 99.5h0.9M238.2 101.5h0.9M247.4 106.4h0.9" stroke="#e2290b" stroke-width="0.9" stroke-opacity="0.5" fill="none"/>
<path d="M237.6 99.6h0.9M236.4 101.4h0.9M241.7 97.6h0.9M242.6 99.2h0.9M246.1 104.4h0.9M245.0 101.1h0.9M247.0 103.4h0.9M247.3 105.4h0.9M250.2 102.1h0.9M235.9 95.6h0.9M234.9 107.3h0.9M246.6 101.8h0.9M243.3 102.0h0.9M234.2 106.9h0.9M240.5 102.0h0.9M250.0 96.3h0.9M241.9 99.8h0.9M235.9 106.0h0.9M236.3 95.6h0.9M247.9 102.0h0.9M250.2 95.5h0.9M236.8 105.4h0.9M233.3 100.3h0.9M242.8 104.9h0.9M241.2 105.8h0.9M243.7 100.1h0.9M239.2 103.7h0.9M240.5 104.1h0.9M246.8 107.1h0.9M234.7 95.8h0.9M244.3 104.6h0.9M243.0 107.1h0.9M236.3 101.6h0.9M242.7 102.2h0.9M250.0 100.2h0.9M243.5 100.7h0.9M245.0 104.3h0.9M242.5 99.0h0.9" stroke="#e2290b" stroke-width="0.9" stroke-opacity="0.5" fill="none"/>
<path d="M244.0 99.5h0.9M241.7 100.0h0.9M237.1 106.4h0.9M240.2 103.1h0.9M246.6 100.9h0.9M227.6 99.4h0.9M243.7 96.6h0.9M246.4 99.2h0.9M242.1 98.8h0.9M246.1 102.9h0.9M233.9 96.1h0.9M242.9 104.6h0.9M241.3 105.4h0.9M245.6 105.3h0.9M236.6 100.2h0.9M239.7 99.8h0.9M243.0 99.0h0.9M237.5 95.5h0.9M243.4 102.8h0.9M242.2 104.8h0.9M241.0 101.2h0.9M249.1 97.7h0.9M231.7 96.9h0.9M253.1 101.8h0.9M241.8 100.9h0.9M245.2 95.9h0.9M245.5 99.8h0.9M246.1 100.2h0.9M246.8 104.3h0.9M245.7 102.4h0.9M232.2 99.2h0.9M234.1 103.7h0.9M242.2 100.5h0.9M236.0 100.6h0.9M245.4 104.9h0.9M242.8 109.7h0.9M237.8 99.0h0.9M243.5 105.0h0.9" stroke="#e2290b" stroke-width="0.9" stroke-opacity="0.5" fill="none"/>
<path d="M223.4 106.0h0.9M220.2 100.0h0.9M192.9 101.4h0.9M241.0 96.4h0.9M220.3 104.3h0.9M229.1 97.4h0.9M225.6 98.3h0.9M228.7 100.5h0.9M235.9 97.4h0.9M242.1 94.9h0.9M231.4 98.1h0.9M233.1 100.7h0.9M236.8 102.7h0.9M224.8 102.4h0.9M226.8 102.5h0.9M227.2 106.0h0.9M234.8 102.4h0.9M257.9 103.1h0.9M239.7 106.3h0.9M211.6 105.8h0.9M222.0 99.9h0.9M211.4 102.7h0.9M220.4 96.4h0.9M206.1 102.5h0.9M210.1 97.9h0.9M226.6 98.0h0.9M231.1 96.5h0.9M224.7 98.3h0.9M216.0 104.5h0.9M232.1 101.0h0.9M222.9 102.0h0.9M216.9 106.4h0.9M222.4 97.9h0.9M222.4 99.1h0.9M223.1 107.1h0.9M239.8 102.0h0.9M231.9 108.5h0.9M231.5 103.3h0.9M224.6 100.2h0.9M233.2 98.2h0.9M213.3 102.6h0.9M233.6 102.7h0.9M229.1 97.4h0.9M222.3 103.0h0.9M233.2 102.4h0.9M220.5 99.3h0.9M221.8 102.2h0.9M229.4 102.0h0.9M228.7 103.2h0.9M241.5 104.5h0.9M221.2 99.0h0.9M227.7 101.5h0.9M232.3 100.8h0.9M221.4 100.4h0.9M224.8 96.9h0.9M234.6 33.6h0.9M243.9 37.0h0.9M235.2 47.5h0.9M233.1 35.1h0.9M238.9 45.1h0.9M237.5 39.0h0.9M245.3 37.0h0.9M250.2 43.7h0.9M244.0 49.2h0.9M234.0 35.2h0.9M232.2 42.0h0.9M239.4 30.7h0.9M240.8 39.6h0.9M245.6 38.1h0.9M245.5 38.5h0.9M249.7 37.9h0.9M242.2 41.8h0.9M232.6 39.9h0.9M234.7 34.1h0.9M239.8 45.6h0.9M239.0 44.0h0.9M239.5 41.1h0.9M246.7 56.6h0.9M240.8 41.6h0.9M241.1 39.2h0.9M236.8 38.8h0.9M241.8 30.0h0.9M233.6 41.9h0.9M236.1 43.3h0.9M235.5 30.0h0.9M239.7 34.3h0.9M245.0 38.9h0.9M241.4 30.2h0.9M241.3 42.8h0.9" stroke="#e2290b" stroke-width="0.9" stroke-opacity="0.45" fill="none"/>
<path d="M239.1 98.1h0.9M210.5 94.0h0.9M219.9 107.9h0.9M231.9 101.7h0.9M211.1 105.7h0.9M229.9 97.5h0.9M203.8 100.1h0.9M241.4 100.4h0.9M224.4 103.7h0.9M221.1 100.6h0.9M206.3 100.9h0.9M245.7 99.3h0.9M223.8 100.8h0.9M224.2 98.5h0.9M240.7 100.4h0.9M253.3 101.5h0.9M241.4 99.6h0.9M227.5 100.0h0.9M222.6 102.7h0.9M202.4 95.8h0.9M215.8 106.4h0.9M216.1 100.2h0.9M212.3 102.9h0.9M209.0 105.4h0.9M234.1 103.3h0.9M236.1 92.8h0.9M233.3 108.0h0.9M223.1 94.8h0.9M217.7 97.3h0.9M226.0 98.3h0.9M222.4 97.4h0.9M208.8 103.7h0.9M235.6 105.2h0.9M215.7 97.7h0.9M228.4 103.1h0.9M228.1 100.3h0.9M237.4 101.1h0.9M249.5 100.0h0.9M215.0 97.7h0.9M233.8 94.4h0.9M228.0 99.4h0.9M239.5 105.9h0.9M231.7 107.2h0.9M245.0 100.9h0.9M233.3 95.0h0.9M247.5 101.3h0.9M232.2 98.3h0.9M223.4 100.7h0.9M212.7 96.5h0.9M209.6 103.0h0.9M224.5 99.6h0.9M207.4 104.9h0.9M230.5 96.5h0.9M220.2 99.3h0.9M229.3 96.4h0.9M241.9 40.7h0.9M242.3 43.1h0.9M241.5 34.8h0.9M243.2 36.3h0.9M240.6 48.6h0.9M249.1 45.4h0.9M240.8 41.3h0.9M245.3 41.0h0.9M244.9 40.7h0.9M247.9 44.3h0.9M239.2 31.1h0.9M241.7 41.9h0.9M237.3 34.0h0.9M238.8 40.7h0.9M238.9 45.3h0.9M239.4 36.3h0.9M250.2 39.8h0.9M243.1 41.1h0.9M240.1 29.5h0.9M238.7 38.7h0.9M244.6 41.2h0.9M237.6 49.1h0.9M237.3 49.4h0.9M234.7 42.3h0.9M242.3 30.2h0.9M241.0 39.1h0.9M235.6 42.6h0.9M244.6 31.8h0.9M241.3 41.3h0.9M229.4 39.6h0.9M240.7 40.3h0.9M236.4 44.8h0.9M241.1 55.9h0.9M242.3 37.5h0.9" stroke="#e2290b" stroke-width="0.9" stroke-opacity="0.45" fill="none"/>
<path d="M226.0 107.0h0.9M248.3 106.9h0.9M244.2 107.1h0.9M231.4 101.6h0.9M214.6 96.4h0.9M252.4 104.1h0.9M238.8 102.2h0.9M219.2 105.0h0.9M242.4 104.8h0.9M219.8 102.1h0.9M246.0 101.5h0.9M213.0 100.2h0.9M215.0 101.6h0.9M245.0 106.4h0.9M220.3 93.5h0.9M212.5 97.2h0.9M211.8 101.9h0.9M216.6 98.3h0.9M235.1 97.1h0.9M223.9 99.7h0.9M242.2 103.4h0.9M258.4 102.9h0.9M222.4 99.9h0.9M237.2 93.7h0.9M215.0 98.1h0.9M231.2 97.2h0.9M218.2 103.8h0.9M229.2 97.8h0.9M239.6 104.2h0.9M214.7 94.8h0.9M244.4 98.9h0.9M220.9 102.1h0.9M226.1 105.2h0.9M244.1 94.2h0.9M232.5 98.5h0.9M223.3 103.1h0.9M227.4 106.3h0.9M217.0 98.6h0.9M220.2 96.7h0.9M239.8 99.1h0.9M206.0 102.1h0.9M223.7 98.6h0.9M221.8 98.9h0.9M224.5 91.3h0.9M225.5 100.3h0.9M237.8 103.7h0.9M238.4 101.2h0.9M214.6 91.6h0.9M227.3 103.1h0.9M218.7 104.2h0.9M220.7 99.3h0.9M244.8 101.4h0.9M242.6 95.8h0.9M224.8 98.5h0.9M246.8 47.6h0.9M237.3 48.8h0.9M238.0 41.7h0.9M243.8 38.0h0.9M243.0 38.0h0.9M251.0 41.9h0.9M236.1 34.6h0.9M242.0 32.6h0.9M241.0 36.2h0.9M242.7 46.9h0.9M233.4 29.4h0.9M238.6 43.0h0.9M241.0 38.6h0.9M233.4 45.9h0.9M243.4 35.6h0.9M242.6 44.1h0.9M239.9 38.0h0.9M231.4 44.1h0.9M240.1 41.2h0.9M237.1 46.3h0.9M250.6 34.5h0.9M250.7 48.7h0.9M243.6 55.9h0.9M236.0 34.8h0.9M237.8 43.4h0.9M240.4 30.7h0.9M241.2 52.0h0.9M238.1 52.0h0.9M231.4 38.7h0.9M237.2 32.9h0.9M232.9 35.7h0.9M240.1 39.7h0.9M243.4 36.5h0.9" stroke="#e2290b" stroke-width="0.9" stroke-opacity="0.45" fill="none"/>
<path d="M223.8 99.5h0.9M222.6 98.4h0.9M207.3 103.6h0.9M244.1 99.4h0.9M205.8 101.6h0.9M220.5 107.6h0.9M218.3 100.9h0.9M229.5 101.1h0.9M218.7 103.4h0.9M223.2 104.2h0.9M234.7 105.4h0.9M248.0 93.2h0.9M224.9 105.2h0.9M227.9 96.0h0.9M214.7 100.0h0.9M230.0 102.3h0.9M237.8 99.9h0.9M232.8 101.7h0.9M234.1 108.3h0.9M208.1 99.2h0.9M225.0 99.7h0.9M225.5 100.1h0.9M227.2 104.3h0.9M222.0 101.5h0.9M230.7 98.8h0.9M237.3 96.7h0.9M237.7 100.4h0.9M242.1 101.0h0.9M230.2 99.3h0.9M219.9 101.0h0.9M221.8 92.2h0.9M217.4 103.1h0.9M233.6 101.9h0.9M226.1 101.6h0.9M224.2 103.1h0.9M223.1 106.2h0.9M221.4 98.6h0.9M231.9 106.5h0.9M236.1 98.9h0.9M230.4 104.1h0.9M203.5 98.3h0.9M225.8 105.3h0.9M217.9 103.8h0.9M244.0 101.6h0.9M252.1 104.2h0.9M232.4 98.5h0.9M218.4 100.0h0.9M219.3 93.3h0.9M211.8 99.9h0.9M229.9 98.5h0.9M229.9 103.6h0.9M206.4 104.5h0.9M213.8 108.0h0.9M218.8 97.0h0.9M231.8 99.8h0.9M244.1 45.8h0.9M245.9 40.8h0.9M237.7 34.4h0.9M236.2 32.0h0.9M237.7 38.9h0.9M240.2 40.1h0.9M241.9 37.1h0.9M239.8 27.2h0.9M243.5 43.8h0.9M238.0 37.5h0.9M240.9 52.8h0.9M238.3 41.0h0.9M238.1 42.7h0.9M237.2 41.9h0.9M239.5 38.1h0.9M238.5 46.9h0.9M239.2 37.6h0.9M246.5 40.2h0.9M245.2 33.6h0.9M232.1 40.0h0.9M247.9 37.9h0.9M235.1 44.5h0.9M238.1 42.7h0.9M236.4 46.0h0.9M242.2 47.3h0.9M244.9 50.7h0.9M238.1 45.3h0.9M235.7 43.8h0.9M245.7 44.1h0.9M239.3 35.8h0.9M248.3 43.5h0.9M247.6 40.4h0.9M239.0 41.0h0.9" stroke="#e2290b" stroke-width="0.9" stroke-opacity="0.45" fill="none"/>
<path d="M227.1 103.5h0.9M205.0 98.3h0.9M223.5 102.0h0.9M247.7 102.0h0.9M249.7 106.6h0.9M242.1 97.2h0.9M221.8 98.6h0.9M230.9 100.3h0.9M209.7 100.4h0.9M229.5 101.6h0.9M216.9 101.1h0.9M228.1 95.4h0.9M203.5 97.4h0.9M219.3 97.1h0.9M238.9 100.8h0.9M205.6 96.9h0.9M237.2 99.0h0.9M204.5 103.1h0.9M251.4 105.2h0.9M225.4 105.3h0.9M230.4 107.7h0.9M214.6 98.1h0.9M227.3 99.5h0.9M242.5 103.3h0.9M242.7 107.1h0.9M196.0 107.1h0.9M241.1 103.9h0.9M246.0 99.8h0.9M231.2 101.4h0.9M229.0 100.8h0.9M230.2 97.1h0.9M237.9 102.8h0.9M237.8 99.9h0.9M233.6 99.4h0.9M242.9 95.7h0.9M223.0 99.4h0.9M227.9 102.4h0.9M235.9 102.2h0.9M245.2 99.3h0.9M232.9 96.1h0.9M217.4 99.6h0.9M224.6 93.4h0.9M221.1 93.7h0.9M213.0 103.9h0.9M228.3 98.1h0.9M230.0 95.8h0.9M212.1 99.9h0.9M187.8 99.2h0.9M222.8 100.0h0.9M224.6 102.5h0.9M226.4 102.8h0.9M226.5 102.4h0.9M221.6 100.8h0.9M229.0 99.3h0.9M234.8 42.6h0.9M238.1 48.1h0.9M245.0 44.4h0.9M238.2 35.2h0.9M249.6 41.8h0.9M239.1 37.3h0.9M246.3 41.1h0.9M242.5 46.4h0.9M245.6 39.0h0.9M241.1 50.9h0.9M239.5 48.8h0.9M233.6 42.3h0.9M236.7 36.0h0.9M248.3 42.9h0.9M232.7 35.0h0.9M239.4 43.4h0.9M237.0 37.1h0.9M244.0 32.6h0.9M236.6 33.1h0.9M232.5 38.0h0.9M241.8 33.7h0.9M238.1 46.1h0.9M234.4 42.9h0.9M244.5 41.3h0.9M237.2 33.1h0.9M232.3 46.4h0.9M234.8 47.2h0.9M236.0 28.3h0.9M243.9 52.1h0.9M241.4 42.4h0.9M234.9 39.1h0.9M238.8 37.2h0.9M239.1 37.7h0.9" stroke="#e2290b" stroke-width="0.9" stroke-opacity="0.45" fill="none"/>
<path d="M229.3 101.7h0.9M199.5 104.9h0.9M204.8 103.8h0.9M240.2 95.8h0.9M225.1 102.6h0.9M231.2 101.2h0.9M230.3 108.6h0.9M227.8 104.5h0.9M227.0 101.0h0.9M225.3 99.7h0.9M244.5 99.3h0.9M202.1 96.8h0.9M234.7 105.1h0.9M215.8 100.3h0.9M228.2 110.1h0.9M223.8 101.8h0.9M226.0 106.5h0.9M246.8 104.1h0.9M219.9 104.0h0.9M232.6 96.9h0.9M239.3 96.3h0.9M224.3 101.8h0.9M234.1 98.7h0.9M231.2 96.0h0.9M253.6 97.7h0.9M222.7 105.4h0.9M228.4 102.4h0.9M221.7 98.4h0.9M233.4 97.1h0.9M232.3 104.0h0.9M223.6 105.6h0.9M213.4 94.9h0.9M207.1 99.7h0.9M248.3 100.3h0.9M237.5 104.8h0.9M207.4 97.5h0.9M230.2 98.7h0.9M228.4 93.8h0.9M219.5 101.1h0.9M238.4 103.2h0.9M208.7 97.4h0.9M224.3 97.8h0.9M237.2 101.4h0.9M219.0 105.7h0.9M230.9 103.0h0.9M231.8 101.5h0.9M238.0 95.5h0.9M239.3 100.8h0.9M242.0 100.5h0.9M217.1 96.8h0.9M218.2 103.7h0.9M231.4 103.6h0.9M229.1 102.6h0.9M224.0 100.8h0.9M233.1 103.9h0.9M226.4 37.6h0.9M240.5 38.8h0.9M241.0 43.9h0.9M240.2 35.6h0.9M236.7 37.6h0.9M235.1 49.1h0.9M243.2 38.3h0.9M245.6 37.2h0.9M239.2 40.7h0.9M238.9 37.3h0.9M245.2 47.2h0.9M244.6 35.3h0.9M241.1 39.0h0.9M236.3 32.2h0.9M238.1 48.3h0.9M241.5 46.2h0.9M234.0 42.7h0.9M238.7 36.0h0.9M238.3 34.3h0.9M236.9 43.8h0.9M248.7 39.0h0.9M238.8 41.9h0.9M241.1 46.6h0.9M242.1 45.2h0.9M233.9 34.9h0.9M239.0 36.9h0.9M245.2 35.0h0.9M236.6 29.8h0.9M246.4 42.6h0.9M237.7 39.5h0.9M241.3 42.7h0.9M244.9 41.3h0.9M244.5 37.6h0.9" stroke="#e2290b" stroke-width="0.9" stroke-opacity="0.45" fill="none"/>
<path d="M236.0 55.7h0.9M233.1 71.8h0.9M239.5 49.1h0.9M241.3 56.7h0.9M233.8 47.4h0.9M240.4 55.4h0.9M231.0 54.4h0.9M241.8 67.2h0.9M236.3 47.1h0.9M238.0 50.3h0.9" stroke="#dc3040" stroke-width="0.9" stroke-opacity="0.35" fill="none"/>
<path d="M231.7 45.3h0.9M238.8 64.4h0.9M231.6 57.7h0.9M237.4 56.5h0.9M235.2 55.9h0.9M237.9 57.0h0.9M234.4 59.1h0.9M244.6 56.1h0.9M232.6 61.2h0.9M238.8 58.9h0.9" stroke="#dc3040" stroke-width="0.9" stroke-opacity="0.35" fill="none"/>
<path d="M233.8 70.3h0.9M244.4 46.7h0.9M229.8 60.5h0.9M237.8 40.9h0.9M240.0 59.6h0.9M234.5 73.3h0.9M233.7 42.0h0.9M241.3 56.4h0.9M243.4 63.8h0.9M241.7 59.0h0.9" stroke="#dc3040" stroke-width="0.9" stroke-opacity="0.35" fill="none"/>
<path d="M232.7 67.6h0.9M230.3 56.4h0.9M233.6 51.3h0.9M240.7 54.7h0.9M236.8 50.9h0.9M241.9 55.5h0.9M232.2 59.8h0.9M235.7 48.5h0.9M242.4 53.3h0.9M238.2 54.7h0.9" stroke="#dc3040" stroke-width="0.9" stroke-opacity="0.35" fill="none"/>
<path d="M246.1 62.8h0.9M231.0 41.3h0.9M241.3 55.8h0.9M237.4 63.3h0.9M234.6 62.5h0.9M249.1 53.8h0.9M232.6 57.6h0.9M242.8 46.4h0.9M235.8 46.5h0.9M239.7 58.2h0.9" stroke="#dc3040" stroke-width="0.9" stroke-opacity="0.35" fill="none"/>
<path d="M231.9 65.6h0.9M238.5 52.1h0.9M237.7 59.7h0.9M239.0 59.6h0.9M240.9 52.1h0.9M234.2 62.8h0.9M241.7 48.7h0.9M235.1 53.8h0.9M236.5 55.0h0.9M231.1 65.0h0.9" stroke="#dc3040" stroke-width="0.9" stroke-opacity="0.35" fill="none"/>
<path d="M194.0 68.5h0.9M232.8 87.5h0.9M235.8 37.5h0.9M213.1 26.6h0.9M223.1 40.0h0.9M182.4 73.8h0.9M203.5 78.6h0.9M194.9 73.9h0.9M188.8 82.1h0.9" stroke="#dc3040" stroke-width="0.9" stroke-opacity="0.3" fill="none"/>
<path d="M212.0 67.5h0.9M221.5 102.2h0.9M220.5 84.8h0.9M257.8 87.2h0.9M188.3 75.9h0.9M193.5 74.4h0.9M200.5 81.4h0.9M191.8 77.2h0.9M192.4 81.8h0.9" stroke="#dc3040" stroke-width="0.9" stroke-opacity="0.3" fill="none"/>
<path d="M213.7 76.7h0.9M232.6 66.0h0.9M264.4 98.2h0.9M186.2 79.2h0.9M175.9 60.0h0.9M180.5 74.2h0.9M190.8 73.4h0.9M199.0 81.2h0.9" stroke="#dc3040" stroke-width="0.9" stroke-opacity="0.3" fill="none"/>
<path d="M189.1 66.4h0.9M255.1 35.3h0.9M248.1 105.1h0.9M194.9 34.0h0.9M203.4 76.9h0.9M178.8 81.6h0.9M191.0 76.0h0.9M188.1 83.8h0.9" stroke="#dc3040" stroke-width="0.9" stroke-opacity="0.3" fill="none"/>
<path d="M237.8 44.4h0.9M238.4 106.8h0.9M187.5 75.2h0.9M265.0 88.2h0.9M190.5 34.1h0.9M203.7 83.9h0.9M174.0 83.3h0.9M185.2 72.4h0.9" stroke="#dc3040" stroke-width="0.9" stroke-opacity="0.3" fill="none"/>
<path d="M194.9 87.1h0.9M229.6 25.3h0.9M187.2 47.8h0.9M241.8 105.7h0.9M254.3 101.2h0.9M181.3 83.7h0.9M197.7 75.6h0.9M196.7 79.6h0.9" stroke="#dc3040" stroke-width="0.9" stroke-opacity="0.3" fill="none"/>
<line x1="206.00" y1="23.50" x2="206.00" y2="112.30" stroke="#bdbdbd" stroke-width="1.05" />
<line x1="172.40" y1="83.20" x2="266.60" y2="83.20" stroke="#c4c4c4" stroke-width="1.2" />
<text x="172.90" y="29.80" font-size="5.9" text-anchor="start" fill="#2a2a3a" font-weight="bold" textLength="6.4" lengthAdjust="spacingAndGlyphs">D1</text>
<text x="206.20" y="29.80" font-size="5.9" text-anchor="start" fill="#2a2a3a" font-weight="bold" textLength="6.4" lengthAdjust="spacingAndGlyphs">D2</text>
<text x="172.90" y="90.00" font-size="5.9" text-anchor="start" fill="#2a2a3a" font-weight="bold" textLength="6.4" lengthAdjust="spacingAndGlyphs">D3</text>
<text x="206.20" y="90.00" font-size="5.9" text-anchor="start" fill="#2a2a3a" font-weight="bold" textLength="6.4" lengthAdjust="spacingAndGlyphs">D4</text>
<rect x="172.40" y="23.50" width="94.20" height="88.80" fill="none" stroke="#1a1a1a" stroke-width="1.5"/>
<path d="M172.40 112.30h-3.0M172.40 112.30v3.0M172.40 105.62h-1.7M179.49 112.30v1.7M172.40 101.71h-1.7M183.64 112.30v1.7M172.40 98.93h-1.7M186.58 112.30v1.7M172.40 96.78h-1.7M188.86 112.30v1.7M172.40 95.03h-1.7M190.73 112.30v1.7M172.40 93.54h-1.7M192.30 112.30v1.7M172.40 92.25h-1.7M193.67 112.30v1.7M172.40 91.12h-1.7M194.87 112.30v1.7M172.40 90.10h-3.0M195.95 112.30v3.0M172.40 83.42h-1.7M203.04 112.30v1.7M172.40 79.51h-1.7M207.19 112.30v1.7M172.40 76.73h-1.7M210.13 112.30v1.7M172.40 74.58h-1.7M212.41 112.30v1.7M172.40 72.83h-1.7M214.28 112.30v1.7M172.40 71.34h-1.7M215.85 112.30v1.7M172.40 70.05h-1.7M217.22 112.30v1.7M172.40 68.92h-1.7M218.42 112.30v1.7M172.40 67.90h-3.0M219.50 112.30v3.0M172.40 61.22h-1.7M226.59 112.30v1.7M172.40 57.31h-1.7M230.74 112.30v1.7M172.40 54.53h-1.7M233.68 112.30v1.7M172.40 52.38h-1.7M235.96 112.30v1.7M172.40 50.63h-1.7M237.83 112.30v1.7M172.40 49.14h-1.7M239.40 112.30v1.7M172.40 47.85h-1.7M240.77 112.30v1.7M172.40 46.72h-1.7M241.97 112.30v1.7M172.40 45.70h-3.0M243.05 112.30v3.0M172.40 39.02h-1.7M250.14 112.30v1.7M172.40 35.11h-1.7M254.29 112.30v1.7M172.40 32.33h-1.7M257.23 112.30v1.7M172.40 30.18h-1.7M259.51 112.30v1.7M172.40 28.43h-1.7M261.38 112.30v1.7M172.40 26.94h-1.7M262.95 112.30v1.7M172.40 25.65h-1.7M264.32 112.30v1.7M172.40 24.52h-1.7M265.52 112.30v1.7M172.40 23.50h-3M266.60 112.30v3" stroke="#1a1a1a" stroke-width="1" fill="none"/>
<text x="166.80" y="94.00" font-size="8.2" text-anchor="end" fill="#222">10<tspan font-size="6.0" dy="-3.8">0</tspan></text>
<text x="166.80" y="71.80" font-size="8.2" text-anchor="end" fill="#222">10<tspan font-size="6.0" dy="-3.8">1</tspan></text>
<text x="166.80" y="49.60" font-size="8.2" text-anchor="end" fill="#222">10<tspan font-size="6.0" dy="-3.8">2</tspan></text>
<text x="166.80" y="27.40" font-size="8.2" text-anchor="end" fill="#222">10<tspan font-size="6.0" dy="-3.8">3</tspan></text>
<text x="195.45" y="127.10" font-size="8.2" text-anchor="middle" fill="#222">10<tspan font-size="6.0" dy="-3.8">0</tspan></text>
<text x="219.00" y="127.10" font-size="8.2" text-anchor="middle" fill="#222">10<tspan font-size="6.0" dy="-3.8">1</tspan></text>
<text x="242.55" y="127.10" font-size="8.2" text-anchor="middle" fill="#222">10<tspan font-size="6.0" dy="-3.8">2</tspan></text>
<text x="266.10" y="127.10" font-size="8.2" text-anchor="middle" fill="#222">10<tspan font-size="6.0" dy="-3.8">3</tspan></text>
<text x="219.50" y="17.50" font-size="10.0" text-anchor="middle" fill="#222" textLength="19.6" lengthAdjust="spacingAndGlyphs">MSC</text>
<path d="M66.2 235.8h0.9M67.3 221.4h0.9M65.6 233.3h0.9M74.9 229.6h0.9M70.1 231.2h0.9M63.5 233.1h0.9M70.0 240.2h0.9M62.0 234.5h0.9M70.4 239.3h0.9M76.6 230.4h0.9M70.4 230.9h0.9M71.9 243.1h0.9M72.8 237.4h0.9M69.9 242.4h0.9M62.8 242.0h0.9M66.7 239.1h0.9M73.4 235.7h0.9M66.3 235.9h0.9M66.0 233.5h0.9M63.0 238.8h0.9M61.2 235.4h0.9M70.3 229.4h0.9M78.7 236.8h0.9M75.8 242.8h0.9M66.9 236.0h0.9M78.4 239.4h0.9M69.3 236.1h0.9M78.0 243.7h0.9M68.8 236.9h0.9M65.0 239.5h0.9M71.1 234.5h0.9M81.7 236.4h0.9M64.4 233.8h0.9M71.1 238.6h0.9M66.9 234.4h0.9M70.3 236.9h0.9M72.1 234.5h0.9M66.5 235.9h0.9M66.7 235.6h0.9M63.2 234.7h0.9M76.4 233.8h0.9M64.8 226.4h0.9M69.2 238.5h0.9M68.0 235.5h0.9M70.2 227.0h0.9M62.9 235.2h0.9M69.5 234.8h0.9M71.2 222.8h0.9M63.7 239.0h0.9M71.0 241.3h0.9M61.8 235.1h0.9M66.8 243.2h0.9M64.0 233.2h0.9M71.4 232.9h0.9M72.5 238.3h0.9M72.0 239.2h0.9M62.1 235.5h0.9M69.4 231.0h0.9M67.5 243.1h0.9M64.2 243.3h0.9M68.5 235.2h0.9M75.1 234.1h0.9M68.4 231.1h0.9M72.3 234.3h0.9M77.7 236.3h0.9M71.5 234.6h0.9M69.7 237.3h0.9M74.4 237.3h0.9M66.8 240.5h0.9M66.7 236.3h0.9M71.6 226.7h0.9M68.9 230.3h0.9M65.1 239.9h0.9M77.4 228.6h0.9M75.2 241.6h0.9M74.6 232.6h0.9M67.3 226.4h0.9M74.6 231.4h0.9M73.5 234.4h0.9M70.9 233.1h0.9M63.2 242.0h0.9M69.8 236.5h0.9M67.7 235.3h0.9M72.0 235.9h0.9M66.0 236.8h0.9M73.0 236.8h0.9M65.2 233.0h0.9M68.0 234.6h0.9M65.5 231.0h0.9M71.5 238.9h0.9M65.9 238.2h0.9M72.9 239.5h0.9M71.5 232.0h0.9M67.6 236.5h0.9M69.1 239.0h0.9M74.8 229.1h0.9M62.3 242.3h0.9M69.7 238.1h0.9M65.5 234.0h0.9M60.2 232.0h0.9M71.7 238.6h0.9M69.0 232.1h0.9M68.7 237.8h0.9M75.1 237.6h0.9M71.7 226.9h0.9M69.1 233.9h0.9M72.9 231.5h0.9M68.7 240.3h0.9M69.0 235.2h0.9M70.9 229.5h0.9M74.7 239.4h0.9M76.8 230.4h0.9M73.0 231.9h0.9M62.4 240.2h0.9M65.1 234.7h0.9M65.3 235.9h0.9M69.5 236.4h0.9M75.0 232.1h0.9M67.0 234.3h0.9M70.5 235.4h0.9M77.6 240.3h0.9M71.3 229.4h0.9M72.9 232.2h0.9M72.6 235.7h0.9M66.4 239.4h0.9M70.0 235.0h0.9M73.9 235.9h0.9M71.6 236.1h0.9M66.9 236.5h0.9M71.6 238.7h0.9M64.5 237.4h0.9M72.8 230.7h0.9M66.5 238.0h0.9M78.1 232.6h0.9M65.7 226.5h0.9M68.9 246.4h0.9M75.0 236.4h0.9M68.1 246.1h0.9M64.5 232.7h0.9M76.4 234.1h0.9M69.4 235.1h0.9M62.4 245.2h0.9M72.6 241.5h0.9M72.9 237.4h0.9M67.6 240.5h0.9M64.6 234.4h0.9M66.3 234.3h0.9M70.1 235.5h0.9M74.1 243.8h0.9M68.9 238.8h0.9M74.0 228.8h0.9M72.6 231.1h0.9M70.7 234.0h0.9M71.4 239.7h0.9M68.9 233.1h0.9M73.8 234.0h0.9M67.3 232.5h0.9M69.2 235.6h0.9M69.7 239.6h0.9M78.0 235.2h0.9M72.1 235.6h0.9M69.5 230.2h0.9M64.3 229.5h0.9M65.4 241.3h0.9M69.8 243.9h0.9M70.3 232.5h0.9M66.1 238.9h0.9M77.6 235.9h0.9M62.3 237.8h0.9M62.6 236.4h0.9M73.7 230.0h0.9M65.9 238.3h0.9M64.6 230.9h0.9M70.7 235.7h0.9M60.1 233.8h0.9M62.3 230.9h0.9M71.5 239.7h0.9M67.3 228.4h0.9M67.1 231.5h0.9M66.1 241.4h0.9M65.3 227.2h0.9M67.3 237.8h0.9M71.2 234.8h0.9M69.8 232.5h0.9M71.9 243.2h0.9M67.0 238.8h0.9M70.2 232.7h0.9M64.0 241.4h0.9M63.6 233.7h0.9M68.2 232.4h0.9M68.3 239.4h0.9M69.4 232.1h0.9M69.6 230.7h0.9M64.8 237.9h0.9M71.7 235.2h0.9M68.4 239.9h0.9M65.3 236.5h0.9M69.6 224.0h0.9M69.1 235.4h0.9M70.3 232.7h0.9M76.6 237.3h0.9M72.1 233.5h0.9M71.8 237.4h0.9M62.4 235.4h0.9M69.8 230.4h0.9M66.6 240.3h0.9M74.8 238.0h0.9M68.5 236.1h0.9M69.9 234.9h0.9M68.4 238.0h0.9M71.4 234.8h0.9M78.3 228.2h0.9M69.1 237.7h0.9M66.1 240.2h0.9M71.1 234.1h0.9M71.4 231.9h0.9M63.9 233.4h0.9M69.4 236.4h0.9M71.1 234.0h0.9M72.6 233.7h0.9M67.6 236.5h0.9M66.5 226.7h0.9M66.3 233.1h0.9M65.6 238.9h0.9M68.9 240.8h0.9M68.9 237.8h0.9M68.0 237.3h0.9M68.6 239.5h0.9M72.4 230.3h0.9M74.0 242.1h0.9M71.6 225.9h0.9M73.6 233.3h0.9M75.2 239.0h0.9M67.4 229.7h0.9M67.8 238.5h0.9M81.5 235.8h0.9M76.4 231.8h0.9M63.7 237.9h0.9M63.8 233.7h0.9M69.8 236.5h0.9M65.6 242.4h0.9M68.1 230.1h0.9M71.9 241.0h0.9" stroke="#e2290b" stroke-width="0.9" stroke-opacity="0.55" fill="none"/>
<path d="M68.2 233.8h0.9M76.5 237.8h0.9M75.0 234.8h0.9M67.7 235.4h0.9M72.5 233.1h0.9M65.4 234.5h0.9M72.2 237.4h0.9M67.4 241.8h0.9M71.3 237.5h0.9M65.4 227.6h0.9M62.3 234.9h0.9M74.2 235.0h0.9M77.5 230.7h0.9M69.0 232.8h0.9M69.6 233.4h0.9M72.7 232.4h0.9M65.9 241.0h0.9M71.0 234.8h0.9M71.5 231.2h0.9M70.4 232.4h0.9M70.2 231.1h0.9M69.1 240.8h0.9M75.5 238.2h0.9M74.6 237.6h0.9M70.3 235.5h0.9M68.2 228.1h0.9M67.9 237.4h0.9M63.6 228.8h0.9M75.0 233.3h0.9M66.0 240.3h0.9M69.0 233.6h0.9M63.5 240.6h0.9M68.3 226.6h0.9M71.3 238.2h0.9M73.0 235.4h0.9M69.9 239.5h0.9M64.8 237.3h0.9M66.8 232.1h0.9M69.5 243.7h0.9M63.2 236.3h0.9M69.0 237.8h0.9M70.0 235.2h0.9M76.4 232.1h0.9M73.8 238.8h0.9M74.7 239.0h0.9M70.9 240.5h0.9M77.8 238.2h0.9M66.5 234.9h0.9M66.0 244.3h0.9M71.2 235.8h0.9M70.3 242.1h0.9M63.6 235.9h0.9M69.1 235.1h0.9M70.8 240.0h0.9M68.4 231.4h0.9M62.9 229.7h0.9M68.5 231.6h0.9M65.5 235.2h0.9M70.1 240.9h0.9M65.6 241.7h0.9M76.9 234.2h0.9M70.8 239.0h0.9M74.0 243.3h0.9M69.6 240.3h0.9M66.1 234.9h0.9M71.9 244.9h0.9M73.1 227.1h0.9M69.8 238.5h0.9M73.6 233.6h0.9M70.4 233.3h0.9M69.4 236.4h0.9M78.7 231.0h0.9M68.0 230.3h0.9M63.9 235.1h0.9M70.5 238.3h0.9M65.8 231.6h0.9M65.0 237.8h0.9M68.5 240.2h0.9M73.2 228.7h0.9M71.2 241.2h0.9M73.3 233.3h0.9M69.2 231.1h0.9M63.8 234.5h0.9M73.3 235.8h0.9M71.1 241.0h0.9M62.8 232.5h0.9M77.6 240.5h0.9M66.6 236.1h0.9M62.0 234.2h0.9M71.5 231.1h0.9M74.6 239.6h0.9M68.7 231.7h0.9M61.0 231.0h0.9M69.0 238.8h0.9M78.6 238.0h0.9M68.7 237.2h0.9M74.3 236.5h0.9M74.1 235.2h0.9M66.2 243.1h0.9M64.2 237.1h0.9M67.8 231.9h0.9M67.4 236.0h0.9M68.2 238.4h0.9M64.0 237.4h0.9M73.1 237.1h0.9M70.2 241.8h0.9M72.7 230.2h0.9M72.5 244.9h0.9M66.3 238.8h0.9M77.1 235.4h0.9M63.5 237.4h0.9M67.8 238.0h0.9M63.8 236.1h0.9M70.3 236.7h0.9M70.2 238.8h0.9M68.3 232.1h0.9M73.9 239.1h0.9M61.6 230.8h0.9M65.8 232.9h0.9M67.6 229.5h0.9M67.4 228.9h0.9M68.8 230.1h0.9M68.8 226.2h0.9M66.1 237.9h0.9M69.8 230.5h0.9M73.8 244.9h0.9M60.3 232.3h0.9M73.0 235.6h0.9M67.3 232.9h0.9M74.1 240.0h0.9M71.0 239.1h0.9M72.4 235.9h0.9M68.0 233.3h0.9M69.5 233.9h0.9M75.2 231.7h0.9M68.9 238.8h0.9M64.6 237.3h0.9M71.2 234.1h0.9M65.7 236.6h0.9M72.5 232.3h0.9M71.8 232.5h0.9M66.4 242.1h0.9M68.2 235.8h0.9M66.9 229.6h0.9M71.1 238.3h0.9M72.7 232.1h0.9M73.6 235.1h0.9M75.4 239.2h0.9M66.0 231.5h0.9M70.7 231.9h0.9M65.9 231.7h0.9M71.7 230.8h0.9M68.4 232.5h0.9M72.5 241.6h0.9M73.2 235.6h0.9M80.2 237.7h0.9M70.4 239.5h0.9M70.1 237.8h0.9M73.8 227.7h0.9M69.2 239.6h0.9M66.4 232.6h0.9M71.1 238.3h0.9M72.6 225.6h0.9M75.8 234.1h0.9M71.8 236.7h0.9M70.0 244.5h0.9M65.1 242.4h0.9M73.3 235.4h0.9M63.9 237.1h0.9M66.1 236.6h0.9M65.9 237.8h0.9M65.9 236.7h0.9M73.6 236.1h0.9M68.2 242.9h0.9M74.2 242.4h0.9M66.0 240.7h0.9M61.9 236.9h0.9M70.2 235.6h0.9M65.8 227.9h0.9M73.8 237.3h0.9M72.9 232.8h0.9M74.6 233.8h0.9M66.0 227.8h0.9M59.9 234.5h0.9M77.6 232.0h0.9M71.8 229.9h0.9M72.5 228.6h0.9M63.7 228.8h0.9M67.1 240.2h0.9M72.9 242.2h0.9M75.3 227.9h0.9M63.1 234.9h0.9M72.2 226.5h0.9M67.5 246.2h0.9M68.3 231.7h0.9M71.7 229.4h0.9M74.7 235.4h0.9M70.6 233.9h0.9M65.6 241.2h0.9M69.3 237.9h0.9M73.7 234.2h0.9M66.9 236.2h0.9M71.2 236.6h0.9M81.0 225.3h0.9M64.8 235.7h0.9M73.6 232.7h0.9M70.7 238.9h0.9M67.1 233.2h0.9M70.1 240.6h0.9M66.5 234.7h0.9M70.0 235.5h0.9M68.8 231.6h0.9M70.9 230.9h0.9M71.8 232.8h0.9M63.1 235.0h0.9M71.5 236.6h0.9M68.5 231.7h0.9M66.7 231.5h0.9M68.8 232.2h0.9M63.2 230.6h0.9M64.7 235.8h0.9M71.5 239.6h0.9M69.8 230.4h0.9M75.3 234.3h0.9M78.0 236.5h0.9M75.4 229.2h0.9M70.7 236.7h0.9M62.9 238.3h0.9M64.3 231.7h0.9M70.8 238.8h0.9M62.8 230.8h0.9M62.9 236.1h0.9M72.6 238.8h0.9M65.8 233.5h0.9M69.9 231.2h0.9M70.2 241.4h0.9M72.3 231.3h0.9M69.2 235.7h0.9M68.1 236.7h0.9M67.5 232.1h0.9M66.8 239.9h0.9M67.0 236.0h0.9M70.2 230.1h0.9M67.6 238.3h0.9" stroke="#e2290b" stroke-width="0.9" stroke-opacity="0.55" fill="none"/>
<path d="M76.1 231.8h0.9M69.8 239.8h0.9M72.6 237.4h0.9M78.8 229.0h0.9M67.9 225.8h0.9M69.8 241.1h0.9M72.2 231.1h0.9M65.4 243.2h0.9M67.9 235.2h0.9M62.7 235.8h0.9M70.4 230.9h0.9M66.0 236.0h0.9M72.4 232.3h0.9M73.0 236.6h0.9M67.7 240.6h0.9M72.9 234.6h0.9M65.6 239.0h0.9M63.7 234.8h0.9M72.9 238.1h0.9M73.9 235.1h0.9M73.7 229.4h0.9M72.7 239.9h0.9M71.6 243.2h0.9M69.1 234.4h0.9M67.5 235.7h0.9M76.9 235.2h0.9M72.3 239.2h0.9M67.1 231.5h0.9M76.8 229.9h0.9M63.0 230.6h0.9M68.0 232.6h0.9M65.7 231.6h0.9M67.7 238.4h0.9M75.1 235.6h0.9M71.5 236.2h0.9M75.0 233.7h0.9M68.3 238.3h0.9M74.7 236.1h0.9M68.8 238.1h0.9M69.5 233.1h0.9M77.9 225.9h0.9M73.0 233.4h0.9M65.5 240.5h0.9M71.8 224.3h0.9M68.8 231.3h0.9M62.3 235.9h0.9M68.9 234.8h0.9M65.8 230.5h0.9M73.7 237.2h0.9M65.3 236.7h0.9M76.1 237.3h0.9M69.8 237.2h0.9M63.1 233.4h0.9M75.3 235.6h0.9M67.5 236.1h0.9M71.5 235.2h0.9M66.2 232.9h0.9M62.1 227.5h0.9M64.9 233.2h0.9M72.3 232.4h0.9M66.9 230.1h0.9M73.5 240.7h0.9M70.7 235.4h0.9M68.1 234.7h0.9M74.0 233.6h0.9M77.2 227.5h0.9M65.3 238.2h0.9M70.3 239.6h0.9M70.0 236.6h0.9M64.2 237.5h0.9M70.3 245.7h0.9M63.1 239.8h0.9M65.6 234.4h0.9M66.6 230.5h0.9M70.6 240.4h0.9M60.9 236.5h0.9M73.7 230.6h0.9M65.9 237.6h0.9M60.8 234.1h0.9M68.0 232.8h0.9M67.3 234.6h0.9M71.4 237.7h0.9M68.5 234.0h0.9M63.9 233.8h0.9M72.4 235.5h0.9M64.2 239.1h0.9M64.4 233.0h0.9M70.3 229.5h0.9M61.8 235.4h0.9M77.8 239.3h0.9M65.8 236.4h0.9M72.4 239.3h0.9M63.5 239.2h0.9M69.3 237.0h0.9M79.3 235.2h0.9M69.9 235.9h0.9M65.6 234.8h0.9M70.7 235.4h0.9M72.6 235.9h0.9M66.6 243.0h0.9M63.1 234.4h0.9M74.0 237.5h0.9M63.9 232.2h0.9M64.5 232.8h0.9M63.1 232.2h0.9M73.7 232.2h0.9M75.2 223.2h0.9M64.3 235.3h0.9M71.4 237.2h0.9M70.7 242.8h0.9M68.0 234.3h0.9M75.2 234.5h0.9M75.4 236.0h0.9M60.8 234.4h0.9M65.8 233.2h0.9M67.6 240.1h0.9M69.4 240.0h0.9M71.7 238.4h0.9M71.0 232.3h0.9M70.3 229.5h0.9M69.6 233.4h0.9M69.0 227.7h0.9M75.3 238.6h0.9M71.7 234.6h0.9M66.7 237.2h0.9M70.9 231.5h0.9M76.5 237.8h0.9M63.1 233.6h0.9M65.5 232.8h0.9M71.6 237.5h0.9M66.7 234.2h0.9M72.3 234.0h0.9M69.1 236.1h0.9M69.5 235.5h0.9M79.8 237.5h0.9M71.9 227.2h0.9M70.3 235.7h0.9M71.8 236.1h0.9M68.0 239.5h0.9M73.5 232.6h0.9M68.5 238.4h0.9M75.4 229.9h0.9M70.1 229.1h0.9M69.2 231.5h0.9M74.2 233.6h0.9M73.5 234.4h0.9M72.0 232.7h0.9M65.8 240.0h0.9M73.4 235.2h0.9M71.8 230.8h0.9M77.2 237.4h0.9M68.8 235.0h0.9M67.4 229.0h0.9M68.0 235.6h0.9M66.9 233.9h0.9M72.9 243.0h0.9M65.4 233.0h0.9M70.9 233.3h0.9M69.3 233.3h0.9M70.9 242.3h0.9M68.5 239.6h0.9M72.7 236.0h0.9M76.6 228.4h0.9M66.4 233.8h0.9M70.5 237.4h0.9M71.3 228.5h0.9M71.2 240.2h0.9M78.5 236.2h0.9M68.0 238.4h0.9M67.7 231.2h0.9M68.0 232.8h0.9M68.4 235.1h0.9M69.1 235.1h0.9M77.1 231.1h0.9M63.8 240.3h0.9M80.9 242.2h0.9M71.2 232.0h0.9M69.8 236.8h0.9M72.9 234.2h0.9M69.8 242.8h0.9M71.9 236.1h0.9M72.4 236.3h0.9M71.9 226.9h0.9M61.2 237.3h0.9M67.7 243.9h0.9M74.9 228.3h0.9M71.5 236.0h0.9M61.3 235.6h0.9M71.8 235.4h0.9M68.5 232.1h0.9M72.1 238.0h0.9M66.9 228.5h0.9M69.5 233.9h0.9M64.9 233.1h0.9M68.4 235.7h0.9M73.8 229.6h0.9M66.0 236.7h0.9M69.1 238.8h0.9M70.9 226.7h0.9M64.5 238.4h0.9M69.8 240.0h0.9M65.6 243.7h0.9M72.0 234.5h0.9M68.1 236.6h0.9M72.9 230.2h0.9M67.4 238.6h0.9M67.3 232.5h0.9M64.3 237.5h0.9M65.8 234.0h0.9M72.4 230.4h0.9M68.4 232.5h0.9M66.7 234.8h0.9M67.5 227.9h0.9M67.3 231.9h0.9M70.1 229.1h0.9M70.6 236.7h0.9M64.2 237.7h0.9M67.5 238.7h0.9M64.6 231.9h0.9M72.7 233.2h0.9M70.0 236.8h0.9M70.5 228.7h0.9M64.4 238.9h0.9M69.8 232.9h0.9M66.7 233.7h0.9M65.3 238.6h0.9M64.0 239.3h0.9M71.0 241.9h0.9M66.6 234.7h0.9M65.9 239.0h0.9M69.6 238.7h0.9M66.3 243.6h0.9M68.9 244.1h0.9M69.1 239.1h0.9M67.1 231.1h0.9M75.2 232.8h0.9M72.4 236.6h0.9M63.1 238.0h0.9M70.8 237.7h0.9M69.2 232.7h0.9M72.5 234.3h0.9M63.8 232.1h0.9M70.0 236.0h0.9M72.3 230.7h0.9M69.4 229.9h0.9M67.2 234.2h0.9M73.4 244.1h0.9M64.8 234.4h0.9" stroke="#e2290b" stroke-width="0.9" stroke-opacity="0.55" fill="none"/>
<path d="M67.9 234.0h0.9M67.9 240.5h0.9M70.8 230.6h0.9M69.2 236.0h0.9M74.5 233.5h0.9M66.0 242.5h0.9M73.3 231.2h0.9M61.0 229.9h0.9M80.1 237.9h0.9M64.5 241.3h0.9M78.6 231.0h0.9M64.7 244.7h0.9M63.5 240.1h0.9M69.4 236.2h0.9M61.8 233.5h0.9M69.3 230.3h0.9M60.3 229.7h0.9M63.0 238.8h0.9M73.8 221.0h0.9M68.9 237.3h0.9M66.5 232.5h0.9M71.3 232.8h0.9M67.4 243.7h0.9M77.6 234.4h0.9M73.2 239.5h0.9M60.5 241.2h0.9M67.5 236.9h0.9M62.3 241.6h0.9M72.0 232.9h0.9M69.9 244.0h0.9M66.4 234.4h0.9M74.8 228.9h0.9M70.0 235.0h0.9M66.3 238.3h0.9M74.0 231.7h0.9M67.0 233.2h0.9M69.9 231.5h0.9M71.4 235.1h0.9M69.5 240.3h0.9M68.4 234.9h0.9M71.8 239.2h0.9M69.3 230.9h0.9M72.4 228.0h0.9M67.0 237.3h0.9M62.1 238.0h0.9M72.1 235.3h0.9M65.1 237.0h0.9M69.3 238.4h0.9M67.8 230.3h0.9M69.5 233.8h0.9M75.0 238.3h0.9M70.5 236.5h0.9M68.6 232.8h0.9M65.8 233.4h0.9M63.5 234.2h0.9M61.9 233.2h0.9M74.0 241.7h0.9M64.6 231.3h0.9M65.5 242.7h0.9M73.0 236.7h0.9M69.0 237.4h0.9M66.9 235.4h0.9M61.6 238.9h0.9M65.3 242.8h0.9M63.7 237.1h0.9M72.1 237.5h0.9M63.9 237.3h0.9M69.5 230.4h0.9M62.9 236.7h0.9M68.1 238.5h0.9M64.0 233.5h0.9M66.2 238.8h0.9M69.6 236.2h0.9M70.5 233.3h0.9M78.5 228.4h0.9M75.2 235.2h0.9M66.6 235.4h0.9M69.8 240.6h0.9M67.7 233.6h0.9M71.8 239.7h0.9M69.2 230.3h0.9M77.9 233.9h0.9M64.2 234.0h0.9M67.8 235.5h0.9M67.1 229.0h0.9M74.9 233.9h0.9M67.4 224.6h0.9M70.3 229.6h0.9M75.6 232.0h0.9M70.6 234.4h0.9M68.6 237.0h0.9M68.5 229.0h0.9M70.9 236.9h0.9M76.7 232.7h0.9M74.9 239.0h0.9M73.9 240.1h0.9M66.0 234.2h0.9M73.3 238.7h0.9M70.6 226.2h0.9M63.6 230.0h0.9M70.0 234.3h0.9M75.0 232.4h0.9M70.4 231.8h0.9M66.7 240.0h0.9M69.6 237.8h0.9M68.5 228.0h0.9M63.5 237.3h0.9M78.0 232.0h0.9M68.0 236.8h0.9M67.0 234.3h0.9M67.9 233.7h0.9M68.3 235.8h0.9M66.4 240.7h0.9M64.8 239.6h0.9M68.1 234.3h0.9M72.8 231.1h0.9M70.9 240.7h0.9M81.9 233.2h0.9M73.5 240.5h0.9M69.3 241.5h0.9M61.3 235.0h0.9M67.0 243.5h0.9M66.5 239.4h0.9M75.5 235.4h0.9M70.6 234.4h0.9M74.3 239.3h0.9M69.8 237.4h0.9M65.1 233.5h0.9M62.7 233.7h0.9M60.3 235.5h0.9M71.2 236.8h0.9M72.9 235.3h0.9M68.1 235.0h0.9M72.2 231.5h0.9M68.1 242.1h0.9M68.2 234.7h0.9M68.4 237.1h0.9M73.0 223.5h0.9M69.8 235.8h0.9M70.7 241.8h0.9M68.2 230.5h0.9M65.8 237.2h0.9M66.4 235.7h0.9M72.0 229.3h0.9M70.4 235.3h0.9M70.0 232.5h0.9M64.3 229.6h0.9M64.0 239.4h0.9M66.9 228.4h0.9M66.4 236.0h0.9M75.2 233.6h0.9M73.0 232.2h0.9M74.0 237.1h0.9M65.1 232.4h0.9M69.1 243.4h0.9M66.0 243.1h0.9M77.1 235.4h0.9M68.9 244.1h0.9M63.3 237.6h0.9M73.9 240.2h0.9M74.8 230.7h0.9M73.0 230.0h0.9M62.0 230.3h0.9M69.8 236.3h0.9M69.5 229.9h0.9M62.4 233.7h0.9M75.4 230.3h0.9M65.2 242.2h0.9M75.8 240.1h0.9M64.4 237.4h0.9M73.4 234.0h0.9M63.6 235.0h0.9M72.5 243.7h0.9M65.9 239.4h0.9M67.3 239.2h0.9M65.6 238.5h0.9M65.0 234.4h0.9M67.9 231.9h0.9M66.5 238.1h0.9M60.8 232.8h0.9M74.3 240.9h0.9M68.6 225.4h0.9M70.1 235.0h0.9M60.8 235.5h0.9M68.2 240.3h0.9M63.5 237.4h0.9M65.2 241.9h0.9M71.5 237.2h0.9M71.6 232.2h0.9M68.0 235.3h0.9M71.1 230.8h0.9M68.8 239.8h0.9M67.9 231.7h0.9M71.1 235.3h0.9M67.2 235.5h0.9M70.5 238.6h0.9M71.8 239.6h0.9M69.1 237.7h0.9M70.3 236.4h0.9M63.0 230.9h0.9M61.7 221.7h0.9M68.5 230.8h0.9M63.0 231.6h0.9M71.6 236.6h0.9M65.3 236.3h0.9M72.1 234.6h0.9M68.5 232.5h0.9M70.1 237.5h0.9M73.4 241.0h0.9M68.6 233.8h0.9M69.4 243.0h0.9M74.1 231.7h0.9M69.2 230.8h0.9M78.5 235.0h0.9M67.6 239.2h0.9M71.4 233.5h0.9M66.9 239.4h0.9M65.9 237.2h0.9M69.1 236.0h0.9M69.3 229.7h0.9M67.6 235.5h0.9M69.1 242.3h0.9M72.5 236.2h0.9M69.2 234.5h0.9M71.3 227.1h0.9M71.0 234.4h0.9M66.8 235.4h0.9M69.1 241.0h0.9M73.3 234.4h0.9M62.5 237.0h0.9M66.5 235.1h0.9M68.9 232.6h0.9M62.5 231.4h0.9M64.1 232.2h0.9M69.3 235.7h0.9M64.2 231.1h0.9M74.1 237.0h0.9M64.8 237.6h0.9M73.2 234.7h0.9M67.6 237.7h0.9M66.2 237.1h0.9M69.6 236.9h0.9M67.0 235.1h0.9M67.7 242.9h0.9M67.9 234.7h0.9M70.5 235.6h0.9M70.0 231.9h0.9M69.4 244.1h0.9" stroke="#e2290b" stroke-width="0.9" stroke-opacity="0.55" fill="none"/>
<path d="M62.2 237.2h0.9M72.4 236.8h0.9M64.5 235.3h0.9M66.5 235.7h0.9M66.9 233.2h0.9M69.8 237.7h0.9M76.1 232.7h0.9M69.0 232.6h0.9M66.1 233.1h0.9M65.8 229.0h0.9M64.5 232.5h0.9M62.4 230.6h0.9M74.1 233.9h0.9M72.8 234.2h0.9M72.4 233.2h0.9M60.8 235.4h0.9M67.7 233.4h0.9M72.2 225.8h0.9M61.5 241.5h0.9M71.1 235.1h0.9M68.2 240.0h0.9M67.2 226.3h0.9M76.5 230.4h0.9M67.6 239.9h0.9M73.7 227.9h0.9M64.1 234.5h0.9M66.9 239.8h0.9M68.5 246.8h0.9M78.6 229.2h0.9M67.9 231.8h0.9M66.0 233.4h0.9M69.9 236.0h0.9M71.0 233.4h0.9M72.9 239.1h0.9M74.6 231.8h0.9M66.8 229.3h0.9M63.9 240.6h0.9M79.0 229.4h0.9M70.2 236.4h0.9M62.9 236.7h0.9M65.1 239.3h0.9M70.8 234.8h0.9M64.9 231.6h0.9M71.3 240.7h0.9M69.9 234.0h0.9M71.5 242.9h0.9M71.7 235.5h0.9M69.2 244.6h0.9M67.3 232.9h0.9M71.6 234.4h0.9M70.4 235.5h0.9M70.5 232.6h0.9M68.3 235.2h0.9M73.3 233.8h0.9M72.1 239.6h0.9M60.0 234.2h0.9M65.4 238.3h0.9M72.0 233.5h0.9M68.6 228.5h0.9M72.8 234.3h0.9M80.1 238.0h0.9M71.9 232.9h0.9M74.5 228.8h0.9M72.5 231.3h0.9M65.6 233.4h0.9M70.0 234.3h0.9M70.4 233.8h0.9M71.8 234.4h0.9M67.2 231.5h0.9M65.6 242.2h0.9M69.9 242.8h0.9M65.9 234.3h0.9M69.4 234.4h0.9M71.4 232.0h0.9M68.2 234.3h0.9M69.3 232.9h0.9M62.7 241.5h0.9M66.1 234.8h0.9M68.8 240.2h0.9M64.1 219.9h0.9M72.3 236.4h0.9M67.2 234.7h0.9M75.3 233.0h0.9M69.0 231.7h0.9M72.0 237.9h0.9M65.0 239.3h0.9M75.2 231.0h0.9M66.3 232.5h0.9M61.7 239.2h0.9M73.6 230.4h0.9M69.4 236.9h0.9M67.6 239.0h0.9M67.4 242.4h0.9M66.1 236.8h0.9M67.5 238.8h0.9M66.2 229.1h0.9M76.3 236.7h0.9M73.7 234.2h0.9M70.4 237.6h0.9M68.7 240.4h0.9M74.0 239.3h0.9M72.4 238.6h0.9M68.8 233.7h0.9M65.3 231.4h0.9M71.9 229.8h0.9M65.6 226.8h0.9M75.3 234.7h0.9M66.1 234.6h0.9M75.3 244.3h0.9M74.0 241.0h0.9M68.0 236.2h0.9M70.0 233.4h0.9M66.7 227.0h0.9M65.0 242.0h0.9M69.2 231.9h0.9M70.5 237.0h0.9M72.2 239.3h0.9M74.0 231.1h0.9M68.3 236.5h0.9M68.8 235.0h0.9M71.2 238.9h0.9M67.0 236.9h0.9M64.9 242.3h0.9M68.7 243.1h0.9M66.2 231.7h0.9M70.3 230.2h0.9M65.5 235.7h0.9M68.9 230.6h0.9M70.4 232.3h0.9M64.6 236.8h0.9M73.5 236.2h0.9M65.3 230.5h0.9M69.1 228.2h0.9M62.0 231.4h0.9M73.8 239.0h0.9M77.0 238.0h0.9M71.7 234.4h0.9M67.2 236.4h0.9M76.4 234.0h0.9M68.8 234.3h0.9M73.4 240.8h0.9M63.7 236.7h0.9M72.2 231.8h0.9M72.3 234.2h0.9M77.7 233.5h0.9M71.0 232.7h0.9M71.6 237.1h0.9M65.6 229.2h0.9M73.3 231.7h0.9M69.6 226.8h0.9M72.1 238.3h0.9M63.3 237.0h0.9M70.6 234.6h0.9M70.5 239.7h0.9M74.9 229.0h0.9M70.4 229.2h0.9M71.4 241.7h0.9M68.8 227.6h0.9M67.6 234.9h0.9M74.5 240.9h0.9M71.6 236.3h0.9M76.2 236.6h0.9M67.7 238.2h0.9M69.3 230.8h0.9M63.7 229.4h0.9M76.4 234.8h0.9M65.3 234.9h0.9M72.4 235.3h0.9M72.8 232.4h0.9M69.9 230.2h0.9M67.8 235.4h0.9M69.3 235.2h0.9M71.4 236.5h0.9M70.1 235.8h0.9M64.4 234.8h0.9M66.8 236.2h0.9M72.2 233.4h0.9M65.8 236.9h0.9M69.1 235.3h0.9M71.2 228.8h0.9M63.3 231.9h0.9M71.3 236.7h0.9M68.4 235.6h0.9M68.0 242.8h0.9M66.9 226.3h0.9M75.5 237.5h0.9M67.1 232.4h0.9M66.3 231.5h0.9M64.4 222.6h0.9M61.2 237.0h0.9M61.5 242.5h0.9M69.5 234.4h0.9M74.0 230.0h0.9M67.9 236.5h0.9M75.6 232.2h0.9M68.8 236.2h0.9M72.2 230.0h0.9M68.3 232.2h0.9M66.9 239.0h0.9M67.3 233.2h0.9M69.3 232.4h0.9M68.6 238.2h0.9M66.9 223.0h0.9M68.4 236.5h0.9M72.9 239.0h0.9M64.8 239.5h0.9M73.1 226.6h0.9M68.0 239.1h0.9M66.6 228.0h0.9M62.9 222.9h0.9M71.6 236.9h0.9M75.1 237.7h0.9M71.1 231.1h0.9M65.8 233.6h0.9M67.2 236.0h0.9M62.7 237.2h0.9M68.1 230.3h0.9M70.8 225.9h0.9M72.9 241.4h0.9M73.1 230.1h0.9M65.7 234.4h0.9M60.0 237.8h0.9M65.2 239.9h0.9M69.7 238.0h0.9M72.7 235.3h0.9M76.8 234.2h0.9M68.1 244.1h0.9M65.3 239.9h0.9M67.2 245.8h0.9M70.3 230.8h0.9M69.1 236.2h0.9M68.2 241.1h0.9M74.7 232.9h0.9M61.2 234.0h0.9M70.1 238.4h0.9M70.6 227.8h0.9M67.7 231.5h0.9M73.3 239.7h0.9M66.5 231.4h0.9M71.4 229.0h0.9M70.5 236.5h0.9M77.0 240.5h0.9M70.9 231.2h0.9" stroke="#e2290b" stroke-width="0.9" stroke-opacity="0.55" fill="none"/>
<path d="M64.9 239.2h0.9M74.5 238.0h0.9M69.7 236.0h0.9M71.4 232.8h0.9M69.4 240.3h0.9M68.0 239.6h0.9M66.5 245.1h0.9M60.9 241.6h0.9M65.6 245.8h0.9M69.1 235.0h0.9M68.3 232.9h0.9M73.7 231.0h0.9M70.7 233.0h0.9M65.0 231.6h0.9M72.7 229.4h0.9M65.4 237.2h0.9M71.9 224.0h0.9M65.7 237.3h0.9M79.9 237.1h0.9M68.4 227.7h0.9M66.3 227.2h0.9M60.1 229.5h0.9M69.2 235.1h0.9M71.2 230.3h0.9M74.1 241.9h0.9M67.7 239.7h0.9M68.3 235.7h0.9M76.3 236.9h0.9M66.4 237.4h0.9M70.6 240.5h0.9M60.3 234.2h0.9M76.0 235.6h0.9M69.0 239.4h0.9M70.7 227.3h0.9M69.2 236.0h0.9M68.6 242.7h0.9M72.3 240.8h0.9M73.3 240.7h0.9M67.2 234.6h0.9M76.8 233.8h0.9M71.3 238.7h0.9M69.2 237.0h0.9M75.3 243.7h0.9M72.5 236.8h0.9M68.2 237.5h0.9M70.5 232.5h0.9M67.0 229.8h0.9M65.8 236.0h0.9M75.5 234.9h0.9M66.0 234.9h0.9M64.3 239.6h0.9M80.2 235.4h0.9M73.3 234.8h0.9M66.4 243.4h0.9M65.2 228.3h0.9M63.8 231.7h0.9M65.2 231.0h0.9M74.1 235.7h0.9M66.6 229.4h0.9M73.8 239.9h0.9M67.9 238.7h0.9M64.5 234.2h0.9M70.3 233.4h0.9M65.8 243.6h0.9M75.4 234.9h0.9M67.2 223.8h0.9M66.0 236.0h0.9M74.1 236.4h0.9M60.5 239.9h0.9M67.4 236.5h0.9M66.2 236.9h0.9M65.1 229.7h0.9M74.8 229.6h0.9M66.6 236.0h0.9M64.3 239.1h0.9M69.8 228.9h0.9M73.5 235.1h0.9M74.7 234.8h0.9M71.5 238.3h0.9M68.6 236.5h0.9M66.5 239.0h0.9M68.2 229.7h0.9M60.8 229.8h0.9M67.4 232.9h0.9M68.2 232.0h0.9M69.8 231.1h0.9M61.7 241.7h0.9M75.4 233.5h0.9M69.2 237.7h0.9M72.0 237.8h0.9M60.6 240.8h0.9M71.1 234.3h0.9M67.3 231.8h0.9M63.4 238.6h0.9M66.3 234.0h0.9M70.5 240.4h0.9M63.7 239.8h0.9M64.7 235.3h0.9M72.1 236.7h0.9M67.3 227.6h0.9M68.0 229.8h0.9M66.1 232.3h0.9M61.8 225.2h0.9M64.6 233.6h0.9M63.2 233.5h0.9M72.6 240.1h0.9M66.8 231.1h0.9M70.0 238.3h0.9M70.8 226.5h0.9M67.0 243.9h0.9M69.1 239.2h0.9M65.4 231.0h0.9M71.8 232.6h0.9M68.5 238.5h0.9M72.1 237.9h0.9M79.4 234.7h0.9M65.3 238.1h0.9M72.4 237.8h0.9M71.2 228.6h0.9M64.5 239.6h0.9M70.7 237.4h0.9M72.4 244.4h0.9M70.6 236.5h0.9M70.5 227.6h0.9M62.3 246.2h0.9M72.5 231.9h0.9M61.1 238.6h0.9M76.5 234.8h0.9M77.5 234.7h0.9M65.8 236.3h0.9M61.2 234.5h0.9M72.7 238.8h0.9M64.7 235.9h0.9M66.6 233.6h0.9M70.0 237.6h0.9M71.6 227.6h0.9M70.9 239.6h0.9M70.6 234.3h0.9M72.0 240.3h0.9M74.0 244.0h0.9M63.2 231.5h0.9M72.7 231.3h0.9M67.4 236.0h0.9M68.8 233.5h0.9M73.0 233.2h0.9M68.9 227.3h0.9M61.8 232.3h0.9M70.6 234.5h0.9M70.0 242.6h0.9M63.3 232.7h0.9M71.6 235.3h0.9M72.4 238.3h0.9M70.4 234.7h0.9M67.3 240.0h0.9M76.6 231.4h0.9M67.1 246.3h0.9M68.0 233.9h0.9M68.6 231.2h0.9M70.0 239.3h0.9M63.4 232.4h0.9M69.9 233.9h0.9M68.3 233.6h0.9M63.5 240.6h0.9M72.1 237.2h0.9M70.8 229.7h0.9M77.7 241.5h0.9M66.8 240.0h0.9M69.5 240.2h0.9M68.5 238.6h0.9M68.9 227.1h0.9M73.1 239.7h0.9M71.7 230.7h0.9M71.6 236.8h0.9M74.6 232.0h0.9M67.5 239.6h0.9M62.5 231.3h0.9M65.4 242.2h0.9M65.0 236.4h0.9M70.9 236.8h0.9M65.8 241.7h0.9M73.3 233.5h0.9M65.5 229.2h0.9M69.2 230.4h0.9M69.6 242.3h0.9M72.3 232.6h0.9M65.5 235.0h0.9M80.7 235.4h0.9M67.3 221.9h0.9M69.2 234.8h0.9M67.0 229.9h0.9M63.6 236.9h0.9M70.2 237.2h0.9M69.8 243.7h0.9M61.7 239.8h0.9M63.8 238.6h0.9M60.6 237.3h0.9M64.5 231.9h0.9M68.7 233.3h0.9M66.4 242.1h0.9M66.2 236.6h0.9M67.5 235.7h0.9M68.5 229.2h0.9M73.1 235.6h0.9M70.1 234.2h0.9M64.2 225.3h0.9M68.0 230.7h0.9M67.0 234.7h0.9M67.0 241.5h0.9M68.8 245.1h0.9M67.2 245.1h0.9M68.3 234.9h0.9M64.3 236.9h0.9M66.2 238.6h0.9M69.9 235.5h0.9M67.4 235.7h0.9M68.2 232.1h0.9M74.4 232.5h0.9M71.5 231.7h0.9M77.6 240.4h0.9M64.2 227.5h0.9M68.8 232.5h0.9M67.2 239.1h0.9M69.0 237.1h0.9M73.1 230.4h0.9M73.7 236.7h0.9M71.0 230.0h0.9M69.8 237.0h0.9M66.9 222.3h0.9M65.8 230.9h0.9M72.1 233.9h0.9M68.9 237.3h0.9M71.0 234.3h0.9M71.9 235.0h0.9M74.0 228.6h0.9M66.6 237.4h0.9M77.3 231.5h0.9M72.4 233.0h0.9M64.3 241.3h0.9M72.2 229.5h0.9M69.5 232.2h0.9M65.5 234.8h0.9M69.0 232.2h0.9M70.3 234.3h0.9" stroke="#e2290b" stroke-width="0.9" stroke-opacity="0.55" fill="none"/>
<path d="M64.0 230.9h0.9M73.3 237.0h0.9M71.4 234.6h0.9M66.6 230.4h0.9M70.4 241.5h0.9M68.1 234.8h0.9M69.4 236.5h0.9M77.1 232.0h0.9M68.2 236.7h0.9M69.1 245.4h0.9M63.1 229.5h0.9M79.7 237.7h0.9M75.8 232.6h0.9M70.9 246.2h0.9M66.7 226.1h0.9M62.3 242.3h0.9M74.9 230.4h0.9M83.1 237.0h0.9M74.9 245.6h0.9M70.6 236.5h0.9M83.8 234.2h0.9M70.9 234.3h0.9M77.3 231.2h0.9M72.1 235.7h0.9M73.8 232.3h0.9M73.0 236.3h0.9M68.8 229.2h0.9M71.1 237.7h0.9M63.9 234.4h0.9M75.3 225.7h0.9M67.6 226.9h0.9M73.5 232.6h0.9M67.7 234.2h0.9M71.2 231.7h0.9M81.3 228.9h0.9M66.7 230.3h0.9M70.8 242.5h0.9M76.1 240.4h0.9M76.5 223.0h0.9M76.8 226.4h0.9M65.0 231.3h0.9M71.9 229.1h0.9M73.8 241.7h0.9M71.2 234.2h0.9M76.2 234.3h0.9M72.8 234.3h0.9M71.5 238.6h0.9" stroke="#dc3040" stroke-width="0.9" stroke-opacity="0.42" fill="none"/>
<path d="M64.6 240.3h0.9M61.3 241.8h0.9M71.4 234.1h0.9M68.3 234.8h0.9M62.5 240.2h0.9M74.8 236.6h0.9M73.2 228.1h0.9M68.4 235.6h0.9M70.9 231.5h0.9M69.5 232.1h0.9M69.5 242.2h0.9M69.2 230.9h0.9M60.9 228.4h0.9M63.1 239.7h0.9M80.9 239.0h0.9M70.5 231.4h0.9M68.0 226.8h0.9M80.9 242.0h0.9M72.8 236.8h0.9M72.3 229.5h0.9M67.9 236.2h0.9M68.8 232.6h0.9M65.4 234.1h0.9M81.7 229.7h0.9M63.5 235.8h0.9M61.5 239.8h0.9M76.8 223.7h0.9M67.4 235.8h0.9M73.9 222.0h0.9M65.2 233.4h0.9M65.9 244.7h0.9M62.9 236.8h0.9M76.6 234.9h0.9M74.8 230.3h0.9M68.7 226.9h0.9M65.5 236.5h0.9M75.3 246.7h0.9M65.1 229.4h0.9M79.3 237.3h0.9M74.4 236.5h0.9M73.4 236.2h0.9M76.8 230.6h0.9M74.9 237.2h0.9M61.8 240.2h0.9M74.2 231.3h0.9M75.7 237.5h0.9M78.7 240.9h0.9M63.5 235.7h0.9M64.7 236.4h0.9M75.0 233.4h0.9M73.0 229.5h0.9M66.4 242.1h0.9" stroke="#dc3040" stroke-width="0.9" stroke-opacity="0.42" fill="none"/>
<path d="M67.5 233.2h0.9M63.4 243.6h0.9M86.6 243.5h0.9M64.1 229.7h0.9M70.1 243.0h0.9M82.2 235.5h0.9M66.2 242.3h0.9M74.0 247.1h0.9M65.4 228.4h0.9M65.0 223.6h0.9M69.5 235.6h0.9M62.2 244.5h0.9M72.5 228.5h0.9M63.4 235.2h0.9M69.0 231.3h0.9M76.2 233.0h0.9M73.4 245.3h0.9M73.7 226.3h0.9M72.5 227.5h0.9M64.0 229.6h0.9M82.2 219.9h0.9M66.9 233.8h0.9M65.2 233.5h0.9M78.0 237.6h0.9M68.6 235.5h0.9M64.4 238.7h0.9M81.9 236.9h0.9M77.2 228.3h0.9M72.1 236.9h0.9M68.5 228.4h0.9M71.5 230.1h0.9M74.7 244.0h0.9M63.5 231.6h0.9M64.6 227.1h0.9M67.6 244.2h0.9M65.6 238.8h0.9M61.5 246.9h0.9M67.4 241.7h0.9M68.6 230.4h0.9M65.9 230.0h0.9M65.3 236.1h0.9M77.6 240.1h0.9M76.2 234.7h0.9M72.5 236.4h0.9M82.2 235.0h0.9M66.2 235.6h0.9M71.2 242.9h0.9M60.4 240.3h0.9" stroke="#dc3040" stroke-width="0.9" stroke-opacity="0.42" fill="none"/>
<path d="M63.3 224.8h0.9M66.7 238.7h0.9M62.2 243.3h0.9M60.9 233.1h0.9M73.1 226.5h0.9M68.2 234.9h0.9M67.6 244.8h0.9M79.0 235.2h0.9M68.4 229.2h0.9M82.1 225.8h0.9M75.7 223.2h0.9M81.8 235.3h0.9M77.0 237.1h0.9M69.8 235.9h0.9M71.9 234.5h0.9M77.7 233.4h0.9M78.7 233.2h0.9M83.5 231.1h0.9M73.4 235.1h0.9M70.8 223.4h0.9M76.2 240.9h0.9M73.6 223.3h0.9M72.9 243.9h0.9M73.6 230.1h0.9M69.6 245.4h0.9M70.6 227.8h0.9M72.9 235.8h0.9M67.0 244.6h0.9M74.5 238.2h0.9M74.6 243.2h0.9M66.8 232.3h0.9M64.3 241.4h0.9M69.1 235.6h0.9M65.9 233.8h0.9M76.7 230.6h0.9M66.6 240.8h0.9M71.4 226.9h0.9M72.1 228.6h0.9M73.4 230.4h0.9M70.1 233.3h0.9M65.5 239.4h0.9M69.5 230.5h0.9M76.5 225.1h0.9M77.1 235.3h0.9M71.6 232.5h0.9M63.7 241.5h0.9M74.9 232.9h0.9M71.7 237.9h0.9" stroke="#dc3040" stroke-width="0.9" stroke-opacity="0.42" fill="none"/>
<path d="M67.7 239.5h0.9M77.0 234.0h0.9M62.0 238.1h0.9M68.1 236.4h0.9M82.9 233.4h0.9M68.8 229.6h0.9M74.0 230.5h0.9M66.9 233.9h0.9M72.2 219.1h0.9M78.5 223.1h0.9M73.7 243.5h0.9M67.5 234.7h0.9M72.0 220.0h0.9M77.9 241.6h0.9M72.2 228.8h0.9M79.3 239.0h0.9M61.8 235.1h0.9M72.0 233.4h0.9M68.0 244.1h0.9M75.8 234.0h0.9M67.7 227.3h0.9M68.6 236.9h0.9M77.5 227.9h0.9M65.5 222.9h0.9M71.1 224.3h0.9M81.1 235.7h0.9M70.4 235.0h0.9M67.0 238.6h0.9M69.2 228.3h0.9M74.1 237.5h0.9M73.2 231.6h0.9M76.6 242.1h0.9M78.1 235.4h0.9M61.9 244.5h0.9M66.2 231.7h0.9M65.2 244.1h0.9M69.9 230.3h0.9M69.0 237.3h0.9M72.6 244.8h0.9M62.6 237.0h0.9M67.5 232.2h0.9M69.6 232.6h0.9M67.8 227.7h0.9M64.4 244.7h0.9M76.5 237.8h0.9M68.7 228.3h0.9M82.0 242.4h0.9M71.0 233.4h0.9" stroke="#dc3040" stroke-width="0.9" stroke-opacity="0.42" fill="none"/>
<path d="M81.0 236.6h0.9M75.0 221.6h0.9M69.8 243.9h0.9M65.1 241.9h0.9M66.4 235.2h0.9M78.8 239.4h0.9M65.8 240.2h0.9M68.6 243.1h0.9M72.5 239.6h0.9M69.8 241.4h0.9M70.3 226.6h0.9M76.6 243.2h0.9M72.9 245.6h0.9M64.1 227.1h0.9M73.2 244.6h0.9M67.1 234.7h0.9M70.5 237.4h0.9M62.5 227.4h0.9M65.9 240.3h0.9M69.9 239.7h0.9M70.4 224.8h0.9M66.2 234.1h0.9M87.1 226.5h0.9M63.8 236.3h0.9M71.1 231.4h0.9M62.8 230.0h0.9M66.3 236.5h0.9M72.0 237.6h0.9M61.9 232.8h0.9M66.2 238.3h0.9M79.3 243.3h0.9M80.0 233.4h0.9M70.2 238.0h0.9M67.1 230.6h0.9M77.7 232.1h0.9M65.8 232.3h0.9M64.8 235.5h0.9M75.8 243.3h0.9M75.0 232.4h0.9M67.1 219.6h0.9M67.4 238.7h0.9M73.1 232.4h0.9M68.7 235.0h0.9M67.7 218.2h0.9M68.9 246.3h0.9M76.1 244.4h0.9" stroke="#dc3040" stroke-width="0.9" stroke-opacity="0.42" fill="none"/>
<path d="M106.9 237.2h0.9M99.7 237.0h0.9M120.5 240.3h0.9M119.7 236.4h0.9M120.4 235.9h0.9M127.8 233.1h0.9M123.5 242.2h0.9M125.7 236.0h0.9M109.3 236.4h0.9M107.6 237.8h0.9M123.7 240.7h0.9M122.4 230.8h0.9M122.4 235.2h0.9M114.6 233.7h0.9M117.6 235.2h0.9M125.1 236.8h0.9M113.5 242.8h0.9M121.6 241.6h0.9M116.2 237.9h0.9M131.7 239.0h0.9M115.3 240.1h0.9M113.3 233.0h0.9M102.0 241.0h0.9M123.6 244.7h0.9M107.6 234.8h0.9M118.0 238.7h0.9M116.2 234.0h0.9M121.1 236.4h0.9M121.6 241.2h0.9M117.8 235.6h0.9M127.7 239.8h0.9M116.8 238.8h0.9M103.5 242.7h0.9M125.7 238.6h0.9M116.2 232.6h0.9M120.6 234.5h0.9M95.1 235.6h0.9M127.3 230.0h0.9M106.8 235.0h0.9M114.5 235.2h0.9M96.1 238.1h0.9M88.7 233.9h0.9M99.0 235.8h0.9M94.7 235.8h0.9M98.0 239.2h0.9M86.7 235.0h0.9M106.6 233.8h0.9" stroke="#dc3040" stroke-width="0.9" stroke-opacity="0.35" fill="none"/>
<path d="M117.3 241.7h0.9M129.0 240.1h0.9M113.7 237.0h0.9M121.1 246.2h0.9M116.4 235.9h0.9M102.7 239.1h0.9M121.3 232.3h0.9M121.7 244.6h0.9M126.7 238.4h0.9M116.2 237.3h0.9M111.0 239.3h0.9M124.7 235.6h0.9M121.6 234.7h0.9M121.7 237.2h0.9M112.1 235.3h0.9M111.3 238.4h0.9M117.9 232.7h0.9M130.1 236.8h0.9M125.5 232.5h0.9M118.7 240.4h0.9M110.4 245.4h0.9M115.9 230.5h0.9M128.0 232.4h0.9M118.6 241.1h0.9M112.9 234.9h0.9M120.1 234.9h0.9M129.5 232.2h0.9M122.1 231.1h0.9M133.0 232.5h0.9M135.6 238.5h0.9M116.8 228.8h0.9M118.7 233.7h0.9M112.7 235.1h0.9M117.0 236.0h0.9M114.6 229.9h0.9M113.3 238.8h0.9M113.2 240.9h0.9M114.6 239.7h0.9M98.2 239.9h0.9M105.6 232.9h0.9M101.1 239.5h0.9M95.9 239.3h0.9M103.2 233.9h0.9M108.9 229.7h0.9M94.5 239.6h0.9" stroke="#dc3040" stroke-width="0.9" stroke-opacity="0.35" fill="none"/>
<path d="M125.4 233.6h0.9M111.7 235.3h0.9M117.3 237.6h0.9M116.3 235.3h0.9M108.8 239.3h0.9M135.7 234.2h0.9M115.4 232.1h0.9M116.1 232.6h0.9M120.8 233.1h0.9M136.7 229.9h0.9M106.0 231.1h0.9M129.7 227.3h0.9M112.9 234.9h0.9M121.2 238.8h0.9M116.2 234.7h0.9M128.2 237.6h0.9M104.0 241.0h0.9M125.7 233.5h0.9M120.4 235.3h0.9M117.3 235.7h0.9M113.9 240.4h0.9M107.5 237.6h0.9M139.6 234.4h0.9M115.9 240.5h0.9M112.5 233.6h0.9M111.1 233.6h0.9M126.7 230.5h0.9M117.8 230.9h0.9M127.8 238.8h0.9M121.9 237.0h0.9M133.1 238.2h0.9M105.4 231.1h0.9M119.8 239.1h0.9M111.9 233.8h0.9M115.6 234.9h0.9M123.7 233.5h0.9M122.2 237.5h0.9M109.5 234.6h0.9M124.3 228.8h0.9M118.2 239.3h0.9M96.8 236.1h0.9M95.5 235.9h0.9M103.9 229.0h0.9M104.3 242.0h0.9M99.0 239.2h0.9M101.0 237.9h0.9M105.2 243.9h0.9" stroke="#dc3040" stroke-width="0.9" stroke-opacity="0.35" fill="none"/>
<path d="M107.4 231.6h0.9M116.0 236.1h0.9M110.9 227.3h0.9M115.0 230.5h0.9M118.2 239.5h0.9M115.7 239.2h0.9M116.7 238.7h0.9M104.7 235.5h0.9M101.9 240.8h0.9M139.4 237.6h0.9M125.1 238.0h0.9M117.6 235.9h0.9M121.5 246.8h0.9M125.2 234.2h0.9M109.9 235.8h0.9M116.6 236.3h0.9M119.4 234.0h0.9M109.4 240.7h0.9M127.3 237.5h0.9M116.2 232.2h0.9M121.4 239.2h0.9M115.2 238.8h0.9M112.7 234.7h0.9M126.0 235.5h0.9M119.0 241.0h0.9M108.2 235.8h0.9M114.7 235.6h0.9M131.7 238.2h0.9M117.4 241.0h0.9M118.3 238.2h0.9M119.3 234.6h0.9M105.6 236.0h0.9M105.8 229.2h0.9M105.1 232.9h0.9M123.7 227.2h0.9M128.9 233.7h0.9M108.7 230.2h0.9M113.5 240.6h0.9M120.2 239.1h0.9M120.6 242.6h0.9M106.7 239.7h0.9M99.6 236.2h0.9M103.1 229.9h0.9M100.7 243.8h0.9M97.0 231.2h0.9M94.2 233.8h0.9M93.9 230.2h0.9" stroke="#dc3040" stroke-width="0.9" stroke-opacity="0.35" fill="none"/>
<path d="M118.5 239.1h0.9M129.6 238.0h0.9M127.3 241.2h0.9M115.0 242.7h0.9M121.0 236.1h0.9M108.5 234.0h0.9M118.3 235.5h0.9M127.3 237.2h0.9M104.6 232.2h0.9M116.7 246.1h0.9M115.7 233.1h0.9M118.8 241.4h0.9M113.8 236.3h0.9M112.0 233.4h0.9M105.4 233.7h0.9M120.5 230.5h0.9M120.5 230.9h0.9M120.0 235.5h0.9M123.9 233.8h0.9M109.3 239.3h0.9M116.5 233.5h0.9M124.0 231.8h0.9M119.2 234.0h0.9M109.0 241.7h0.9M108.7 234.6h0.9M114.2 240.9h0.9M119.4 238.5h0.9M116.6 232.2h0.9M123.5 240.3h0.9M130.2 234.5h0.9M115.8 230.1h0.9M123.5 237.5h0.9M124.4 230.5h0.9M114.6 230.8h0.9M110.3 233.9h0.9M114.5 236.0h0.9M127.2 238.7h0.9M115.2 234.1h0.9M127.2 236.5h0.9M130.4 233.7h0.9M113.1 233.5h0.9M104.4 232.3h0.9M111.8 235.1h0.9M104.5 240.4h0.9M101.0 243.2h0.9M103.3 237.7h0.9" stroke="#dc3040" stroke-width="0.9" stroke-opacity="0.35" fill="none"/>
<path d="M120.0 237.2h0.9M103.6 239.0h0.9M108.6 230.6h0.9M124.7 234.4h0.9M116.8 240.8h0.9M103.9 234.9h0.9M113.9 234.9h0.9M113.5 232.9h0.9M114.1 236.0h0.9M123.1 234.2h0.9M120.5 236.8h0.9M113.8 238.5h0.9M107.8 236.5h0.9M114.8 234.4h0.9M125.9 241.2h0.9M126.6 235.8h0.9M123.6 233.8h0.9M121.0 235.7h0.9M115.8 236.3h0.9M116.0 238.8h0.9M105.2 240.1h0.9M108.7 240.6h0.9M114.0 241.8h0.9M118.7 227.2h0.9M118.9 240.8h0.9M120.2 236.5h0.9M123.4 232.5h0.9M114.3 233.6h0.9M120.9 238.3h0.9M114.4 232.7h0.9M105.2 242.6h0.9M121.8 233.6h0.9M107.2 231.5h0.9M116.5 233.0h0.9M115.6 240.9h0.9M118.8 231.1h0.9M103.0 240.1h0.9M109.5 235.1h0.9M112.6 234.3h0.9M122.4 228.9h0.9M101.7 241.8h0.9M101.6 240.4h0.9M81.4 231.5h0.9M90.8 232.9h0.9M109.2 238.5h0.9M99.6 232.9h0.9" stroke="#dc3040" stroke-width="0.9" stroke-opacity="0.35" fill="none"/>
<path d="M86.6 221.9h0.9M96.6 220.1h0.9M80.4 221.9h0.9M78.3 219.9h0.9" stroke="#dc3040" stroke-width="0.9" stroke-opacity="0.3" fill="none"/>
<path d="M143.0 172.5h0.9M132.7 166.8h0.9M88.2 217.4h0.9M67.1 212.7h0.9" stroke="#dc3040" stroke-width="0.9" stroke-opacity="0.3" fill="none"/>
<path d="M84.0 165.3h0.9M129.5 237.3h0.9M91.9 213.0h0.9M81.3 219.0h0.9" stroke="#dc3040" stroke-width="0.9" stroke-opacity="0.3" fill="none"/>
<path d="M111.9 170.8h0.9M116.2 227.0h0.9M62.0 220.0h0.9M80.8 221.8h0.9" stroke="#dc3040" stroke-width="0.9" stroke-opacity="0.3" fill="none"/>
<path d="M150.2 238.2h0.9M86.9 215.4h0.9M60.5 220.8h0.9" stroke="#dc3040" stroke-width="0.9" stroke-opacity="0.3" fill="none"/>
<path d="M67.2 175.5h0.9M91.3 212.5h0.9M83.5 215.7h0.9" stroke="#dc3040" stroke-width="0.9" stroke-opacity="0.3" fill="none"/>
<line x1="92.50" y1="159.40" x2="92.50" y2="248.90" stroke="#bdbdbd" stroke-width="1.05" />
<line x1="58.70" y1="219.00" x2="152.40" y2="219.00" stroke="#c4c4c4" stroke-width="1.2" />
<text x="59.20" y="165.70" font-size="5.9" text-anchor="start" fill="#2a2a3a" font-weight="bold" textLength="6.4" lengthAdjust="spacingAndGlyphs">D1</text>
<text x="92.70" y="165.70" font-size="5.9" text-anchor="start" fill="#2a2a3a" font-weight="bold" textLength="6.4" lengthAdjust="spacingAndGlyphs">D2</text>
<text x="59.20" y="225.80" font-size="5.9" text-anchor="start" fill="#2a2a3a" font-weight="bold" textLength="6.4" lengthAdjust="spacingAndGlyphs">D3</text>
<text x="92.70" y="225.80" font-size="5.9" text-anchor="start" fill="#2a2a3a" font-weight="bold" textLength="6.4" lengthAdjust="spacingAndGlyphs">D4</text>
<rect x="58.70" y="159.40" width="93.70" height="89.50" fill="none" stroke="#1a1a1a" stroke-width="1.5"/>
<path d="M58.70 248.90h-3.0M58.70 248.90v3.0M58.70 242.16h-1.7M65.75 248.90v1.7M58.70 238.22h-1.7M69.88 248.90v1.7M58.70 235.43h-1.7M72.80 248.90v1.7M58.70 233.26h-1.7M75.07 248.90v1.7M58.70 231.49h-1.7M76.93 248.90v1.7M58.70 229.99h-1.7M78.50 248.90v1.7M58.70 228.69h-1.7M79.85 248.90v1.7M58.70 227.55h-1.7M81.05 248.90v1.7M58.70 226.53h-3.0M82.12 248.90v3.0M58.70 219.79h-1.7M89.18 248.90v1.7M58.70 215.85h-1.7M93.30 248.90v1.7M58.70 213.05h-1.7M96.23 248.90v1.7M58.70 210.89h-1.7M98.50 248.90v1.7M58.70 209.11h-1.7M100.35 248.90v1.7M58.70 207.62h-1.7M101.92 248.90v1.7M58.70 206.32h-1.7M103.28 248.90v1.7M58.70 205.17h-1.7M104.48 248.90v1.7M58.70 204.15h-3.0M105.55 248.90v3.0M58.70 197.41h-1.7M112.60 248.90v1.7M58.70 193.47h-1.7M116.73 248.90v1.7M58.70 190.68h-1.7M119.65 248.90v1.7M58.70 188.51h-1.7M121.92 248.90v1.7M58.70 186.74h-1.7M123.78 248.90v1.7M58.70 185.24h-1.7M125.35 248.90v1.7M58.70 183.94h-1.7M126.70 248.90v1.7M58.70 182.80h-1.7M127.90 248.90v1.7M58.70 181.78h-3.0M128.98 248.90v3.0M58.70 175.04h-1.7M136.03 248.90v1.7M58.70 171.10h-1.7M140.15 248.90v1.7M58.70 168.30h-1.7M143.08 248.90v1.7M58.70 166.14h-1.7M145.35 248.90v1.7M58.70 164.36h-1.7M147.20 248.90v1.7M58.70 162.87h-1.7M148.77 248.90v1.7M58.70 161.57h-1.7M150.13 248.90v1.7M58.70 160.42h-1.7M151.33 248.90v1.7M58.70 159.40h-3M152.40 248.90v3" stroke="#1a1a1a" stroke-width="1" fill="none"/>
<text x="53.10" y="230.43" font-size="8.2" text-anchor="end" fill="#222">10<tspan font-size="6.0" dy="-3.8">0</tspan></text>
<text x="53.10" y="208.05" font-size="8.2" text-anchor="end" fill="#222">10<tspan font-size="6.0" dy="-3.8">1</tspan></text>
<text x="53.10" y="185.68" font-size="8.2" text-anchor="end" fill="#222">10<tspan font-size="6.0" dy="-3.8">2</tspan></text>
<text x="53.10" y="163.30" font-size="8.2" text-anchor="end" fill="#222">10<tspan font-size="6.0" dy="-3.8">3</tspan></text>
<text x="81.62" y="263.60" font-size="8.2" text-anchor="middle" fill="#222">10<tspan font-size="6.0" dy="-3.8">0</tspan></text>
<text x="105.05" y="263.60" font-size="8.2" text-anchor="middle" fill="#222">10<tspan font-size="6.0" dy="-3.8">1</tspan></text>
<text x="128.48" y="263.60" font-size="8.2" text-anchor="middle" fill="#222">10<tspan font-size="6.0" dy="-3.8">2</tspan></text>
<text x="151.90" y="263.60" font-size="8.2" text-anchor="middle" fill="#222">10<tspan font-size="6.0" dy="-3.8">3</tspan></text>
<text x="105.60" y="153.90" font-size="10.0" text-anchor="middle" fill="#222" textLength="18.3" lengthAdjust="spacingAndGlyphs">OP9</text>
<path d="M196.2 242.9h0.9M181.8 241.4h0.9M186.1 232.9h0.9M180.2 231.4h0.9M190.4 237.6h0.9M187.7 231.8h0.9M183.4 237.1h0.9M185.4 233.0h0.9M185.4 241.2h0.9M184.3 226.9h0.9M179.3 236.2h0.9M185.2 239.4h0.9M188.0 234.3h0.9M188.9 240.3h0.9M187.8 242.5h0.9M180.7 237.3h0.9M193.6 245.5h0.9M184.3 235.6h0.9M178.2 241.2h0.9M194.4 242.2h0.9M184.7 244.0h0.9M184.8 240.4h0.9M182.1 223.5h0.9M179.5 231.7h0.9M187.3 236.5h0.9M182.8 230.9h0.9M178.8 239.6h0.9M188.5 235.5h0.9M190.7 241.6h0.9M182.8 242.0h0.9M188.9 233.1h0.9M186.0 231.7h0.9M184.6 243.7h0.9M188.6 235.7h0.9M186.7 231.8h0.9M183.9 235.6h0.9M180.3 232.6h0.9M189.0 236.5h0.9M192.7 234.0h0.9M183.9 239.1h0.9M188.2 236.2h0.9M183.5 241.3h0.9M185.2 241.7h0.9M193.1 234.4h0.9M185.4 229.2h0.9M176.6 233.6h0.9M189.3 233.1h0.9M196.4 235.8h0.9M182.8 236.2h0.9M187.1 244.8h0.9M186.7 236.9h0.9M176.7 238.3h0.9M183.0 234.5h0.9M184.8 237.0h0.9M181.1 229.2h0.9M194.1 241.1h0.9M188.7 243.8h0.9M182.9 234.2h0.9M189.5 233.6h0.9M191.4 241.3h0.9M185.8 227.5h0.9M186.7 232.2h0.9M187.7 239.2h0.9M187.3 232.3h0.9M189.7 241.1h0.9M183.9 238.5h0.9M185.8 230.5h0.9M186.0 240.1h0.9M181.5 235.0h0.9M187.1 234.9h0.9M181.5 238.4h0.9M178.5 235.5h0.9M182.7 228.8h0.9M187.4 230.4h0.9M181.4 236.6h0.9M190.3 228.4h0.9M178.7 239.6h0.9M178.9 242.0h0.9M186.3 241.3h0.9M185.8 231.9h0.9M181.4 242.3h0.9M178.3 230.8h0.9M180.3 239.8h0.9M180.1 234.7h0.9M181.1 230.1h0.9M190.3 242.0h0.9M176.7 230.4h0.9M184.5 234.3h0.9M190.3 238.5h0.9M190.7 233.5h0.9M183.2 238.6h0.9M178.5 236.7h0.9M194.1 246.8h0.9M192.5 230.0h0.9M183.4 234.8h0.9M176.3 239.5h0.9M184.4 240.0h0.9M183.3 230.7h0.9M187.7 237.3h0.9M177.5 235.2h0.9M184.9 228.8h0.9M200.6 237.1h0.9M189.1 237.3h0.9M186.3 232.5h0.9M186.3 233.1h0.9M184.2 238.9h0.9M189.7 242.4h0.9M180.8 233.5h0.9M178.7 236.0h0.9M188.7 237.3h0.9M191.6 233.2h0.9M193.6 239.1h0.9M193.2 235.0h0.9M183.3 243.4h0.9M188.6 231.0h0.9M190.9 234.6h0.9M192.1 246.0h0.9M187.9 239.4h0.9M191.0 236.2h0.9M178.5 233.0h0.9M189.0 234.4h0.9M185.4 230.5h0.9M181.8 233.1h0.9M184.9 235.9h0.9M178.8 236.3h0.9M184.4 239.6h0.9M182.6 237.8h0.9M187.1 232.6h0.9M181.7 242.5h0.9M181.6 238.0h0.9M181.9 235.8h0.9M195.8 242.9h0.9M185.3 232.0h0.9M192.7 240.1h0.9M184.3 238.3h0.9M189.6 233.3h0.9M179.1 239.0h0.9M184.4 227.4h0.9M181.1 238.2h0.9M193.2 231.0h0.9M180.8 235.8h0.9M189.0 236.1h0.9M185.2 231.2h0.9M186.6 232.1h0.9M185.8 240.7h0.9M185.9 243.8h0.9M187.3 238.9h0.9M187.4 232.6h0.9M188.6 236.3h0.9M187.8 233.4h0.9M191.4 237.6h0.9M182.8 235.4h0.9M191.9 239.3h0.9M183.2 235.4h0.9M184.2 239.8h0.9M184.9 244.6h0.9M178.6 230.0h0.9M179.4 234.0h0.9M184.9 236.1h0.9M188.1 225.9h0.9M183.3 238.4h0.9M179.3 237.1h0.9M183.1 235.5h0.9M184.1 236.3h0.9M191.6 235.0h0.9M183.2 229.4h0.9M184.5 238.5h0.9M175.7 236.5h0.9M185.4 235.5h0.9M188.1 241.4h0.9M185.6 236.6h0.9M180.8 236.8h0.9M191.4 239.9h0.9M183.3 228.1h0.9M180.5 235.7h0.9M187.3 228.9h0.9M184.4 242.0h0.9M187.2 237.0h0.9M188.2 242.5h0.9M183.8 232.6h0.9M186.2 242.5h0.9M183.3 237.9h0.9M188.4 230.8h0.9M179.0 227.3h0.9M188.5 235.0h0.9M190.6 235.5h0.9M188.0 232.5h0.9M181.6 236.8h0.9M188.2 234.6h0.9M185.8 232.2h0.9M174.9 226.2h0.9M184.8 236.9h0.9M188.0 232.4h0.9M191.4 236.5h0.9M179.8 237.6h0.9M179.5 235.3h0.9M180.2 246.2h0.9M180.6 235.5h0.9" stroke="#e2290b" stroke-width="0.9" stroke-opacity="0.55" fill="none"/>
<path d="M183.6 235.9h0.9M188.4 231.6h0.9M183.9 233.2h0.9M181.7 239.9h0.9M184.9 238.6h0.9M184.0 233.9h0.9M183.2 236.9h0.9M187.6 233.5h0.9M183.4 230.9h0.9M181.3 236.9h0.9M184.1 234.8h0.9M179.9 229.4h0.9M185.6 237.0h0.9M181.5 231.7h0.9M181.3 237.2h0.9M188.8 238.8h0.9M188.4 237.5h0.9M176.4 241.7h0.9M179.7 244.5h0.9M190.7 240.0h0.9M184.3 237.5h0.9M187.8 238.0h0.9M176.5 232.1h0.9M188.2 235.7h0.9M186.0 238.2h0.9M179.3 233.8h0.9M182.9 232.7h0.9M183.0 235.5h0.9M182.4 241.4h0.9M178.2 233.9h0.9M189.8 235.6h0.9M190.0 242.9h0.9M185.0 232.0h0.9M182.7 234.0h0.9M176.1 235.7h0.9M179.5 242.6h0.9M192.1 235.7h0.9M192.0 235.8h0.9M180.6 239.6h0.9M189.2 233.0h0.9M187.2 234.8h0.9M180.9 232.1h0.9M187.6 241.3h0.9M189.0 236.7h0.9M191.2 230.4h0.9M175.7 235.8h0.9M180.9 235.2h0.9M176.4 241.1h0.9M184.3 240.0h0.9M191.2 238.0h0.9M193.8 230.6h0.9M192.3 230.4h0.9M188.4 241.8h0.9M189.5 226.7h0.9M180.3 232.9h0.9M186.5 237.0h0.9M184.6 234.1h0.9M181.0 236.3h0.9M188.6 236.8h0.9M181.4 233.5h0.9M191.1 237.5h0.9M185.0 241.3h0.9M192.3 236.6h0.9M188.7 235.4h0.9M185.6 232.5h0.9M186.6 243.7h0.9M183.0 231.4h0.9M186.1 242.8h0.9M186.1 239.6h0.9M188.1 239.3h0.9M183.5 233.9h0.9M190.9 240.9h0.9M186.4 232.6h0.9M181.1 237.4h0.9M183.1 237.7h0.9M191.9 234.8h0.9M190.2 238.0h0.9M183.9 238.7h0.9M179.7 239.1h0.9M180.5 236.0h0.9M185.5 241.4h0.9M192.3 243.7h0.9M186.5 228.7h0.9M184.8 227.3h0.9M188.5 228.1h0.9M184.9 233.0h0.9M184.3 226.4h0.9M179.1 237.5h0.9M181.7 236.0h0.9M184.6 240.1h0.9M185.8 237.7h0.9M182.9 231.1h0.9M180.7 241.5h0.9M184.4 239.2h0.9M188.8 234.0h0.9M187.9 239.0h0.9M185.7 247.1h0.9M191.8 227.4h0.9M180.0 234.9h0.9M181.5 233.8h0.9M187.9 226.5h0.9M177.6 231.2h0.9M189.7 237.6h0.9M183.3 234.5h0.9M177.9 241.9h0.9M182.7 235.9h0.9M184.3 233.2h0.9M194.0 240.2h0.9M187.7 238.0h0.9M180.2 245.5h0.9M187.4 235.3h0.9M183.7 237.5h0.9M180.9 235.9h0.9M188.7 234.8h0.9M190.2 239.6h0.9M186.6 247.8h0.9M180.8 238.3h0.9M185.0 233.0h0.9M193.7 236.5h0.9M191.0 243.1h0.9M182.8 227.7h0.9M184.7 230.2h0.9M177.7 239.0h0.9M184.6 231.1h0.9M189.7 241.4h0.9M180.8 236.2h0.9M183.1 235.0h0.9M188.2 237.9h0.9M183.2 239.0h0.9M182.7 246.1h0.9M184.9 235.5h0.9M187.9 234.7h0.9M178.9 235.1h0.9M192.2 234.7h0.9M189.6 242.7h0.9M180.8 237.9h0.9M187.2 236.8h0.9M184.4 229.5h0.9M182.6 239.9h0.9M181.9 230.7h0.9M187.9 240.7h0.9M187.4 230.3h0.9M186.2 224.5h0.9M178.0 234.1h0.9M189.6 230.9h0.9M186.2 238.8h0.9M183.5 230.9h0.9M190.3 231.2h0.9M187.8 233.0h0.9M184.2 230.8h0.9M186.7 242.4h0.9M195.0 232.1h0.9M179.5 228.9h0.9M189.3 233.9h0.9M186.4 232.8h0.9M189.5 228.9h0.9M184.3 226.4h0.9M191.7 235.4h0.9M185.0 233.5h0.9M181.7 232.8h0.9M186.7 234.6h0.9M191.8 237.5h0.9M184.8 237.7h0.9M188.8 241.0h0.9M179.1 233.6h0.9M181.8 239.4h0.9M180.6 230.9h0.9M181.4 237.0h0.9M177.3 240.8h0.9M185.3 234.3h0.9M185.8 238.7h0.9M186.9 233.4h0.9M180.8 232.5h0.9M183.2 235.2h0.9M176.9 238.3h0.9M180.1 241.9h0.9M185.2 235.4h0.9M185.9 241.0h0.9M190.9 234.5h0.9M186.1 240.0h0.9M197.7 234.2h0.9M180.5 241.1h0.9M190.2 236.6h0.9M182.4 234.7h0.9M190.5 235.2h0.9M193.6 244.0h0.9M181.0 237.7h0.9M176.7 230.6h0.9M188.3 232.8h0.9M189.0 237.8h0.9M186.3 238.2h0.9M193.6 238.2h0.9M194.5 241.6h0.9M183.3 240.1h0.9M180.6 234.9h0.9" stroke="#e2290b" stroke-width="0.9" stroke-opacity="0.55" fill="none"/>
<path d="M186.1 237.7h0.9M180.3 238.8h0.9M179.1 233.0h0.9M185.4 228.8h0.9M182.6 239.3h0.9M180.2 238.2h0.9M176.8 232.0h0.9M183.8 235.6h0.9M175.1 235.8h0.9M184.2 234.3h0.9M180.0 236.2h0.9M190.7 234.0h0.9M196.1 244.2h0.9M188.6 238.0h0.9M191.7 238.1h0.9M183.8 237.0h0.9M181.7 235.6h0.9M186.0 232.5h0.9M182.7 239.1h0.9M183.6 234.5h0.9M179.5 237.1h0.9M187.5 231.2h0.9M181.7 242.9h0.9M186.6 232.5h0.9M185.8 239.3h0.9M179.1 231.5h0.9M186.9 234.9h0.9M190.3 233.8h0.9M181.3 231.8h0.9M186.1 238.5h0.9M184.6 234.3h0.9M184.6 228.3h0.9M179.8 240.0h0.9M190.8 230.4h0.9M182.4 229.6h0.9M177.1 240.9h0.9M188.1 233.5h0.9M178.3 231.8h0.9M188.1 241.0h0.9M183.8 229.1h0.9M191.5 237.6h0.9M182.0 234.5h0.9M198.0 240.7h0.9M182.4 236.5h0.9M187.4 236.6h0.9M193.0 229.1h0.9M178.1 236.3h0.9M184.1 235.3h0.9M185.6 234.4h0.9M195.8 233.3h0.9M186.5 232.7h0.9M193.9 234.1h0.9M188.0 237.6h0.9M193.1 236.5h0.9M191.9 237.2h0.9M189.1 235.0h0.9M184.3 229.7h0.9M187.0 230.8h0.9M181.1 242.5h0.9M189.6 237.1h0.9M182.5 234.2h0.9M178.3 240.5h0.9M194.5 236.1h0.9M182.3 231.3h0.9M182.3 231.6h0.9M187.1 239.0h0.9M181.0 238.2h0.9M186.2 240.4h0.9M184.8 232.9h0.9M175.5 241.6h0.9M180.7 233.9h0.9M185.5 230.9h0.9M186.6 243.6h0.9M181.4 232.8h0.9M192.4 236.6h0.9M186.7 241.9h0.9M179.3 241.5h0.9M188.4 233.0h0.9M184.1 239.7h0.9M190.6 225.5h0.9M179.7 237.2h0.9M189.4 231.2h0.9M178.7 235.9h0.9M180.6 244.8h0.9M186.7 234.0h0.9M182.8 235.4h0.9M187.3 245.6h0.9M182.8 232.9h0.9M186.3 237.1h0.9M176.5 228.6h0.9M187.0 238.6h0.9M183.1 234.7h0.9M184.1 230.6h0.9M185.0 232.6h0.9M182.5 234.5h0.9M181.3 232.7h0.9M183.3 238.5h0.9M192.1 238.2h0.9M182.7 243.1h0.9M185.8 229.9h0.9M184.6 228.9h0.9M181.6 228.4h0.9M186.6 230.0h0.9M188.1 237.9h0.9M185.6 243.8h0.9M184.2 237.5h0.9M193.5 239.8h0.9M178.2 239.7h0.9M186.4 233.6h0.9M186.5 241.3h0.9M190.0 237.4h0.9M176.6 232.4h0.9M190.6 236.6h0.9M183.8 229.3h0.9M181.0 236.0h0.9M186.6 239.2h0.9M180.0 229.9h0.9M182.1 235.9h0.9M183.4 241.3h0.9M185.6 235.7h0.9M191.5 232.9h0.9M191.8 231.7h0.9M188.4 235.1h0.9M190.9 238.0h0.9M178.5 231.0h0.9M191.8 238.6h0.9M184.5 235.9h0.9M186.7 237.4h0.9M185.6 232.3h0.9M182.3 239.3h0.9M187.9 233.1h0.9M186.0 230.6h0.9M188.8 230.4h0.9M188.1 235.0h0.9M187.9 242.5h0.9M186.6 231.5h0.9M182.4 228.8h0.9M185.0 233.2h0.9M189.7 230.7h0.9M177.3 236.0h0.9M190.5 243.4h0.9M185.8 236.3h0.9M187.0 237.1h0.9M180.4 237.8h0.9M184.0 237.8h0.9M192.8 233.8h0.9M180.7 235.9h0.9M194.9 236.9h0.9M179.4 241.2h0.9M190.0 232.2h0.9M177.4 239.8h0.9M186.0 236.5h0.9M179.4 237.7h0.9M179.6 239.0h0.9M191.1 230.9h0.9M178.4 226.8h0.9M187.4 238.0h0.9M177.2 231.7h0.9M190.0 235.1h0.9M180.7 237.4h0.9M182.9 241.8h0.9M189.5 233.0h0.9M188.1 243.5h0.9M182.7 239.3h0.9M184.6 240.4h0.9M183.2 234.7h0.9M181.0 228.1h0.9M187.2 232.8h0.9M187.5 239.4h0.9M183.4 232.4h0.9M181.2 233.4h0.9M181.5 232.2h0.9M180.2 232.7h0.9M191.1 241.6h0.9M182.4 229.6h0.9M186.4 230.6h0.9M191.3 234.7h0.9M187.2 239.7h0.9M189.6 230.7h0.9M183.0 239.3h0.9M182.2 232.6h0.9M186.4 231.8h0.9M184.1 233.1h0.9M190.4 236.5h0.9M188.9 237.7h0.9M180.9 238.8h0.9M184.4 241.5h0.9M181.4 239.4h0.9M180.1 226.4h0.9M184.0 237.2h0.9M181.0 243.2h0.9M183.7 239.6h0.9M180.2 231.2h0.9M191.5 234.8h0.9M188.2 235.7h0.9M190.9 234.9h0.9M181.5 239.3h0.9" stroke="#e2290b" stroke-width="0.9" stroke-opacity="0.55" fill="none"/>
<path d="M181.7 232.6h0.9M184.4 236.2h0.9M182.6 235.7h0.9M177.2 234.6h0.9M180.1 237.0h0.9M188.4 245.2h0.9M185.2 241.7h0.9M187.4 229.9h0.9M191.0 235.3h0.9M185.9 229.1h0.9M188.1 236.3h0.9M182.8 234.2h0.9M187.2 230.6h0.9M195.7 237.2h0.9M181.3 242.9h0.9M186.5 226.2h0.9M181.8 238.8h0.9M189.3 239.1h0.9M185.1 241.7h0.9M182.5 229.8h0.9M193.7 233.3h0.9M178.8 233.8h0.9M183.0 233.7h0.9M188.3 234.2h0.9M188.5 231.3h0.9M184.9 233.8h0.9M181.9 229.4h0.9M177.1 239.6h0.9M178.2 235.1h0.9M185.1 233.5h0.9M183.5 235.4h0.9M184.5 236.0h0.9M195.2 231.6h0.9M191.8 225.8h0.9M192.5 242.3h0.9M181.8 232.4h0.9M193.1 246.1h0.9M185.2 228.6h0.9M184.7 223.9h0.9M182.2 233.3h0.9M183.5 227.0h0.9M182.5 229.7h0.9M186.6 243.3h0.9M183.0 241.1h0.9M182.7 237.5h0.9M178.6 233.4h0.9M182.0 232.8h0.9M189.0 233.6h0.9M195.0 237.8h0.9M186.0 242.3h0.9M181.8 236.7h0.9M181.4 243.7h0.9M192.6 229.1h0.9M188.7 233.1h0.9M182.3 228.9h0.9M182.3 232.1h0.9M186.3 239.6h0.9M179.6 225.8h0.9M187.7 230.5h0.9M180.4 241.9h0.9M177.4 234.3h0.9M184.3 232.7h0.9M184.3 234.6h0.9M185.6 234.5h0.9M187.7 239.7h0.9M191.2 238.5h0.9M186.5 234.8h0.9M187.1 236.6h0.9M182.4 230.6h0.9M182.3 229.8h0.9M188.7 227.5h0.9M186.2 237.0h0.9M183.0 240.1h0.9M176.0 234.4h0.9M181.2 240.8h0.9M183.7 242.5h0.9M189.9 242.1h0.9M180.6 245.4h0.9M184.0 238.7h0.9M180.7 236.1h0.9M187.7 230.7h0.9M181.0 240.6h0.9M188.4 237.8h0.9M176.6 235.6h0.9M184.3 232.7h0.9M186.7 235.4h0.9M190.3 237.2h0.9M188.8 237.9h0.9M180.9 234.1h0.9M179.8 228.5h0.9M188.5 241.8h0.9M188.3 238.7h0.9M189.7 241.1h0.9M183.5 234.4h0.9M190.5 247.7h0.9M188.2 236.6h0.9M185.0 230.0h0.9M185.9 238.0h0.9M184.4 239.1h0.9M179.1 237.8h0.9M192.8 234.9h0.9M184.6 236.5h0.9M188.1 240.4h0.9M183.2 242.8h0.9M189.8 229.8h0.9M183.4 233.5h0.9M186.4 227.0h0.9M181.8 231.7h0.9M177.2 240.6h0.9M179.1 241.1h0.9M191.0 238.0h0.9M190.7 237.2h0.9M180.2 228.9h0.9M188.7 239.5h0.9M176.3 233.3h0.9M178.3 240.4h0.9M184.4 227.1h0.9M188.2 231.3h0.9M184.7 231.1h0.9M187.7 236.4h0.9M181.4 234.4h0.9M191.9 238.8h0.9M181.1 229.0h0.9M187.0 231.2h0.9M183.0 238.9h0.9M188.6 233.4h0.9M182.7 235.1h0.9M181.5 230.8h0.9M186.0 240.6h0.9M185.1 233.6h0.9M189.3 243.6h0.9M176.2 242.5h0.9M186.5 235.5h0.9M175.1 240.1h0.9M188.1 236.1h0.9M190.6 238.2h0.9M192.9 247.0h0.9M185.8 233.7h0.9M184.2 239.4h0.9M194.2 240.2h0.9M186.7 231.4h0.9M184.7 236.1h0.9M184.8 236.5h0.9M188.5 244.4h0.9M184.3 231.2h0.9M179.9 236.1h0.9M186.4 234.7h0.9M174.7 229.6h0.9M181.2 237.7h0.9M184.1 234.4h0.9M180.9 244.2h0.9M180.0 234.6h0.9M184.4 230.8h0.9M183.4 233.0h0.9M182.7 225.3h0.9M190.2 247.0h0.9M188.2 241.5h0.9M180.3 239.6h0.9M188.7 232.8h0.9M184.0 242.0h0.9M190.4 228.6h0.9M186.8 241.3h0.9M183.7 235.5h0.9M192.4 236.7h0.9M185.1 237.4h0.9M183.8 235.4h0.9M175.1 243.3h0.9M185.4 232.6h0.9M184.3 234.0h0.9M177.6 236.3h0.9M185.1 228.0h0.9M187.2 236.0h0.9M189.3 230.7h0.9M185.5 232.7h0.9M181.0 230.7h0.9M184.3 236.0h0.9M187.2 243.4h0.9M186.4 230.1h0.9M183.5 239.4h0.9M180.7 227.7h0.9M184.5 235.7h0.9M185.1 240.0h0.9M185.8 232.2h0.9M183.6 241.6h0.9M178.8 244.2h0.9M182.4 230.9h0.9M187.3 234.3h0.9M183.2 227.1h0.9M182.2 238.4h0.9M182.8 235.1h0.9M190.6 240.5h0.9M181.9 236.7h0.9M183.0 240.2h0.9M182.1 237.1h0.9M182.7 235.0h0.9M183.8 233.3h0.9M184.1 230.7h0.9M192.1 230.5h0.9M185.6 237.3h0.9M192.0 243.0h0.9" stroke="#e2290b" stroke-width="0.9" stroke-opacity="0.55" fill="none"/>
<path d="M184.2 243.8h0.9M189.1 234.9h0.9M188.7 238.3h0.9M186.5 234.7h0.9M182.2 238.4h0.9M188.7 234.9h0.9M187.7 244.1h0.9M188.3 239.4h0.9M183.5 228.5h0.9M188.6 237.7h0.9M180.1 235.2h0.9M183.2 237.2h0.9M178.7 243.1h0.9M189.0 238.5h0.9M189.1 242.0h0.9M190.9 239.7h0.9M185.1 236.6h0.9M181.5 240.9h0.9M183.9 236.3h0.9M180.6 245.4h0.9M195.5 231.9h0.9M187.1 233.4h0.9M188.5 236.2h0.9M185.1 237.2h0.9M185.1 239.8h0.9M182.3 235.4h0.9M179.1 235.1h0.9M186.2 230.2h0.9M189.2 234.6h0.9M190.5 233.9h0.9M184.5 231.5h0.9M186.7 243.8h0.9M182.3 245.0h0.9M187.2 235.8h0.9M193.5 241.5h0.9M182.6 243.3h0.9M175.0 236.7h0.9M183.9 241.9h0.9M183.5 241.7h0.9M188.6 241.0h0.9M185.7 236.5h0.9M178.2 243.8h0.9M180.9 232.1h0.9M182.8 235.7h0.9M183.5 239.5h0.9M181.3 237.1h0.9M188.0 233.7h0.9M187.3 240.4h0.9M189.8 234.5h0.9M190.9 230.1h0.9M187.2 238.6h0.9M190.9 236.9h0.9M186.9 236.9h0.9M182.9 240.5h0.9M189.9 242.1h0.9M180.9 234.8h0.9M189.2 238.8h0.9M187.3 240.5h0.9M191.1 227.9h0.9M186.7 234.5h0.9M184.8 233.1h0.9M189.2 240.2h0.9M188.5 234.5h0.9M179.6 243.3h0.9M181.6 234.2h0.9M189.0 235.6h0.9M182.5 235.1h0.9M178.9 237.0h0.9M182.7 240.4h0.9M195.8 232.8h0.9M191.9 231.9h0.9M184.6 235.1h0.9M188.2 242.7h0.9M180.6 238.6h0.9M184.9 231.9h0.9M184.2 234.3h0.9M179.6 224.3h0.9M175.0 239.9h0.9M187.4 232.9h0.9M187.7 242.6h0.9M190.7 231.5h0.9M188.2 235.9h0.9M188.8 237.6h0.9M195.2 233.9h0.9M185.8 232.6h0.9M188.0 231.8h0.9M179.2 232.2h0.9M182.9 236.2h0.9M178.0 234.6h0.9M189.0 235.2h0.9M189.4 235.3h0.9M186.8 236.8h0.9M182.5 235.9h0.9M178.0 239.4h0.9M187.6 232.9h0.9M185.3 236.1h0.9M183.0 235.3h0.9M190.7 241.9h0.9M185.1 247.3h0.9M186.4 232.4h0.9M185.4 235.3h0.9M177.5 226.1h0.9M180.5 230.0h0.9M183.7 233.4h0.9M189.9 231.2h0.9M184.2 240.2h0.9M182.7 243.7h0.9M186.6 240.2h0.9M178.7 239.4h0.9M182.7 236.6h0.9M176.7 232.2h0.9M190.8 230.1h0.9M181.6 229.2h0.9M185.7 234.0h0.9M182.6 241.5h0.9M191.3 233.2h0.9M188.0 231.1h0.9M181.9 240.0h0.9M181.5 234.8h0.9M185.5 237.8h0.9M182.6 232.2h0.9M185.7 240.1h0.9M195.3 227.4h0.9M189.3 240.4h0.9M190.6 236.7h0.9M181.6 241.9h0.9M185.7 232.3h0.9M187.0 240.2h0.9M186.4 234.0h0.9M191.3 235.1h0.9M192.7 231.2h0.9M184.9 229.0h0.9M182.0 235.7h0.9M184.4 245.7h0.9M185.7 224.1h0.9M186.6 238.8h0.9M179.5 236.6h0.9M185.8 239.7h0.9M183.4 244.9h0.9M185.5 241.0h0.9M189.7 232.2h0.9M183.1 233.5h0.9M185.8 233.5h0.9M193.5 237.4h0.9M188.3 235.9h0.9M188.1 234.3h0.9M189.8 237.7h0.9M187.2 235.3h0.9M194.6 234.8h0.9M187.1 234.4h0.9M183.3 234.0h0.9M178.1 231.1h0.9M187.7 241.0h0.9M178.9 238.3h0.9M188.2 234.7h0.9M178.0 223.1h0.9M185.3 240.5h0.9M189.3 238.7h0.9M182.4 237.1h0.9M187.4 233.0h0.9M184.7 231.1h0.9M190.9 240.9h0.9M180.4 236.9h0.9M188.2 238.0h0.9M186.6 230.9h0.9M178.3 240.0h0.9M182.1 240.1h0.9M186.1 241.6h0.9M189.0 241.6h0.9M186.5 231.5h0.9M184.0 232.6h0.9M189.9 228.8h0.9M188.5 241.6h0.9M187.2 240.4h0.9M187.9 237.0h0.9M187.7 235.2h0.9M184.8 237.1h0.9M183.9 233.2h0.9M189.7 241.0h0.9M178.3 239.0h0.9M190.4 234.0h0.9M189.4 237.2h0.9M181.6 235.3h0.9M184.1 241.5h0.9M184.8 229.2h0.9M187.3 234.7h0.9M181.3 241.5h0.9M183.6 228.0h0.9M187.6 238.6h0.9M181.8 238.4h0.9M187.1 236.8h0.9M181.8 234.9h0.9M188.1 234.0h0.9M182.7 235.4h0.9M184.8 226.5h0.9M182.8 236.4h0.9M188.8 232.0h0.9M184.5 237.0h0.9M189.0 241.9h0.9" stroke="#e2290b" stroke-width="0.9" stroke-opacity="0.55" fill="none"/>
<path d="M192.3 237.7h0.9M178.9 232.4h0.9M187.9 229.2h0.9M190.9 235.0h0.9M183.4 232.4h0.9M181.7 231.6h0.9M193.7 237.4h0.9M180.5 237.3h0.9M188.6 246.6h0.9M183.3 233.9h0.9M191.7 237.7h0.9M188.2 234.3h0.9M183.8 239.3h0.9M194.0 239.6h0.9M187.7 231.5h0.9M185.0 229.0h0.9M182.3 233.7h0.9M180.7 240.7h0.9M184.8 237.8h0.9M191.2 241.1h0.9M180.8 242.4h0.9M188.3 234.8h0.9M182.0 237.3h0.9M189.9 235.8h0.9M191.8 234.0h0.9M180.2 239.5h0.9M180.8 234.7h0.9M188.1 236.1h0.9M184.3 237.2h0.9M174.8 237.4h0.9M188.5 234.2h0.9M185.1 227.8h0.9M180.1 231.3h0.9M185.3 232.7h0.9M185.0 230.0h0.9M184.9 236.1h0.9M184.4 233.9h0.9M182.0 238.8h0.9M189.2 235.3h0.9M192.4 224.4h0.9M185.3 240.6h0.9M186.9 233.5h0.9M190.3 241.8h0.9M186.2 234.4h0.9M187.3 221.4h0.9M187.7 232.7h0.9M185.0 242.2h0.9M185.0 238.5h0.9M188.6 224.8h0.9M180.7 241.8h0.9M185.9 240.7h0.9M180.9 235.0h0.9M190.3 235.6h0.9M183.8 229.3h0.9M182.9 242.7h0.9M177.0 228.9h0.9M179.6 237.8h0.9M181.8 233.2h0.9M184.5 238.1h0.9M181.4 228.8h0.9M188.1 234.7h0.9M181.5 231.6h0.9M188.1 243.5h0.9M186.0 225.3h0.9M184.2 235.1h0.9M188.1 233.4h0.9M191.0 236.2h0.9M191.5 224.7h0.9M185.6 233.6h0.9M185.0 236.8h0.9M185.2 235.1h0.9M187.0 239.3h0.9M184.5 241.9h0.9M187.3 230.0h0.9M179.8 236.6h0.9M181.5 239.7h0.9M189.3 238.5h0.9M183.3 239.6h0.9M185.1 231.2h0.9M179.5 228.3h0.9M176.7 236.7h0.9M182.6 233.9h0.9M191.1 237.9h0.9M192.8 243.6h0.9M187.8 234.0h0.9M185.3 238.8h0.9M184.8 238.0h0.9M182.0 232.9h0.9M177.6 237.2h0.9M182.3 232.4h0.9M179.4 228.2h0.9M187.3 233.5h0.9M188.1 235.9h0.9M183.3 241.0h0.9M186.0 240.9h0.9M189.4 236.4h0.9M188.0 233.8h0.9M190.2 235.0h0.9M190.6 232.4h0.9M182.9 232.1h0.9M184.2 235.2h0.9M182.6 230.9h0.9M185.4 235.9h0.9M182.7 238.3h0.9M182.3 233.1h0.9M192.9 233.0h0.9M185.4 228.0h0.9M184.5 239.1h0.9M186.6 234.3h0.9M190.0 232.8h0.9M186.3 237.1h0.9M184.4 230.4h0.9M181.6 236.5h0.9M189.9 229.5h0.9M183.1 238.4h0.9M187.1 233.8h0.9M182.4 241.6h0.9M182.6 231.6h0.9M185.9 239.5h0.9M183.8 237.2h0.9M178.4 232.2h0.9M181.8 235.8h0.9M175.1 237.0h0.9M182.1 240.7h0.9M190.2 237.6h0.9M186.1 238.7h0.9M178.3 233.0h0.9M190.0 237.8h0.9M184.3 242.0h0.9M183.6 233.0h0.9M187.1 234.0h0.9M189.7 232.2h0.9M181.9 234.8h0.9M192.7 236.4h0.9M186.9 230.4h0.9M194.8 237.7h0.9M190.1 237.3h0.9M181.2 225.8h0.9M188.7 238.2h0.9M192.5 237.2h0.9M184.1 233.1h0.9M192.7 240.3h0.9M179.9 234.1h0.9M182.0 233.1h0.9M188.3 233.1h0.9M190.6 236.3h0.9M183.3 232.1h0.9M184.5 237.7h0.9M181.8 237.2h0.9M190.4 241.1h0.9M191.8 234.4h0.9M186.9 240.1h0.9M180.2 235.5h0.9M190.8 226.9h0.9M188.8 230.7h0.9M176.3 229.2h0.9M181.2 235.7h0.9M191.6 240.5h0.9M189.8 242.3h0.9M185.7 240.3h0.9M175.9 237.2h0.9M182.2 240.1h0.9M183.9 242.2h0.9M183.4 243.2h0.9M186.1 229.4h0.9M182.7 233.0h0.9M184.3 232.4h0.9M180.2 239.7h0.9M182.3 238.1h0.9M176.1 236.1h0.9M187.1 234.2h0.9M182.4 235.1h0.9M187.8 237.8h0.9M193.3 230.8h0.9M189.6 236.4h0.9M182.6 241.4h0.9M178.4 240.5h0.9M184.3 233.5h0.9M182.6 233.3h0.9M179.7 232.4h0.9M182.3 239.6h0.9M189.5 239.6h0.9M180.5 244.3h0.9M184.7 233.7h0.9M183.4 237.7h0.9M179.6 238.9h0.9M186.6 238.0h0.9M179.6 231.4h0.9M185.9 236.1h0.9M184.4 234.0h0.9M183.4 243.6h0.9M182.1 231.8h0.9M187.1 233.8h0.9M188.8 242.2h0.9M184.1 229.9h0.9M184.8 241.1h0.9M190.6 234.9h0.9M192.2 234.0h0.9M176.9 234.6h0.9" stroke="#e2290b" stroke-width="0.9" stroke-opacity="0.55" fill="none"/>
<path d="M190.1 230.4h0.9M192.2 229.2h0.9M182.5 244.7h0.9M185.9 235.1h0.9M182.7 234.0h0.9M182.3 244.1h0.9M192.0 237.8h0.9M183.6 239.2h0.9M187.3 235.7h0.9M180.4 237.9h0.9M193.5 226.4h0.9M179.6 229.9h0.9M196.1 238.4h0.9M182.4 234.7h0.9M189.2 234.5h0.9M187.9 240.0h0.9M196.8 233.8h0.9M186.9 241.6h0.9M175.5 237.6h0.9M191.5 235.1h0.9M186.1 231.4h0.9M192.0 230.8h0.9M187.7 239.7h0.9M188.2 237.5h0.9M180.2 227.3h0.9M181.5 230.1h0.9M183.4 237.8h0.9M190.2 236.1h0.9M188.1 239.1h0.9M199.5 236.1h0.9M179.9 223.5h0.9M192.3 241.6h0.9M187.2 236.1h0.9M193.2 243.3h0.9M177.5 216.1h0.9M191.3 227.5h0.9M192.4 239.6h0.9M180.7 240.8h0.9M183.8 231.8h0.9M197.3 240.3h0.9M192.7 230.5h0.9M188.0 243.5h0.9M192.3 241.3h0.9M181.1 221.7h0.9M193.4 226.0h0.9M198.3 239.6h0.9M191.6 246.8h0.9M181.7 228.6h0.9M186.1 238.2h0.9" stroke="#dc3040" stroke-width="0.9" stroke-opacity="0.42" fill="none"/>
<path d="M180.6 232.2h0.9M192.2 245.6h0.9M191.5 238.7h0.9M182.9 238.0h0.9M189.8 218.8h0.9M181.0 233.8h0.9M177.9 230.7h0.9M185.3 230.5h0.9M178.5 230.4h0.9M181.8 225.5h0.9M186.0 238.0h0.9M185.8 232.0h0.9M188.0 246.3h0.9M206.7 245.1h0.9M183.5 244.9h0.9M181.8 238.4h0.9M184.2 246.9h0.9M191.1 234.5h0.9M186.0 234.7h0.9M182.5 231.0h0.9M182.4 228.1h0.9M192.7 235.2h0.9M191.1 240.1h0.9M174.9 225.2h0.9M182.0 232.6h0.9M184.5 226.3h0.9M194.9 230.1h0.9M192.5 230.1h0.9M183.9 229.6h0.9M192.8 234.6h0.9M183.3 237.0h0.9M197.7 235.5h0.9M197.8 239.3h0.9M186.6 227.9h0.9M185.6 241.8h0.9M182.3 234.8h0.9M196.8 235.1h0.9M189.9 233.1h0.9M192.8 238.7h0.9M185.3 233.0h0.9M183.8 245.1h0.9M176.5 234.0h0.9M178.7 247.0h0.9M190.0 241.2h0.9M187.5 236.3h0.9M189.1 226.9h0.9M188.8 227.7h0.9M182.3 225.0h0.9M201.0 237.0h0.9M186.9 241.2h0.9" stroke="#dc3040" stroke-width="0.9" stroke-opacity="0.42" fill="none"/>
<path d="M177.9 234.0h0.9M191.6 227.1h0.9M189.6 243.0h0.9M178.8 238.6h0.9M183.4 234.2h0.9M190.6 225.8h0.9M176.5 237.9h0.9M181.9 243.9h0.9M187.6 247.4h0.9M190.2 229.3h0.9M190.2 237.9h0.9M176.0 245.4h0.9M182.4 231.4h0.9M182.1 237.1h0.9M187.5 238.0h0.9M181.1 239.7h0.9M198.0 240.3h0.9M187.7 233.7h0.9M206.5 236.4h0.9M184.2 233.5h0.9M182.0 229.0h0.9M190.4 236.2h0.9M182.8 230.3h0.9M181.9 243.0h0.9M185.5 230.5h0.9M187.0 232.6h0.9M179.8 237.0h0.9M188.2 231.7h0.9M190.1 233.0h0.9M188.5 234.6h0.9M193.8 227.4h0.9M186.5 239.4h0.9M189.3 226.4h0.9M188.1 235.1h0.9M198.7 234.9h0.9M188.4 231.5h0.9M188.5 236.6h0.9M196.8 238.5h0.9M198.9 246.9h0.9M185.1 241.7h0.9M183.9 236.9h0.9M192.1 240.1h0.9M192.5 243.3h0.9M178.1 233.6h0.9M180.2 245.2h0.9M185.5 235.2h0.9M180.5 244.2h0.9M188.9 223.1h0.9M175.2 231.0h0.9" stroke="#dc3040" stroke-width="0.9" stroke-opacity="0.42" fill="none"/>
<path d="M186.6 241.5h0.9M184.9 232.5h0.9M183.4 234.2h0.9M176.6 239.7h0.9M190.9 230.8h0.9M189.8 238.7h0.9M192.4 237.0h0.9M190.5 242.5h0.9M184.8 235.2h0.9M187.1 246.1h0.9M181.1 236.6h0.9M183.6 228.4h0.9M186.5 237.1h0.9M180.9 233.6h0.9M177.6 234.9h0.9M180.2 237.0h0.9M188.8 230.5h0.9M205.7 239.5h0.9M181.0 243.7h0.9M189.8 238.6h0.9M197.1 230.8h0.9M189.1 230.0h0.9M190.6 233.8h0.9M178.9 241.3h0.9M184.2 238.1h0.9M186.7 234.0h0.9M181.6 237.7h0.9M183.0 240.2h0.9M176.8 227.1h0.9M186.9 246.1h0.9M198.2 233.7h0.9M176.1 238.7h0.9M183.7 233.1h0.9M174.8 238.7h0.9M183.5 229.6h0.9M191.2 230.2h0.9M193.5 228.8h0.9M184.6 235.2h0.9M180.0 239.6h0.9M187.0 246.3h0.9M187.2 240.0h0.9M183.0 242.5h0.9M179.8 241.2h0.9M183.8 235.7h0.9M190.6 246.5h0.9M189.1 232.7h0.9M186.7 239.4h0.9M191.0 234.0h0.9M178.6 227.4h0.9M188.3 232.0h0.9M185.3 231.8h0.9" stroke="#dc3040" stroke-width="0.9" stroke-opacity="0.42" fill="none"/>
<path d="M190.5 243.9h0.9M175.9 234.7h0.9M199.6 241.7h0.9M190.3 234.7h0.9M181.3 241.3h0.9M186.1 239.2h0.9M179.6 231.6h0.9M191.4 240.2h0.9M189.3 230.1h0.9M181.4 239.3h0.9M192.7 236.9h0.9M191.3 236.3h0.9M184.6 237.8h0.9M186.6 239.2h0.9M177.2 236.4h0.9M182.7 231.8h0.9M193.4 229.9h0.9M184.0 244.8h0.9M182.8 227.9h0.9M192.3 225.2h0.9M192.8 229.4h0.9M192.3 232.0h0.9M182.3 236.2h0.9M180.5 232.5h0.9M184.8 231.6h0.9M191.5 242.4h0.9M187.3 246.4h0.9M193.7 246.3h0.9M193.2 230.8h0.9M188.8 226.6h0.9M186.1 231.2h0.9M183.3 236.6h0.9M188.4 229.9h0.9M187.5 226.5h0.9M191.1 234.5h0.9M189.6 235.0h0.9M189.0 237.5h0.9M189.4 226.1h0.9M177.0 238.0h0.9M197.3 233.4h0.9M195.0 226.0h0.9M187.0 235.7h0.9M186.8 231.7h0.9M178.8 233.4h0.9M192.9 235.7h0.9M182.2 231.0h0.9M196.8 233.8h0.9M194.2 229.4h0.9M177.6 218.1h0.9M182.1 239.7h0.9M179.6 234.2h0.9M179.6 227.4h0.9" stroke="#dc3040" stroke-width="0.9" stroke-opacity="0.42" fill="none"/>
<path d="M185.5 236.3h0.9M199.4 231.3h0.9M191.0 235.1h0.9M182.7 226.4h0.9M182.2 218.6h0.9M176.8 237.9h0.9M181.6 225.7h0.9M194.5 228.1h0.9M183.5 240.9h0.9M194.6 233.6h0.9M181.7 239.4h0.9M197.9 230.8h0.9M183.2 235.6h0.9M189.3 244.1h0.9M182.2 241.3h0.9M185.7 229.6h0.9M179.3 234.5h0.9M183.5 229.5h0.9M189.6 239.4h0.9M191.9 236.2h0.9M181.8 227.8h0.9M200.2 225.8h0.9M193.2 236.4h0.9M188.9 234.6h0.9M179.8 230.3h0.9M195.0 237.1h0.9M188.7 230.4h0.9M187.0 244.0h0.9M180.9 243.2h0.9M198.9 237.3h0.9M194.8 225.9h0.9M191.5 219.1h0.9M188.3 234.7h0.9M189.0 234.6h0.9M187.6 232.3h0.9M191.3 228.9h0.9M175.1 230.4h0.9M197.8 243.6h0.9M181.7 221.4h0.9M178.7 241.9h0.9M179.4 231.8h0.9M179.5 235.6h0.9M183.4 239.3h0.9M194.1 230.4h0.9M184.7 234.2h0.9M195.8 236.7h0.9M191.6 237.9h0.9M195.4 234.9h0.9M184.1 244.9h0.9M187.6 224.5h0.9M184.7 241.5h0.9" stroke="#dc3040" stroke-width="0.9" stroke-opacity="0.42" fill="none"/>
<path d="M232.3 243.6h0.9M240.8 232.7h0.9M236.9 237.6h0.9M237.3 240.0h0.9M241.6 238.8h0.9M237.4 237.5h0.9M242.6 239.0h0.9M225.5 246.1h0.9M252.2 238.3h0.9M238.6 244.2h0.9M240.0 240.2h0.9M238.9 244.9h0.9M237.3 239.9h0.9M235.5 242.4h0.9M235.5 243.0h0.9M232.0 234.3h0.9M242.4 238.9h0.9M231.3 238.9h0.9M232.1 238.2h0.9M240.1 234.0h0.9M239.0 238.0h0.9M229.5 241.5h0.9M237.1 239.0h0.9M245.5 238.9h0.9M237.3 238.1h0.9M229.0 245.1h0.9M233.7 235.7h0.9M237.0 236.0h0.9M235.5 241.7h0.9M238.5 241.3h0.9M238.0 240.6h0.9M231.9 236.3h0.9M234.0 236.7h0.9M242.4 236.1h0.9M240.2 239.7h0.9M251.4 234.1h0.9M233.1 237.5h0.9M230.9 240.1h0.9M239.7 236.6h0.9M239.0 232.5h0.9M237.9 236.9h0.9M234.6 234.1h0.9M238.4 243.6h0.9M234.3 231.7h0.9M242.3 236.7h0.9M248.1 242.6h0.9M245.8 238.1h0.9M239.3 236.0h0.9M249.0 244.2h0.9M237.1 235.4h0.9M238.4 238.2h0.9M238.5 238.7h0.9M231.3 236.5h0.9M235.2 242.9h0.9M240.6 240.5h0.9M239.6 240.4h0.9M236.5 242.7h0.9" stroke="#e2290b" stroke-width="0.9" stroke-opacity="0.5" fill="none"/>
<path d="M243.1 236.0h0.9M246.0 235.0h0.9M237.8 241.9h0.9M233.9 240.7h0.9M229.5 237.4h0.9M236.2 239.4h0.9M233.1 241.1h0.9M244.0 237.1h0.9M234.0 245.7h0.9M239.2 232.3h0.9M248.1 238.5h0.9M230.9 235.9h0.9M242.6 242.8h0.9M230.7 237.5h0.9M237.2 232.3h0.9M242.9 240.1h0.9M236.9 237.0h0.9M241.3 245.0h0.9M234.1 238.0h0.9M238.5 241.5h0.9M232.8 238.0h0.9M234.7 246.3h0.9M240.8 232.0h0.9M232.4 241.5h0.9M243.9 238.8h0.9M230.3 241.0h0.9M235.7 237.8h0.9M235.4 240.0h0.9M235.0 234.7h0.9M241.1 233.5h0.9M231.7 237.0h0.9M243.1 238.7h0.9M229.1 239.4h0.9M236.5 239.0h0.9M232.8 233.0h0.9M234.1 235.8h0.9M237.1 236.5h0.9M240.3 241.2h0.9M231.4 237.2h0.9M236.3 241.3h0.9M236.5 233.1h0.9M231.1 235.1h0.9M235.2 241.0h0.9M232.6 241.7h0.9M232.0 236.4h0.9M237.8 242.1h0.9M236.5 236.7h0.9M238.0 239.5h0.9M234.4 240.8h0.9M245.5 239.9h0.9M233.5 239.2h0.9M244.7 238.6h0.9M231.9 242.2h0.9M240.2 236.3h0.9M243.7 237.3h0.9M232.4 236.4h0.9" stroke="#e2290b" stroke-width="0.9" stroke-opacity="0.5" fill="none"/>
<path d="M242.0 236.3h0.9M234.5 239.6h0.9M244.6 242.4h0.9M238.4 235.0h0.9M231.9 241.7h0.9M238.9 242.6h0.9M241.9 243.9h0.9M246.9 240.1h0.9M235.5 241.0h0.9M232.9 238.7h0.9M246.1 237.2h0.9M233.8 240.0h0.9M234.8 239.6h0.9M235.1 232.4h0.9M243.2 233.3h0.9M233.1 237.5h0.9M234.3 238.2h0.9M231.2 239.8h0.9M238.8 238.2h0.9M240.2 234.6h0.9M228.8 237.3h0.9M239.2 244.5h0.9M237.1 244.8h0.9M233.1 240.3h0.9M236.8 241.9h0.9M241.5 235.7h0.9M231.2 236.9h0.9M239.9 236.4h0.9M230.9 242.1h0.9M243.9 234.1h0.9M241.7 236.6h0.9M234.3 235.5h0.9M231.7 238.4h0.9M242.7 235.8h0.9M230.4 235.8h0.9M240.4 239.0h0.9M231.5 234.0h0.9M236.6 241.6h0.9M241.6 237.2h0.9M237.8 234.2h0.9M228.3 233.9h0.9M240.7 238.1h0.9M240.9 243.8h0.9M236.5 239.8h0.9M240.2 241.0h0.9M247.4 235.6h0.9M232.1 235.7h0.9M242.8 237.3h0.9M234.6 234.6h0.9M242.0 233.1h0.9M233.3 240.0h0.9M239.0 244.1h0.9M234.9 234.4h0.9M237.8 236.6h0.9M229.8 245.8h0.9M241.2 240.0h0.9M242.1 239.6h0.9" stroke="#e2290b" stroke-width="0.9" stroke-opacity="0.5" fill="none"/>
<path d="M237.4 239.8h0.9M245.2 239.7h0.9M234.1 239.6h0.9M227.7 240.1h0.9M235.4 230.5h0.9M233.0 239.7h0.9M246.9 240.5h0.9M243.5 240.0h0.9M242.9 236.0h0.9M239.3 242.1h0.9M231.9 239.5h0.9M244.2 238.2h0.9M234.9 232.0h0.9M238.2 235.7h0.9M236.7 236.1h0.9M232.1 236.3h0.9M227.2 231.1h0.9M239.9 234.6h0.9M232.5 239.4h0.9M239.3 239.8h0.9M237.6 241.6h0.9M241.6 244.0h0.9M242.4 233.0h0.9M240.6 235.2h0.9M229.3 229.0h0.9M238.1 242.0h0.9M236.2 230.8h0.9M242.9 239.1h0.9M237.7 238.4h0.9M228.1 239.4h0.9M241.9 235.7h0.9M228.0 238.4h0.9M236.6 228.5h0.9M236.6 238.8h0.9M232.5 241.0h0.9M239.0 239.5h0.9M226.5 234.3h0.9M239.3 235.4h0.9M241.6 232.3h0.9M249.5 242.3h0.9M240.6 238.7h0.9M232.3 239.9h0.9M232.8 235.1h0.9M235.1 241.7h0.9M237.5 241.0h0.9M235.1 243.0h0.9M232.1 236.0h0.9M245.6 230.7h0.9M239.5 234.2h0.9M233.4 239.5h0.9M241.1 238.7h0.9M240.9 242.1h0.9M247.6 242.0h0.9M241.9 230.8h0.9M228.1 240.3h0.9M235.8 232.2h0.9M230.1 232.9h0.9" stroke="#e2290b" stroke-width="0.9" stroke-opacity="0.5" fill="none"/>
<path d="M232.0 239.9h0.9M235.7 237.9h0.9M241.5 237.6h0.9M236.2 244.4h0.9M246.6 244.4h0.9M238.7 240.9h0.9M241.3 236.0h0.9M240.0 241.7h0.9M238.7 241.3h0.9M238.7 233.6h0.9M230.9 233.1h0.9M238.7 241.6h0.9M232.8 235.9h0.9M238.3 246.2h0.9M237.6 233.3h0.9M242.2 240.8h0.9M244.0 231.0h0.9M237.2 236.5h0.9M240.5 242.3h0.9M241.5 238.7h0.9M242.2 239.5h0.9M235.8 236.4h0.9M234.9 239.9h0.9M252.9 236.0h0.9M232.6 239.3h0.9M243.4 245.4h0.9M236.5 229.6h0.9M242.6 243.5h0.9M237.3 239.7h0.9M234.2 241.0h0.9M239.9 233.5h0.9M238.0 237.3h0.9M224.7 239.4h0.9M231.7 235.1h0.9M243.2 239.9h0.9M236.3 238.3h0.9M237.7 235.3h0.9M246.0 235.5h0.9M232.2 243.0h0.9M234.2 239.6h0.9M242.0 237.9h0.9M237.4 241.7h0.9M249.3 240.4h0.9M233.3 238.9h0.9M241.3 233.3h0.9M244.2 240.2h0.9M234.3 241.6h0.9M232.4 235.9h0.9M238.6 236.6h0.9M228.9 242.7h0.9M236.0 238.1h0.9M237.9 241.7h0.9M245.2 233.3h0.9M235.0 238.1h0.9M235.2 239.8h0.9M238.2 239.1h0.9" stroke="#e2290b" stroke-width="0.9" stroke-opacity="0.5" fill="none"/>
<path d="M240.2 240.2h0.9M240.0 243.2h0.9M236.1 241.1h0.9M242.4 237.2h0.9M235.3 240.3h0.9M239.8 242.9h0.9M240.8 241.3h0.9M241.6 236.8h0.9M226.8 238.6h0.9M228.6 235.5h0.9M237.8 235.2h0.9M242.6 239.6h0.9M228.0 243.7h0.9M239.4 242.9h0.9M225.3 238.8h0.9M231.3 240.0h0.9M228.4 235.8h0.9M236.1 233.6h0.9M238.6 240.9h0.9M239.3 244.7h0.9M232.8 237.4h0.9M231.5 238.0h0.9M241.7 233.8h0.9M239.9 241.9h0.9M244.1 243.1h0.9M232.1 236.0h0.9M241.7 233.5h0.9M245.6 242.0h0.9M236.2 246.3h0.9M240.8 233.5h0.9M239.5 237.5h0.9M242.5 238.8h0.9M240.5 240.9h0.9M235.9 238.9h0.9M241.6 235.3h0.9M231.7 232.8h0.9M238.3 239.3h0.9M240.7 233.0h0.9M235.7 239.6h0.9M246.0 233.8h0.9M235.4 236.9h0.9M241.3 242.3h0.9M244.4 242.5h0.9M234.1 242.7h0.9M236.9 241.7h0.9M240.5 235.5h0.9M242.5 237.0h0.9M234.8 239.1h0.9M231.9 228.5h0.9M235.6 239.3h0.9M245.2 236.0h0.9M232.0 246.1h0.9M229.2 242.7h0.9M228.2 237.2h0.9M240.8 245.3h0.9" stroke="#e2290b" stroke-width="0.9" stroke-opacity="0.5" fill="none"/>
<path d="M228.2 237.7h0.9M236.3 238.4h0.9M213.8 238.7h0.9M231.2 233.2h0.9M217.2 239.7h0.9M219.3 228.3h0.9M222.0 232.3h0.9M211.6 244.8h0.9M207.9 236.5h0.9M237.2 235.8h0.9M210.3 240.7h0.9M225.6 239.6h0.9M212.9 235.6h0.9M222.5 243.3h0.9M217.1 237.2h0.9M245.9 231.3h0.9M230.1 237.9h0.9M220.7 237.8h0.9M193.5 240.3h0.9M220.3 233.9h0.9M227.9 241.6h0.9M228.6 236.1h0.9M226.1 239.7h0.9M235.4 238.7h0.9M206.1 241.5h0.9M209.5 238.1h0.9M199.2 236.1h0.9M229.1 235.1h0.9M227.6 233.8h0.9M240.8 236.7h0.9M210.0 229.6h0.9M216.3 232.3h0.9M211.9 236.1h0.9M217.0 230.1h0.9M220.5 237.6h0.9M223.1 233.2h0.9M215.5 238.3h0.9M211.8 239.1h0.9M215.0 235.8h0.9M224.1 232.9h0.9" stroke="#dc3040" stroke-width="0.9" stroke-opacity="0.38" fill="none"/>
<path d="M213.5 235.8h0.9M219.2 238.4h0.9M237.1 239.9h0.9M214.5 241.9h0.9M207.3 231.3h0.9M208.9 235.6h0.9M228.2 240.0h0.9M219.1 237.2h0.9M220.5 234.2h0.9M225.3 231.6h0.9M235.4 238.1h0.9M213.5 236.9h0.9M219.0 230.4h0.9M225.5 239.2h0.9M221.7 237.4h0.9M222.1 237.0h0.9M210.2 241.1h0.9M232.3 232.9h0.9M217.8 241.0h0.9M234.7 238.6h0.9M221.7 241.5h0.9M215.3 232.3h0.9M225.4 240.0h0.9M216.0 240.5h0.9M219.1 229.7h0.9M222.1 236.1h0.9M217.8 238.0h0.9M205.0 233.4h0.9M246.2 235.5h0.9M227.8 231.4h0.9M229.2 235.5h0.9M224.9 235.0h0.9M218.6 230.3h0.9M232.0 232.2h0.9M228.5 239.3h0.9M194.2 246.1h0.9M234.4 233.4h0.9M244.1 237.0h0.9M214.5 240.0h0.9M214.2 239.4h0.9" stroke="#dc3040" stroke-width="0.9" stroke-opacity="0.38" fill="none"/>
<path d="M216.9 236.4h0.9M222.9 244.8h0.9M223.6 238.0h0.9M216.9 241.5h0.9M216.0 233.3h0.9M219.3 230.3h0.9M208.7 232.5h0.9M215.1 234.3h0.9M245.7 239.8h0.9M222.5 232.0h0.9M230.5 238.5h0.9M229.3 239.5h0.9M212.8 240.7h0.9M218.0 241.2h0.9M219.2 243.3h0.9M220.2 235.1h0.9M217.3 239.4h0.9M207.4 236.9h0.9M230.6 239.3h0.9M213.3 236.9h0.9M233.8 233.6h0.9M231.1 238.7h0.9M230.3 239.9h0.9M230.5 238.6h0.9M224.3 232.2h0.9M220.6 242.7h0.9M224.5 235.4h0.9M225.2 236.2h0.9M224.1 229.5h0.9M227.1 234.6h0.9M226.5 238.3h0.9M219.1 230.9h0.9M211.2 240.8h0.9M216.6 237.9h0.9M233.7 243.7h0.9M228.6 242.1h0.9M214.5 235.8h0.9M218.3 242.5h0.9M226.3 243.8h0.9M195.7 241.6h0.9" stroke="#dc3040" stroke-width="0.9" stroke-opacity="0.38" fill="none"/>
<path d="M216.5 243.9h0.9M238.3 234.9h0.9M222.1 240.8h0.9M205.7 236.6h0.9M220.6 241.3h0.9M226.2 238.0h0.9M216.2 233.2h0.9M222.1 246.8h0.9M231.3 242.2h0.9M232.3 235.8h0.9M223.6 233.6h0.9M212.4 236.3h0.9M220.5 238.8h0.9M233.5 234.6h0.9M235.2 242.0h0.9M230.3 243.3h0.9M230.9 238.4h0.9M215.0 237.2h0.9M228.2 238.4h0.9M209.1 237.2h0.9M228.5 242.6h0.9M233.0 242.2h0.9M206.6 239.1h0.9M223.2 236.3h0.9M234.2 230.8h0.9M234.8 234.9h0.9M212.3 233.6h0.9M223.4 238.6h0.9M214.7 229.5h0.9M224.5 235.3h0.9M223.7 239.2h0.9M225.5 240.4h0.9M234.2 242.1h0.9M219.7 231.7h0.9M230.4 239.4h0.9M228.0 238.0h0.9M213.8 236.1h0.9M239.1 227.7h0.9M233.7 240.7h0.9M223.2 236.5h0.9" stroke="#dc3040" stroke-width="0.9" stroke-opacity="0.38" fill="none"/>
<path d="M215.1 241.4h0.9M219.2 238.9h0.9M217.9 234.0h0.9M211.3 235.4h0.9M196.6 236.6h0.9M221.8 237.1h0.9M225.6 236.6h0.9M205.8 234.1h0.9M233.7 232.1h0.9M210.1 233.6h0.9M219.5 234.8h0.9M234.8 232.5h0.9M204.3 240.2h0.9M205.4 236.0h0.9M221.7 238.2h0.9M216.0 243.7h0.9M239.2 241.3h0.9M214.0 235.8h0.9M234.0 233.2h0.9M225.1 239.5h0.9M224.2 236.0h0.9M231.0 231.3h0.9M215.9 235.5h0.9M240.7 237.2h0.9M228.3 235.2h0.9M230.9 234.5h0.9M216.8 231.9h0.9M219.9 245.5h0.9M217.0 229.9h0.9M217.5 234.6h0.9M213.5 228.6h0.9M213.6 232.9h0.9M223.2 240.3h0.9M217.2 242.6h0.9M210.1 240.7h0.9M215.6 241.8h0.9M219.2 233.8h0.9M223.0 231.6h0.9M204.9 239.5h0.9" stroke="#dc3040" stroke-width="0.9" stroke-opacity="0.38" fill="none"/>
<path d="M238.4 243.7h0.9M217.7 238.0h0.9M213.2 239.5h0.9M217.0 237.4h0.9M227.6 232.2h0.9M222.3 245.0h0.9M222.1 233.9h0.9M206.2 235.8h0.9M221.9 235.4h0.9M200.6 238.6h0.9M220.1 238.9h0.9M218.5 238.5h0.9M217.0 235.4h0.9M219.6 242.5h0.9M212.8 245.0h0.9M219.6 235.4h0.9M221.0 245.2h0.9M201.7 240.2h0.9M195.2 236.0h0.9M221.9 236.2h0.9M218.1 234.4h0.9M209.3 239.1h0.9M221.0 240.9h0.9M225.0 239.8h0.9M219.1 234.7h0.9M208.1 234.0h0.9M233.5 238.1h0.9M227.4 243.8h0.9M228.9 240.9h0.9M222.6 243.2h0.9M219.3 238.0h0.9M234.3 241.3h0.9M235.1 241.1h0.9M222.8 243.0h0.9M203.8 243.1h0.9M227.7 238.7h0.9M224.3 239.4h0.9M218.9 241.3h0.9M213.2 236.6h0.9M215.8 236.7h0.9" stroke="#dc3040" stroke-width="0.9" stroke-opacity="0.38" fill="none"/>
<path d="M242.2 183.2h0.9M233.9 184.8h0.9M233.0 205.9h0.9M236.6 211.9h0.9M239.1 181.0h0.9M236.4 182.4h0.9M226.3 180.1h0.9M230.3 175.0h0.9M237.7 178.3h0.9M240.1 195.6h0.9M237.1 188.5h0.9M231.7 183.7h0.9M234.5 187.4h0.9" stroke="#dc3040" stroke-width="0.9" stroke-opacity="0.35" fill="none"/>
<path d="M234.5 194.7h0.9M234.2 184.7h0.9M236.0 185.5h0.9M231.8 187.6h0.9M232.4 198.4h0.9M237.2 196.9h0.9M237.5 176.9h0.9M235.3 196.9h0.9M231.3 187.1h0.9M233.0 199.9h0.9M238.6 198.4h0.9M232.2 177.8h0.9M229.6 206.7h0.9" stroke="#dc3040" stroke-width="0.9" stroke-opacity="0.35" fill="none"/>
<path d="M235.0 191.3h0.9M236.2 186.7h0.9M232.1 186.4h0.9M232.3 189.1h0.9M230.5 170.9h0.9M231.8 196.5h0.9M235.3 188.6h0.9M232.3 192.8h0.9M229.0 187.2h0.9M233.3 202.8h0.9M233.9 197.0h0.9M232.9 193.0h0.9M236.2 201.2h0.9" stroke="#dc3040" stroke-width="0.9" stroke-opacity="0.35" fill="none"/>
<path d="M236.4 173.3h0.9M236.5 191.7h0.9M229.4 189.0h0.9M242.0 196.4h0.9M236.8 195.4h0.9M231.9 182.1h0.9M239.9 181.1h0.9M223.5 183.1h0.9M237.0 213.1h0.9M230.9 181.5h0.9M241.9 177.6h0.9M231.1 183.5h0.9" stroke="#dc3040" stroke-width="0.9" stroke-opacity="0.35" fill="none"/>
<path d="M238.5 181.3h0.9M232.4 195.8h0.9M232.6 192.2h0.9M235.9 189.6h0.9M228.0 196.7h0.9M233.6 193.0h0.9M229.2 171.8h0.9M233.8 176.1h0.9M232.5 171.4h0.9M225.4 197.9h0.9M231.8 182.9h0.9M232.3 196.0h0.9" stroke="#dc3040" stroke-width="0.9" stroke-opacity="0.35" fill="none"/>
<path d="M236.9 199.2h0.9M231.5 188.0h0.9M231.9 203.9h0.9M230.0 198.4h0.9M233.7 213.2h0.9M239.2 183.0h0.9M238.9 193.2h0.9M235.7 182.3h0.9M238.5 185.1h0.9M234.0 164.1h0.9M233.9 170.7h0.9M235.3 189.5h0.9" stroke="#dc3040" stroke-width="0.9" stroke-opacity="0.35" fill="none"/>
<path d="M185.1 173.9h0.9M259.5 177.1h0.9M250.3 239.7h0.9" stroke="#dc3040" stroke-width="0.9" stroke-opacity="0.3" fill="none"/>
<path d="M215.9 221.9h0.9M253.1 162.3h0.9M209.5 209.1h0.9" stroke="#dc3040" stroke-width="0.9" stroke-opacity="0.3" fill="none"/>
<path d="M178.7 186.8h0.9M195.0 243.7h0.9M202.4 217.6h0.9" stroke="#dc3040" stroke-width="0.9" stroke-opacity="0.3" fill="none"/>
<path d="M263.1 231.1h0.9M182.0 171.4h0.9M216.8 214.0h0.9" stroke="#dc3040" stroke-width="0.9" stroke-opacity="0.3" fill="none"/>
<path d="M215.0 242.6h0.9M240.4 225.1h0.9M178.9 181.2h0.9" stroke="#dc3040" stroke-width="0.9" stroke-opacity="0.3" fill="none"/>
<path d="M206.9 203.5h0.9M207.6 162.7h0.9M190.9 171.2h0.9" stroke="#dc3040" stroke-width="0.9" stroke-opacity="0.3" fill="none"/>
<line x1="207.50" y1="160.20" x2="207.50" y2="249.50" stroke="#bdbdbd" stroke-width="1.05" />
<line x1="173.50" y1="219.70" x2="267.90" y2="219.70" stroke="#c4c4c4" stroke-width="1.2" />
<text x="174.00" y="166.50" font-size="5.9" text-anchor="start" fill="#2a2a3a" font-weight="bold" textLength="6.4" lengthAdjust="spacingAndGlyphs">D1</text>
<text x="207.70" y="166.50" font-size="5.9" text-anchor="start" fill="#2a2a3a" font-weight="bold" textLength="6.4" lengthAdjust="spacingAndGlyphs">D2</text>
<text x="174.00" y="226.50" font-size="5.9" text-anchor="start" fill="#2a2a3a" font-weight="bold" textLength="6.4" lengthAdjust="spacingAndGlyphs">D3</text>
<text x="207.70" y="226.50" font-size="5.9" text-anchor="start" fill="#2a2a3a" font-weight="bold" textLength="6.4" lengthAdjust="spacingAndGlyphs">D4</text>
<rect x="173.50" y="160.20" width="94.40" height="89.30" fill="none" stroke="#1a1a1a" stroke-width="1.5"/>
<path d="M173.50 249.50h-3.0M173.50 249.50v3.0M173.50 242.78h-1.7M180.60 249.50v1.7M173.50 238.85h-1.7M184.76 249.50v1.7M173.50 236.06h-1.7M187.71 249.50v1.7M173.50 233.90h-1.7M190.00 249.50v1.7M173.50 232.13h-1.7M191.86 249.50v1.7M173.50 230.63h-1.7M193.44 249.50v1.7M173.50 229.34h-1.7M194.81 249.50v1.7M173.50 228.20h-1.7M196.02 249.50v1.7M173.50 227.17h-3.0M197.10 249.50v3.0M173.50 220.45h-1.7M204.20 249.50v1.7M173.50 216.52h-1.7M208.36 249.50v1.7M173.50 213.73h-1.7M211.31 249.50v1.7M173.50 211.57h-1.7M213.60 249.50v1.7M173.50 209.80h-1.7M215.46 249.50v1.7M173.50 208.31h-1.7M217.04 249.50v1.7M173.50 207.01h-1.7M218.41 249.50v1.7M173.50 205.87h-1.7M219.62 249.50v1.7M173.50 204.85h-3.0M220.70 249.50v3.0M173.50 198.13h-1.7M227.80 249.50v1.7M173.50 194.20h-1.7M231.96 249.50v1.7M173.50 191.41h-1.7M234.91 249.50v1.7M173.50 189.25h-1.7M237.20 249.50v1.7M173.50 187.48h-1.7M239.06 249.50v1.7M173.50 185.98h-1.7M240.64 249.50v1.7M173.50 184.69h-1.7M242.01 249.50v1.7M173.50 183.55h-1.7M243.22 249.50v1.7M173.50 182.52h-3.0M244.30 249.50v3.0M173.50 175.80h-1.7M251.40 249.50v1.7M173.50 171.87h-1.7M255.56 249.50v1.7M173.50 169.08h-1.7M258.51 249.50v1.7M173.50 166.92h-1.7M260.80 249.50v1.7M173.50 165.15h-1.7M262.66 249.50v1.7M173.50 163.66h-1.7M264.24 249.50v1.7M173.50 162.36h-1.7M265.61 249.50v1.7M173.50 161.22h-1.7M266.82 249.50v1.7M173.50 160.20h-3M267.90 249.50v3" stroke="#1a1a1a" stroke-width="1" fill="none"/>
<text x="167.90" y="231.07" font-size="8.2" text-anchor="end" fill="#222">10<tspan font-size="6.0" dy="-3.8">0</tspan></text>
<text x="167.90" y="208.75" font-size="8.2" text-anchor="end" fill="#222">10<tspan font-size="6.0" dy="-3.8">1</tspan></text>
<text x="167.90" y="186.42" font-size="8.2" text-anchor="end" fill="#222">10<tspan font-size="6.0" dy="-3.8">2</tspan></text>
<text x="167.90" y="164.10" font-size="8.2" text-anchor="end" fill="#222">10<tspan font-size="6.0" dy="-3.8">3</tspan></text>
<text x="196.60" y="264.00" font-size="8.2" text-anchor="middle" fill="#222">10<tspan font-size="6.0" dy="-3.8">0</tspan></text>
<text x="220.20" y="264.00" font-size="8.2" text-anchor="middle" fill="#222">10<tspan font-size="6.0" dy="-3.8">1</tspan></text>
<text x="243.80" y="264.00" font-size="8.2" text-anchor="middle" fill="#222">10<tspan font-size="6.0" dy="-3.8">2</tspan></text>
<text x="267.40" y="264.00" font-size="8.2" text-anchor="middle" fill="#222">10<tspan font-size="6.0" dy="-3.8">3</tspan></text>
<text x="220.30" y="155.00" font-size="10.0" text-anchor="middle" fill="#222" textLength="38.4" lengthAdjust="spacingAndGlyphs">OP9-DL1</text>
<path d="M26 274.5 V37" stroke="#2a2a2a" stroke-width="1.7" fill="none"/>
<path d="M25.2 274.5 H262" stroke="#1a1a1a" stroke-width="1.6" fill="none"/>
<path d="M26 27.4 L31 38.6 L26 36.4 L21 38.6 Z" fill="#1a1a1a"/>
<path d="M271.5 274.5 L260.3 269.8 L262.6 274.5 L260.3 279.3 Z" fill="#1a1a1a"/>
<text x="0" y="0" font-size="10.3" fill="#222" text-anchor="middle" textLength="36.5" lengthAdjust="spacingAndGlyphs" transform="translate(18.2 148) rotate(-90)">KIR2DL3</text>
<text x="149.10" y="287.60" font-size="10.3" text-anchor="middle" fill="#222" textLength="24.4" lengthAdjust="spacingAndGlyphs">CD56</text>
<rect x="332.10" y="116.09" width="26.40" height="52.91" fill="#a10028"/>
<line x1="345.30" y1="116.09" x2="345.30" y2="94.41" stroke="#1a1a1a" stroke-width="1.1" />
<line x1="338.70" y1="94.41" x2="351.90" y2="94.41" stroke="#1a1a1a" stroke-width="1.2" />
<rect x="371.40" y="87.64" width="26.40" height="81.36" fill="#2d4b7d"/>
<line x1="384.60" y1="87.64" x2="384.60" y2="68.56" stroke="#1a1a1a" stroke-width="1.1" />
<line x1="378.00" y1="68.56" x2="391.20" y2="68.56" stroke="#1a1a1a" stroke-width="1.2" />
<rect x="411.30" y="165.18" width="26.40" height="3.82" fill="#6cb43f"/>
<line x1="424.50" y1="165.18" x2="424.50" y2="161.71" stroke="#1a1a1a" stroke-width="1.1" />
<line x1="417.90" y1="161.71" x2="431.10" y2="161.71" stroke="#1a1a1a" stroke-width="1.2" />
<rect x="450.60" y="141.25" width="26.40" height="27.75" fill="#55236a"/>
<line x1="463.80" y1="141.25" x2="463.80" y2="136.04" stroke="#1a1a1a" stroke-width="1.1" />
<line x1="457.20" y1="136.04" x2="470.40" y2="136.04" stroke="#1a1a1a" stroke-width="1.2" />
<line x1="325.60" y1="36.50" x2="325.60" y2="169.60" stroke="#1a1a1a" stroke-width="1.4" />
<line x1="325.00" y1="169.00" x2="483.50" y2="169.00" stroke="#1a1a1a" stroke-width="1.4" />
<line x1="322.40" y1="169.00" x2="325.60" y2="169.00" stroke="#1a1a1a" stroke-width="1.1" />
<text x="318.90" y="172.00" font-size="8.1" text-anchor="end" fill="#222" >0</text>
<line x1="322.40" y1="125.63" x2="325.60" y2="125.63" stroke="#1a1a1a" stroke-width="1.1" />
<text x="318.90" y="128.63" font-size="8.1" text-anchor="end" fill="#222" >5</text>
<line x1="322.40" y1="82.27" x2="325.60" y2="82.27" stroke="#1a1a1a" stroke-width="1.1" />
<text x="318.90" y="85.27" font-size="8.1" text-anchor="end" fill="#222" >10</text>
<line x1="322.40" y1="38.90" x2="325.60" y2="38.90" stroke="#1a1a1a" stroke-width="1.1" />
<text x="318.90" y="41.90" font-size="8.1" text-anchor="end" fill="#222" >15</text>
<line x1="345.30" y1="169.00" x2="345.30" y2="172.60" stroke="#1a1a1a" stroke-width="1.1" />
<line x1="384.60" y1="169.00" x2="384.60" y2="172.60" stroke="#1a1a1a" stroke-width="1.1" />
<line x1="424.50" y1="169.00" x2="424.50" y2="172.60" stroke="#1a1a1a" stroke-width="1.1" />
<line x1="463.80" y1="169.00" x2="463.80" y2="172.60" stroke="#1a1a1a" stroke-width="1.1" />
<text x="345.00" y="183.40" font-size="8.4" text-anchor="middle" fill="#222" textLength="33.8" lengthAdjust="spacingAndGlyphs">EL08.1D2</text>
<text x="384.60" y="183.40" font-size="8.4" text-anchor="middle" fill="#222" textLength="16.6" lengthAdjust="spacingAndGlyphs">MSC</text>
<text x="424.20" y="183.40" font-size="8.4" text-anchor="middle" fill="#222" textLength="15.4" lengthAdjust="spacingAndGlyphs">OP9</text>
<text x="463.50" y="183.40" font-size="8.4" text-anchor="middle" fill="#222" textLength="32.1" lengthAdjust="spacingAndGlyphs">OP9-DL1</text>
<text x="0" y="0" font-size="9.2" fill="#222" text-anchor="middle" textLength="53.3" lengthAdjust="spacingAndGlyphs" transform="translate(303.1 103.2) rotate(-90)">KIR2DL3 [%]</text>
<path d="M380.8 39 V35.9 H461.8 V39" stroke="#333" stroke-width="1.1" fill="none"/>
<path d="M380.8 52.8 V49.8 H429.2 V52.8" stroke="#333" stroke-width="1.1" fill="none"/>
<path d="M421.30 30.25L421.30 32.95M420.13 30.93L422.47 32.27M422.47 30.93L420.13 32.27" stroke="#222" stroke-width="1.25" fill="none"/>
<path d="M405.00 44.05L405.00 46.75M403.83 44.73L406.17 46.07M406.17 44.73L403.83 46.07" stroke="#222" stroke-width="1.25" fill="none"/>
<rect x="72.00" y="362.19" width="59.40" height="80.81" fill="#a10028"/>
<line x1="101.70" y1="362.19" x2="101.70" y2="360.29" stroke="#1a1a1a" stroke-width="1.1" />
<line x1="86.50" y1="360.29" x2="116.90" y2="360.29" stroke="#1a1a1a" stroke-width="1.2" />
<rect x="160.40" y="371.89" width="59.40" height="71.11" fill="#2d4b7d"/>
<line x1="190.10" y1="371.89" x2="190.10" y2="365.77" stroke="#1a1a1a" stroke-width="1.1" />
<line x1="174.90" y1="365.77" x2="205.30" y2="365.77" stroke="#1a1a1a" stroke-width="1.2" />
<line x1="57.20" y1="313.50" x2="57.20" y2="443.60" stroke="#1a1a1a" stroke-width="1.4" />
<line x1="56.60" y1="443.00" x2="234.00" y2="443.00" stroke="#1a1a1a" stroke-width="1.4" />
<line x1="54.00" y1="443.00" x2="57.20" y2="443.00" stroke="#1a1a1a" stroke-width="1.1" />
<text x="51.00" y="446.10" font-size="8.3" text-anchor="end" fill="#222" >0</text>
<line x1="54.00" y1="421.90" x2="57.20" y2="421.90" stroke="#1a1a1a" stroke-width="1.1" />
<text x="51.00" y="425.00" font-size="8.3" text-anchor="end" fill="#222" >10</text>
<line x1="54.00" y1="400.80" x2="57.20" y2="400.80" stroke="#1a1a1a" stroke-width="1.1" />
<text x="51.00" y="403.90" font-size="8.3" text-anchor="end" fill="#222" >20</text>
<line x1="54.00" y1="379.70" x2="57.20" y2="379.70" stroke="#1a1a1a" stroke-width="1.1" />
<text x="51.00" y="382.80" font-size="8.3" text-anchor="end" fill="#222" >30</text>
<line x1="54.00" y1="358.60" x2="57.20" y2="358.60" stroke="#1a1a1a" stroke-width="1.1" />
<text x="51.00" y="361.70" font-size="8.3" text-anchor="end" fill="#222" >40</text>
<line x1="54.00" y1="337.50" x2="57.20" y2="337.50" stroke="#1a1a1a" stroke-width="1.1" />
<text x="51.00" y="340.60" font-size="8.3" text-anchor="end" fill="#222" >50</text>
<line x1="54.00" y1="316.40" x2="57.20" y2="316.40" stroke="#1a1a1a" stroke-width="1.1" />
<text x="51.00" y="319.50" font-size="8.3" text-anchor="end" fill="#222" >60</text>
<line x1="101.70" y1="443.00" x2="101.70" y2="446.60" stroke="#1a1a1a" stroke-width="1.1" />
<line x1="190.10" y1="443.00" x2="190.10" y2="446.60" stroke="#1a1a1a" stroke-width="1.1" />
<text x="101.90" y="457.70" font-size="8.4" text-anchor="middle" fill="#222" textLength="33.7" lengthAdjust="spacingAndGlyphs">EL08.1D2</text>
<text x="190.20" y="457.80" font-size="8.4" text-anchor="middle" fill="#222" textLength="16.5" lengthAdjust="spacingAndGlyphs">MSC</text>
<text x="0" y="0" font-size="9.4" fill="#222" text-anchor="middle" textLength="93.6" lengthAdjust="spacingAndGlyphs" transform="translate(34.1 379.5) rotate(-90)">Cytotoxic NK cells [%]</text>
<rect x="342.50" y="374.35" width="23.80" height="67.95" fill="#a10028"/>
<line x1="354.40" y1="374.35" x2="354.40" y2="356.80" stroke="#1a1a1a" stroke-width="1.1" />
<line x1="348.70" y1="356.80" x2="360.10" y2="356.80" stroke="#1a1a1a" stroke-width="1.2" />
<rect x="378.10" y="367.82" width="23.80" height="74.48" fill="#2d4b7d"/>
<line x1="390.00" y1="367.82" x2="390.00" y2="364.45" stroke="#1a1a1a" stroke-width="1.1" />
<line x1="384.30" y1="364.45" x2="395.70" y2="364.45" stroke="#1a1a1a" stroke-width="1.2" />
<rect x="436.40" y="355.23" width="23.80" height="87.07" fill="#a10028"/>
<line x1="448.30" y1="355.23" x2="448.30" y2="351.85" stroke="#1a1a1a" stroke-width="1.1" />
<line x1="442.60" y1="351.85" x2="454.00" y2="351.85" stroke="#1a1a1a" stroke-width="1.2" />
<rect x="471.40" y="337.23" width="23.80" height="105.07" fill="#2d4b7d"/>
<line x1="483.30" y1="337.23" x2="483.30" y2="324.18" stroke="#1a1a1a" stroke-width="1.1" />
<line x1="477.60" y1="324.18" x2="489.00" y2="324.18" stroke="#1a1a1a" stroke-width="1.2" />
<line x1="325.30" y1="305.00" x2="325.30" y2="442.90" stroke="#1a1a1a" stroke-width="1.4" />
<line x1="324.70" y1="442.30" x2="512.50" y2="442.30" stroke="#1a1a1a" stroke-width="1.4" />
<line x1="322.20" y1="442.30" x2="325.30" y2="442.30" stroke="#1a1a1a" stroke-width="1.1" />
<text x="318.90" y="445.30" font-size="8.1" text-anchor="end" fill="#222" >0</text>
<line x1="322.20" y1="397.30" x2="325.30" y2="397.30" stroke="#1a1a1a" stroke-width="1.1" />
<text x="318.90" y="400.30" font-size="8.1" text-anchor="end" fill="#222" >20</text>
<line x1="322.20" y1="352.30" x2="325.30" y2="352.30" stroke="#1a1a1a" stroke-width="1.1" />
<text x="318.90" y="355.30" font-size="8.1" text-anchor="end" fill="#222" >40</text>
<line x1="322.20" y1="307.30" x2="325.30" y2="307.30" stroke="#1a1a1a" stroke-width="1.1" />
<text x="318.90" y="310.30" font-size="8.1" text-anchor="end" fill="#222" >60</text>
<line x1="372.20" y1="442.30" x2="372.20" y2="445.80" stroke="#1a1a1a" stroke-width="1.1" />
<line x1="465.80" y1="442.30" x2="465.80" y2="445.80" stroke="#1a1a1a" stroke-width="1.1" />
<text x="372.60" y="457.90" font-size="8.6" text-anchor="middle" fill="#222" textLength="43.4" lengthAdjust="spacingAndGlyphs">Granzyme B</text>
<text x="465.70" y="458.60" font-size="8.6" text-anchor="middle" fill="#222" textLength="28.8" lengthAdjust="spacingAndGlyphs">Perforin</text>
<text x="0" y="0" font-size="9.3" fill="#222" text-anchor="middle" textLength="53.5" lengthAdjust="spacingAndGlyphs" transform="translate(301.5 372.6) rotate(-90)">Frequency [%]</text>
<rect x="332.00" y="309.20" width="19.20" height="7.80" fill="#a10028"/>
<rect x="332.00" y="324.60" width="19.20" height="8.10" fill="#2d4b7d"/>
<text x="358.50" y="317.20" font-size="8.4" text-anchor="start" fill="#222" textLength="34.6" lengthAdjust="spacingAndGlyphs">EL08.1D2</text>
<text x="358.20" y="332.30" font-size="8.4" text-anchor="start" fill="#222" textLength="16.6" lengthAdjust="spacingAndGlyphs">MSC</text>
</svg>
</body></html>
